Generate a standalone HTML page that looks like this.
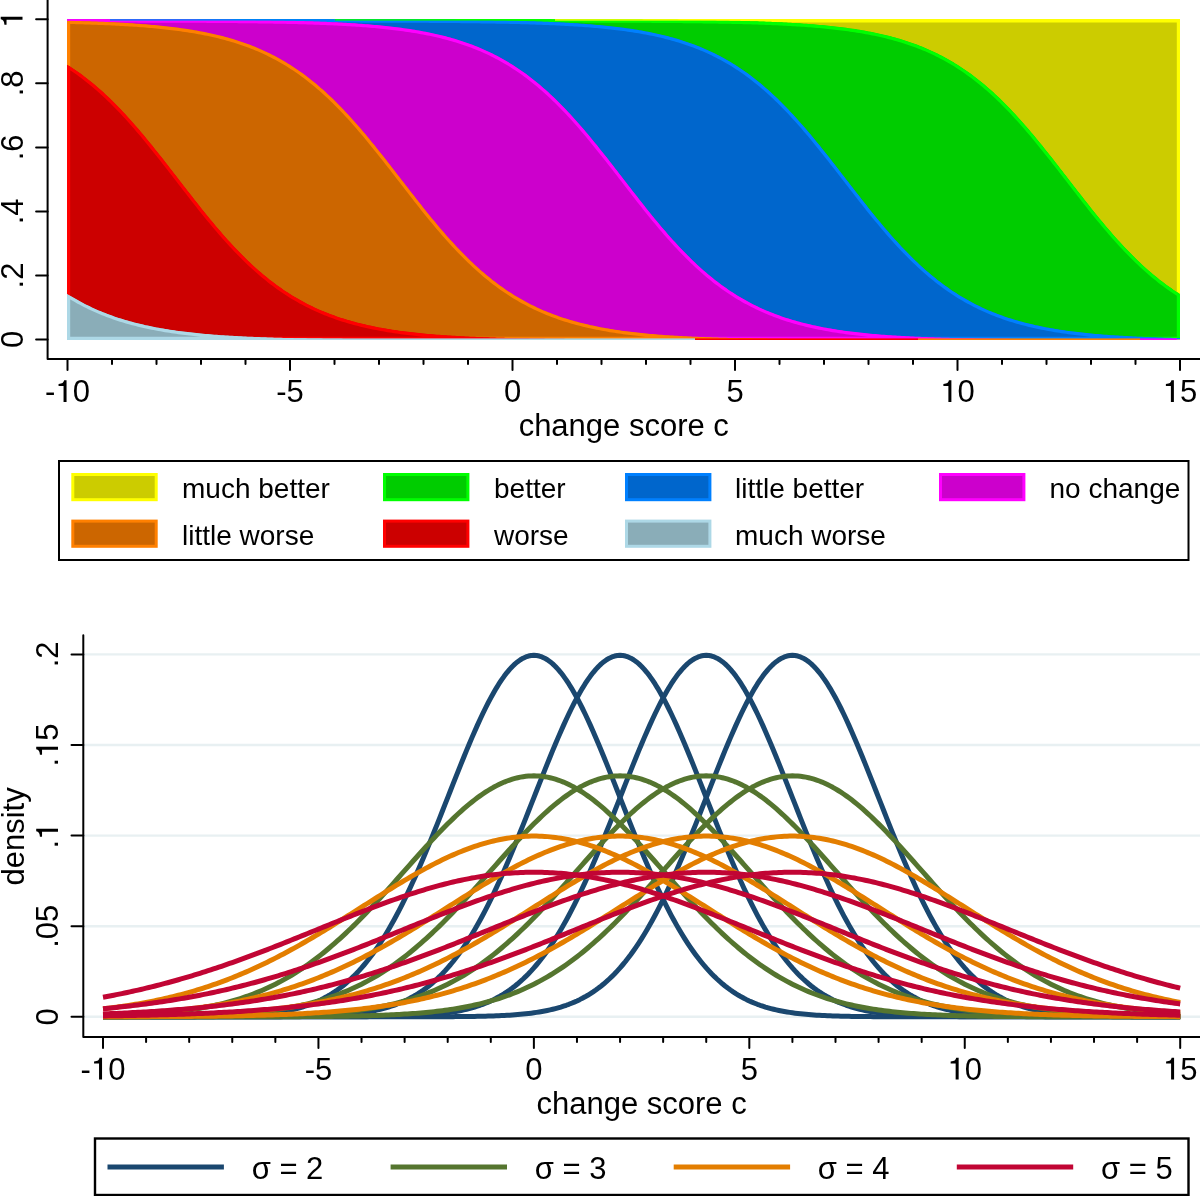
<!DOCTYPE html><html><head><meta charset="utf-8"><style>html,body{margin:0;padding:0;background:#fff;}svg{display:block;will-change:transform;}text{font-family:"Liberation Sans",sans-serif;fill:#000;}</style></head><body>
<svg width="1200" height="1196" viewBox="0 0 1200 1196">
<rect x="0" y="0" width="1200" height="1196" fill="#fff"/>
<defs><clipPath id="cp6"><path d="M67,340 L67,19.3 L69.73,19.3 L71.95,19.3 L74.18,19.3 L76.4,19.3 L78.62,19.3 L80.85,19.3 L83.07,19.3 L85.3,19.3 L87.52,19.3 L89.75,19.3 L91.98,19.3 L94.2,19.3 L96.43,19.3 L98.65,19.3 L100.88,19.3 L103.1,19.3 L105.32,19.3 L107.55,19.3 L109.77,19.3 L112,19.3 L114.23,19.3 L116.45,19.3 L118.68,19.3 L120.9,19.3 L123.12,19.3 L125.35,19.3 L127.57,19.3 L129.8,19.3 L132.02,19.3 L134.25,19.3 L136.48,19.3 L138.7,19.3 L140.93,19.3 L143.15,19.3 L145.38,19.3 L147.6,19.3 L149.82,19.3 L152.05,19.3 L154.27,19.3 L156.5,19.3 L158.72,19.3 L160.95,19.3 L163.18,19.3 L165.4,19.3 L167.62,19.3 L169.85,19.3 L172.07,19.3 L174.3,19.3 L176.53,19.3 L178.75,19.3 L180.97,19.3 L183.2,19.3 L185.43,19.3 L187.65,19.3 L189.88,19.3 L192.1,19.3 L194.32,19.3 L196.55,19.3 L198.78,19.3 L201,19.3 L203.22,19.3 L205.45,19.3 L207.68,19.3 L209.9,19.3 L212.12,19.3 L214.35,19.3 L216.57,19.3 L218.8,19.3 L221.03,19.3 L223.25,19.3 L225.47,19.3 L227.7,19.3 L229.93,19.3 L232.15,19.3 L234.38,19.3 L236.6,19.3 L238.82,19.3 L241.05,19.3 L243.28,19.3 L245.5,19.3 L247.72,19.3 L249.95,19.3 L252.18,19.3 L254.4,19.3 L256.62,19.3 L258.85,19.3 L261.07,19.3 L263.3,19.3 L265.53,19.3 L267.75,19.3 L269.98,19.3 L272.2,19.3 L274.43,19.3 L276.65,19.3 L278.88,19.3 L281.1,19.3 L283.32,19.3 L285.55,19.3 L287.77,19.3 L290,19.3 L292.23,19.3 L294.45,19.3 L296.68,19.3 L298.9,19.3 L301.12,19.3 L303.35,19.3 L305.57,19.3 L307.8,19.3 L310.02,19.3 L312.25,19.3 L314.48,19.3 L316.7,19.3 L318.93,19.3 L321.15,19.3 L323.38,19.3 L325.6,19.3 L327.82,19.3 L330.05,19.3 L332.28,19.3 L334.5,19.3 L336.72,19.3 L338.95,19.3 L341.18,19.3 L343.4,19.3 L345.62,19.3 L347.85,19.3 L350.07,19.3 L352.3,19.3 L354.53,19.3 L356.75,19.3 L358.98,19.3 L361.2,19.3 L363.43,19.3 L365.65,19.3 L367.88,19.3 L370.1,19.3 L372.32,19.3 L374.55,19.3 L376.78,19.3 L379,19.3 L381.22,19.3 L383.45,19.3 L385.68,19.3 L387.9,19.3 L390.12,19.3 L392.35,19.3 L394.57,19.3 L396.8,19.3 L399.02,19.3 L401.25,19.3 L403.47,19.3 L405.7,19.3 L407.93,19.3 L410.15,19.3 L412.38,19.3 L414.6,19.3 L416.82,19.3 L419.05,19.3 L421.27,19.3 L423.5,19.3 L425.73,19.3 L427.95,19.3 L430.18,19.3 L432.4,19.3 L434.62,19.3 L436.85,19.3 L439.07,19.3 L441.3,19.3 L443.52,19.3 L445.75,19.3 L447.98,19.3 L450.2,19.3 L452.43,19.3 L454.65,19.3 L456.88,19.3 L459.1,19.3 L461.32,19.3 L463.55,19.3 L465.77,19.3 L468,19.3 L470.23,19.3 L472.45,19.3 L474.68,19.3 L476.9,19.3 L479.12,19.3 L481.35,19.3 L483.57,19.3 L485.8,19.3 L488.02,19.3 L490.25,19.3 L492.48,19.3 L494.7,19.3 L496.93,19.3 L499.15,19.3 L501.38,19.3 L503.6,19.3 L505.82,19.3 L508.05,19.3 L510.27,19.3 L512.5,19.3 L514.73,19.3 L516.95,19.3 L519.17,19.3 L521.4,19.3 L523.62,19.3 L525.85,19.3 L528.08,19.3 L530.3,19.3 L532.52,19.3 L534.75,19.3 L536.98,19.3 L539.2,19.3 L541.42,19.3 L543.65,19.3 L545.88,19.3 L548.1,19.3 L550.33,19.3 L552.55,19.3 L554.77,19.3 L557,19.3 L559.23,19.3 L561.45,19.3 L563.67,19.3 L565.9,19.3 L568.12,19.3 L570.35,19.3 L572.57,19.3 L574.8,19.3 L577.02,19.3 L579.25,19.3 L581.48,19.3 L583.7,19.3 L585.93,19.3 L588.15,19.3 L590.38,19.3 L592.6,19.3 L594.82,19.3 L597.05,19.3 L599.27,19.3 L601.5,19.3 L603.73,19.3 L605.95,19.3 L608.17,19.3 L610.4,19.3 L612.62,19.3 L614.85,19.3 L617.08,19.3 L619.3,19.3 L621.52,19.3 L623.75,19.3 L625.98,19.3 L628.2,19.3 L630.42,19.3 L632.65,19.3 L634.88,19.3 L637.1,19.3 L639.33,19.3 L641.55,19.3 L643.77,19.3 L646,19.3 L648.23,19.3 L650.45,19.3 L652.68,19.3 L654.9,19.3 L657.12,19.3 L659.35,19.3 L661.58,19.3 L663.8,19.3 L666.02,19.3 L668.25,19.3 L670.48,19.3 L672.7,19.3 L674.93,19.3 L677.15,19.3 L679.38,19.3 L681.6,19.3 L683.82,19.3 L686.05,19.3 L688.27,19.3 L690.5,19.3 L692.73,19.3 L694.95,19.3 L697.18,19.3 L699.4,19.3 L701.62,19.3 L703.85,19.3 L706.07,19.3 L708.3,19.3 L710.52,19.3 L712.75,19.3 L714.98,19.3 L717.2,19.3 L719.42,19.3 L721.65,19.3 L723.88,19.3 L726.1,19.3 L728.32,19.3 L730.55,19.3 L732.77,19.3 L735,19.3 L737.23,19.3 L739.45,19.3 L741.67,19.3 L743.9,19.3 L746.12,19.3 L748.35,19.3 L750.58,19.3 L752.8,19.3 L755.02,19.3 L757.25,19.3 L759.48,19.3 L761.7,19.3 L763.92,19.3 L766.15,19.3 L768.38,19.3 L770.6,19.3 L772.83,19.3 L775.05,19.3 L777.27,19.3 L779.5,19.3 L781.73,19.3 L783.95,19.3 L786.17,19.3 L788.4,19.3 L790.62,19.3 L792.85,19.3 L795.08,19.3 L797.3,19.3 L799.52,19.3 L801.75,19.3 L803.98,19.3 L806.2,19.3 L808.42,19.3 L810.65,19.3 L812.88,19.3 L815.1,19.3 L817.33,19.3 L819.55,19.3 L821.77,19.3 L824,19.3 L826.23,19.3 L828.45,19.3 L830.67,19.3 L832.9,19.3 L835.12,19.3 L837.35,19.3 L839.58,19.3 L841.8,19.3 L844.02,19.3 L846.25,19.3 L848.48,19.3 L850.7,19.3 L852.92,19.3 L855.15,19.3 L857.38,19.3 L859.6,19.3 L861.83,19.3 L864.05,19.3 L866.27,19.3 L868.5,19.3 L870.73,19.3 L872.95,19.3 L875.17,19.3 L877.4,19.3 L879.62,19.3 L881.85,19.3 L884.08,19.3 L886.3,19.3 L888.52,19.3 L890.75,19.3 L892.98,19.3 L895.2,19.3 L897.42,19.3 L899.65,19.3 L901.88,19.3 L904.1,19.3 L906.33,19.3 L908.55,19.3 L910.77,19.3 L913,19.3 L915.23,19.3 L917.45,19.3 L919.67,19.3 L921.9,19.3 L924.12,19.3 L926.35,19.3 L928.58,19.3 L930.8,19.3 L933.02,19.3 L935.25,19.3 L937.48,19.3 L939.7,19.3 L941.92,19.3 L944.15,19.3 L946.38,19.3 L948.6,19.3 L950.83,19.3 L953.05,19.3 L955.27,19.3 L957.5,19.3 L959.73,19.3 L961.95,19.3 L964.17,19.3 L966.4,19.3 L968.63,19.3 L970.85,19.3 L973.08,19.3 L975.3,19.3 L977.52,19.3 L979.75,19.3 L981.98,19.3 L984.2,19.3 L986.42,19.3 L988.65,19.3 L990.88,19.3 L993.1,19.3 L995.33,19.3 L997.55,19.3 L999.77,19.3 L1002,19.3 L1004.23,19.3 L1006.45,19.3 L1008.67,19.3 L1010.9,19.3 L1013.12,19.3 L1015.35,19.3 L1017.58,19.3 L1019.8,19.3 L1022.02,19.3 L1024.25,19.3 L1026.47,19.3 L1028.7,19.3 L1030.92,19.3 L1033.15,19.3 L1035.38,19.3 L1037.6,19.3 L1039.83,19.3 L1042.05,19.3 L1044.28,19.3 L1046.5,19.3 L1048.72,19.3 L1050.95,19.3 L1053.17,19.3 L1055.4,19.3 L1057.62,19.3 L1059.85,19.3 L1062.08,19.3 L1064.3,19.3 L1066.53,19.3 L1068.75,19.3 L1070.97,19.3 L1073.2,19.3 L1075.42,19.3 L1077.65,19.3 L1079.88,19.3 L1082.1,19.3 L1084.33,19.3 L1086.55,19.3 L1088.77,19.3 L1091,19.3 L1093.23,19.3 L1095.45,19.3 L1097.67,19.3 L1099.9,19.3 L1102.12,19.3 L1104.35,19.3 L1106.58,19.3 L1108.8,19.3 L1111.02,19.3 L1113.25,19.3 L1115.48,19.3 L1117.7,19.3 L1119.92,19.3 L1122.15,19.3 L1124.38,19.3 L1126.6,19.3 L1128.83,19.3 L1131.05,19.3 L1133.27,19.3 L1135.5,19.3 L1137.73,19.3 L1139.95,19.3 L1142.17,19.3 L1144.4,19.3 L1146.62,19.3 L1148.85,19.3 L1151.08,19.3 L1153.3,19.3 L1155.53,19.3 L1157.75,19.3 L1159.97,19.3 L1162.2,19.3 L1164.42,19.3 L1166.65,19.3 L1168.88,19.3 L1171.1,19.3 L1173.33,19.3 L1175.55,19.3 L1177.78,19.3 L1180,19.3 L1180,340 Z"/></clipPath><clipPath id="cp5"><path d="M67,340 L67,19.3 L69.73,19.3 L71.95,19.3 L74.18,19.3 L76.4,19.3 L78.62,19.3 L80.85,19.3 L83.07,19.3 L85.3,19.3 L87.52,19.3 L89.75,19.3 L91.98,19.3 L94.2,19.3 L96.43,19.3 L98.65,19.3 L100.88,19.3 L103.1,19.3 L105.32,19.3 L107.55,19.3 L109.77,19.3 L112,19.3 L114.23,19.3 L116.45,19.3 L118.68,19.3 L120.9,19.3 L123.12,19.3 L125.35,19.3 L127.57,19.3 L129.8,19.3 L132.02,19.3 L134.25,19.3 L136.48,19.3 L138.7,19.3 L140.93,19.3 L143.15,19.3 L145.38,19.3 L147.6,19.3 L149.82,19.3 L152.05,19.3 L154.27,19.3 L156.5,19.3 L158.72,19.3 L160.95,19.3 L163.18,19.3 L165.4,19.3 L167.62,19.3 L169.85,19.3 L172.07,19.3 L174.3,19.3 L176.53,19.3 L178.75,19.3 L180.97,19.3 L183.2,19.3 L185.43,19.3 L187.65,19.3 L189.88,19.3 L192.1,19.3 L194.32,19.3 L196.55,19.3 L198.78,19.3 L201,19.3 L203.22,19.3 L205.45,19.3 L207.68,19.3 L209.9,19.3 L212.12,19.3 L214.35,19.3 L216.57,19.3 L218.8,19.3 L221.03,19.3 L223.25,19.3 L225.47,19.3 L227.7,19.3 L229.93,19.3 L232.15,19.3 L234.38,19.3 L236.6,19.3 L238.82,19.3 L241.05,19.3 L243.28,19.3 L245.5,19.3 L247.72,19.3 L249.95,19.3 L252.18,19.3 L254.4,19.3 L256.62,19.3 L258.85,19.3 L261.07,19.3 L263.3,19.3 L265.53,19.3 L267.75,19.3 L269.98,19.3 L272.2,19.3 L274.43,19.3 L276.65,19.3 L278.88,19.3 L281.1,19.3 L283.32,19.3 L285.55,19.3 L287.77,19.3 L290,19.3 L292.23,19.3 L294.45,19.3 L296.68,19.3 L298.9,19.3 L301.12,19.3 L303.35,19.3 L305.57,19.3 L307.8,19.3 L310.02,19.3 L312.25,19.3 L314.48,19.3 L316.7,19.3 L318.93,19.3 L321.15,19.3 L323.38,19.3 L325.6,19.3 L327.82,19.3 L330.05,19.3 L332.28,19.3 L334.5,19.3 L336.72,19.3 L338.95,19.3 L341.18,19.3 L343.4,19.3 L345.62,19.3 L347.85,19.3 L350.07,19.3 L352.3,19.3 L354.53,19.3 L356.75,19.3 L358.98,19.3 L361.2,19.3 L363.43,19.3 L365.65,19.3 L367.88,19.3 L370.1,19.3 L372.32,19.3 L374.55,19.3 L376.78,19.3 L379,19.3 L381.22,19.3 L383.45,19.3 L385.68,19.31 L387.9,19.31 L390.12,19.31 L392.35,19.31 L394.57,19.31 L396.8,19.31 L399.02,19.31 L401.25,19.31 L403.47,19.31 L405.7,19.31 L407.93,19.31 L410.15,19.31 L412.38,19.31 L414.6,19.31 L416.82,19.31 L419.05,19.31 L421.27,19.31 L423.5,19.31 L425.73,19.31 L427.95,19.31 L430.18,19.31 L432.4,19.31 L434.62,19.31 L436.85,19.31 L439.07,19.31 L441.3,19.31 L443.52,19.31 L445.75,19.31 L447.98,19.31 L450.2,19.31 L452.43,19.32 L454.65,19.32 L456.88,19.32 L459.1,19.32 L461.32,19.32 L463.55,19.32 L465.77,19.32 L468,19.32 L470.23,19.32 L472.45,19.32 L474.68,19.32 L476.9,19.32 L479.12,19.32 L481.35,19.32 L483.57,19.32 L485.8,19.33 L488.02,19.33 L490.25,19.33 L492.48,19.33 L494.7,19.33 L496.93,19.33 L499.15,19.33 L501.38,19.33 L503.6,19.33 L505.82,19.34 L508.05,19.34 L510.27,19.34 L512.5,19.34 L514.73,19.34 L516.95,19.34 L519.17,19.34 L521.4,19.35 L523.62,19.35 L525.85,19.35 L528.08,19.35 L530.3,19.35 L532.52,19.36 L534.75,19.36 L536.98,19.36 L539.2,19.36 L541.42,19.36 L543.65,19.37 L545.88,19.37 L548.1,19.37 L550.33,19.37 L552.55,19.38 L554.77,19.38 L557,19.38 L559.23,19.38 L561.45,19.39 L563.67,19.39 L565.9,19.39 L568.12,19.4 L570.35,19.4 L572.57,19.41 L574.8,19.41 L577.02,19.41 L579.25,19.42 L581.48,19.42 L583.7,19.43 L585.93,19.43 L588.15,19.44 L590.38,19.44 L592.6,19.45 L594.82,19.45 L597.05,19.46 L599.27,19.46 L601.5,19.47 L603.73,19.47 L605.95,19.48 L608.17,19.49 L610.4,19.49 L612.62,19.5 L614.85,19.51 L617.08,19.52 L619.3,19.52 L621.52,19.53 L623.75,19.54 L625.98,19.55 L628.2,19.56 L630.42,19.57 L632.65,19.58 L634.88,19.59 L637.1,19.6 L639.33,19.61 L641.55,19.62 L643.77,19.63 L646,19.64 L648.23,19.66 L650.45,19.67 L652.68,19.68 L654.9,19.7 L657.12,19.71 L659.35,19.73 L661.58,19.74 L663.8,19.76 L666.02,19.78 L668.25,19.79 L670.48,19.81 L672.7,19.83 L674.93,19.85 L677.15,19.87 L679.38,19.89 L681.6,19.91 L683.82,19.93 L686.05,19.96 L688.27,19.98 L690.5,20.01 L692.73,20.03 L694.95,20.06 L697.18,20.09 L699.4,20.11 L701.62,20.14 L703.85,20.18 L706.07,20.21 L708.3,20.24 L710.52,20.27 L712.75,20.31 L714.98,20.35 L717.2,20.39 L719.42,20.43 L721.65,20.47 L723.88,20.51 L726.1,20.55 L728.32,20.6 L730.55,20.65 L732.77,20.7 L735,20.75 L737.23,20.8 L739.45,20.85 L741.67,20.91 L743.9,20.97 L746.12,21.03 L748.35,21.09 L750.58,21.16 L752.8,21.23 L755.02,21.3 L757.25,21.37 L759.48,21.44 L761.7,21.52 L763.92,21.6 L766.15,21.69 L768.38,21.77 L770.6,21.86 L772.83,21.96 L775.05,22.05 L777.27,22.15 L779.5,22.25 L781.73,22.36 L783.95,22.47 L786.17,22.59 L788.4,22.71 L790.62,22.83 L792.85,22.96 L795.08,23.09 L797.3,23.23 L799.52,23.37 L801.75,23.52 L803.98,23.67 L806.2,23.83 L808.42,23.99 L810.65,24.16 L812.88,24.33 L815.1,24.52 L817.33,24.7 L819.55,24.9 L821.77,25.1 L824,25.31 L826.23,25.52 L828.45,25.75 L830.67,25.98 L832.9,26.22 L835.12,26.47 L837.35,26.72 L839.58,26.99 L841.8,27.26 L844.02,27.55 L846.25,27.84 L848.48,28.14 L850.7,28.46 L852.92,28.78 L855.15,29.12 L857.38,29.47 L859.6,29.83 L861.83,30.2 L864.05,30.59 L866.27,30.99 L868.5,31.4 L870.73,31.82 L872.95,32.26 L875.17,32.72 L877.4,33.19 L879.62,33.67 L881.85,34.18 L884.08,34.7 L886.3,35.23 L888.52,35.78 L890.75,36.36 L892.98,36.95 L895.2,37.56 L897.42,38.19 L899.65,38.83 L901.88,39.5 L904.1,40.2 L906.33,40.91 L908.55,41.65 L910.77,42.41 L913,43.19 L915.23,44 L917.45,44.83 L919.67,45.69 L921.9,46.57 L924.12,47.48 L926.35,48.42 L928.58,49.39 L930.8,50.38 L933.02,51.41 L935.25,52.46 L937.48,53.54 L939.7,54.66 L941.92,55.81 L944.15,56.99 L946.38,58.2 L948.6,59.45 L950.83,60.73 L953.05,62.04 L955.27,63.39 L957.5,64.78 L959.73,66.2 L961.95,67.66 L964.17,69.15 L966.4,70.69 L968.63,72.26 L970.85,73.86 L973.08,75.51 L975.3,77.2 L977.52,78.92 L979.75,80.69 L981.98,82.49 L984.2,84.34 L986.42,86.22 L988.65,88.15 L990.88,90.11 L993.1,92.12 L995.33,94.16 L997.55,96.24 L999.77,98.36 L1002,100.52 L1004.23,102.72 L1006.45,104.96 L1008.67,107.24 L1010.9,109.55 L1013.12,111.9 L1015.35,114.29 L1017.58,116.71 L1019.8,119.16 L1022.02,121.65 L1024.25,124.17 L1026.47,126.72 L1028.7,129.31 L1030.92,131.92 L1033.15,134.56 L1035.38,137.23 L1037.6,139.92 L1039.83,142.63 L1042.05,145.37 L1044.28,148.13 L1046.5,150.91 L1048.72,153.71 L1050.95,156.52 L1053.17,159.35 L1055.4,162.19 L1057.62,165.04 L1059.85,167.9 L1062.08,170.77 L1064.3,173.64 L1066.53,176.52 L1068.75,179.4 L1070.97,182.28 L1073.2,185.16 L1075.42,188.03 L1077.65,190.9 L1079.88,193.76 L1082.1,196.61 L1084.33,199.45 L1086.55,202.28 L1088.77,205.09 L1091,207.89 L1093.23,210.67 L1095.45,213.43 L1097.67,216.17 L1099.9,218.88 L1102.12,221.57 L1104.35,224.24 L1106.58,226.88 L1108.8,229.49 L1111.02,232.08 L1113.25,234.63 L1115.48,237.15 L1117.7,239.64 L1119.92,242.09 L1122.15,244.51 L1124.38,246.9 L1126.6,249.25 L1128.83,251.56 L1131.05,253.84 L1133.27,256.08 L1135.5,258.28 L1137.73,260.44 L1139.95,262.56 L1142.17,264.64 L1144.4,266.68 L1146.62,268.69 L1148.85,270.65 L1151.08,272.58 L1153.3,274.46 L1155.53,276.31 L1157.75,278.11 L1159.97,279.88 L1162.2,281.6 L1164.42,283.29 L1166.65,284.94 L1168.88,286.54 L1171.1,288.11 L1173.33,289.65 L1175.55,291.14 L1177.78,292.6 L1180,294.02 L1180,340 Z"/></clipPath><clipPath id="cp4"><path d="M67,340 L67,19.3 L69.73,19.3 L71.95,19.3 L74.18,19.3 L76.4,19.3 L78.62,19.3 L80.85,19.3 L83.07,19.3 L85.3,19.3 L87.52,19.3 L89.75,19.3 L91.98,19.3 L94.2,19.3 L96.43,19.3 L98.65,19.3 L100.88,19.3 L103.1,19.3 L105.32,19.3 L107.55,19.3 L109.77,19.3 L112,19.3 L114.23,19.3 L116.45,19.3 L118.68,19.3 L120.9,19.3 L123.12,19.3 L125.35,19.3 L127.57,19.3 L129.8,19.3 L132.02,19.3 L134.25,19.3 L136.48,19.3 L138.7,19.3 L140.93,19.3 L143.15,19.3 L145.38,19.3 L147.6,19.3 L149.82,19.3 L152.05,19.3 L154.27,19.3 L156.5,19.3 L158.72,19.3 L160.95,19.3 L163.18,19.31 L165.4,19.31 L167.62,19.31 L169.85,19.31 L172.07,19.31 L174.3,19.31 L176.53,19.31 L178.75,19.31 L180.97,19.31 L183.2,19.31 L185.43,19.31 L187.65,19.31 L189.88,19.31 L192.1,19.31 L194.32,19.31 L196.55,19.31 L198.78,19.31 L201,19.31 L203.22,19.31 L205.45,19.31 L207.68,19.31 L209.9,19.31 L212.12,19.31 L214.35,19.31 L216.57,19.31 L218.8,19.31 L221.03,19.31 L223.25,19.31 L225.47,19.31 L227.7,19.31 L229.93,19.32 L232.15,19.32 L234.38,19.32 L236.6,19.32 L238.82,19.32 L241.05,19.32 L243.28,19.32 L245.5,19.32 L247.72,19.32 L249.95,19.32 L252.18,19.32 L254.4,19.32 L256.62,19.32 L258.85,19.32 L261.07,19.32 L263.3,19.33 L265.53,19.33 L267.75,19.33 L269.98,19.33 L272.2,19.33 L274.43,19.33 L276.65,19.33 L278.88,19.33 L281.1,19.33 L283.32,19.34 L285.55,19.34 L287.77,19.34 L290,19.34 L292.23,19.34 L294.45,19.34 L296.68,19.34 L298.9,19.35 L301.12,19.35 L303.35,19.35 L305.57,19.35 L307.8,19.35 L310.02,19.36 L312.25,19.36 L314.48,19.36 L316.7,19.36 L318.93,19.36 L321.15,19.37 L323.38,19.37 L325.6,19.37 L327.82,19.37 L330.05,19.38 L332.28,19.38 L334.5,19.38 L336.72,19.38 L338.95,19.39 L341.18,19.39 L343.4,19.39 L345.62,19.4 L347.85,19.4 L350.07,19.41 L352.3,19.41 L354.53,19.41 L356.75,19.42 L358.98,19.42 L361.2,19.43 L363.43,19.43 L365.65,19.44 L367.88,19.44 L370.1,19.45 L372.32,19.45 L374.55,19.46 L376.78,19.46 L379,19.47 L381.22,19.47 L383.45,19.48 L385.68,19.49 L387.9,19.49 L390.12,19.5 L392.35,19.51 L394.57,19.52 L396.8,19.52 L399.02,19.53 L401.25,19.54 L403.47,19.55 L405.7,19.56 L407.93,19.57 L410.15,19.58 L412.38,19.59 L414.6,19.6 L416.82,19.61 L419.05,19.62 L421.27,19.63 L423.5,19.64 L425.73,19.66 L427.95,19.67 L430.18,19.68 L432.4,19.7 L434.62,19.71 L436.85,19.73 L439.07,19.74 L441.3,19.76 L443.52,19.78 L445.75,19.79 L447.98,19.81 L450.2,19.83 L452.43,19.85 L454.65,19.87 L456.88,19.89 L459.1,19.91 L461.32,19.93 L463.55,19.96 L465.77,19.98 L468,20.01 L470.23,20.03 L472.45,20.06 L474.68,20.09 L476.9,20.11 L479.12,20.14 L481.35,20.18 L483.57,20.21 L485.8,20.24 L488.02,20.27 L490.25,20.31 L492.48,20.35 L494.7,20.39 L496.93,20.43 L499.15,20.47 L501.38,20.51 L503.6,20.55 L505.82,20.6 L508.05,20.65 L510.27,20.7 L512.5,20.75 L514.73,20.8 L516.95,20.85 L519.17,20.91 L521.4,20.97 L523.62,21.03 L525.85,21.09 L528.08,21.16 L530.3,21.23 L532.52,21.3 L534.75,21.37 L536.98,21.44 L539.2,21.52 L541.42,21.6 L543.65,21.69 L545.88,21.77 L548.1,21.86 L550.33,21.96 L552.55,22.05 L554.77,22.15 L557,22.25 L559.23,22.36 L561.45,22.47 L563.67,22.59 L565.9,22.71 L568.12,22.83 L570.35,22.96 L572.57,23.09 L574.8,23.23 L577.02,23.37 L579.25,23.52 L581.48,23.67 L583.7,23.83 L585.93,23.99 L588.15,24.16 L590.38,24.33 L592.6,24.52 L594.82,24.7 L597.05,24.9 L599.27,25.1 L601.5,25.31 L603.73,25.52 L605.95,25.75 L608.17,25.98 L610.4,26.22 L612.62,26.47 L614.85,26.72 L617.08,26.99 L619.3,27.26 L621.52,27.55 L623.75,27.84 L625.98,28.14 L628.2,28.46 L630.42,28.78 L632.65,29.12 L634.88,29.47 L637.1,29.83 L639.33,30.2 L641.55,30.59 L643.77,30.99 L646,31.4 L648.23,31.82 L650.45,32.26 L652.68,32.72 L654.9,33.19 L657.12,33.67 L659.35,34.18 L661.58,34.7 L663.8,35.23 L666.02,35.78 L668.25,36.36 L670.48,36.95 L672.7,37.56 L674.93,38.19 L677.15,38.83 L679.38,39.5 L681.6,40.2 L683.82,40.91 L686.05,41.65 L688.27,42.41 L690.5,43.19 L692.73,44 L694.95,44.83 L697.18,45.69 L699.4,46.57 L701.62,47.48 L703.85,48.42 L706.07,49.39 L708.3,50.38 L710.52,51.41 L712.75,52.46 L714.98,53.54 L717.2,54.66 L719.42,55.81 L721.65,56.99 L723.88,58.2 L726.1,59.45 L728.32,60.73 L730.55,62.04 L732.77,63.39 L735,64.78 L737.23,66.2 L739.45,67.66 L741.67,69.15 L743.9,70.69 L746.12,72.26 L748.35,73.86 L750.58,75.51 L752.8,77.2 L755.02,78.92 L757.25,80.69 L759.48,82.49 L761.7,84.34 L763.92,86.22 L766.15,88.15 L768.38,90.11 L770.6,92.12 L772.83,94.16 L775.05,96.24 L777.27,98.36 L779.5,100.52 L781.73,102.72 L783.95,104.96 L786.17,107.24 L788.4,109.55 L790.62,111.9 L792.85,114.29 L795.08,116.71 L797.3,119.16 L799.52,121.65 L801.75,124.17 L803.98,126.72 L806.2,129.31 L808.42,131.92 L810.65,134.56 L812.88,137.23 L815.1,139.92 L817.33,142.63 L819.55,145.37 L821.77,148.13 L824,150.91 L826.23,153.71 L828.45,156.52 L830.67,159.35 L832.9,162.19 L835.12,165.04 L837.35,167.9 L839.58,170.77 L841.8,173.64 L844.02,176.52 L846.25,179.4 L848.48,182.28 L850.7,185.16 L852.92,188.03 L855.15,190.9 L857.38,193.76 L859.6,196.61 L861.83,199.45 L864.05,202.28 L866.27,205.09 L868.5,207.89 L870.73,210.67 L872.95,213.43 L875.17,216.17 L877.4,218.88 L879.62,221.57 L881.85,224.24 L884.08,226.88 L886.3,229.49 L888.52,232.08 L890.75,234.63 L892.98,237.15 L895.2,239.64 L897.42,242.09 L899.65,244.51 L901.88,246.9 L904.1,249.25 L906.33,251.56 L908.55,253.84 L910.77,256.08 L913,258.28 L915.23,260.44 L917.45,262.56 L919.67,264.64 L921.9,266.68 L924.12,268.69 L926.35,270.65 L928.58,272.58 L930.8,274.46 L933.02,276.31 L935.25,278.11 L937.48,279.88 L939.7,281.6 L941.92,283.29 L944.15,284.94 L946.38,286.54 L948.6,288.11 L950.83,289.65 L953.05,291.14 L955.27,292.6 L957.5,294.02 L959.73,295.41 L961.95,296.76 L964.17,298.07 L966.4,299.35 L968.63,300.6 L970.85,301.81 L973.08,302.99 L975.3,304.14 L977.52,305.26 L979.75,306.34 L981.98,307.39 L984.2,308.42 L986.42,309.41 L988.65,310.38 L990.88,311.32 L993.1,312.23 L995.33,313.11 L997.55,313.97 L999.77,314.8 L1002,315.61 L1004.23,316.39 L1006.45,317.15 L1008.67,317.89 L1010.9,318.6 L1013.12,319.3 L1015.35,319.97 L1017.58,320.61 L1019.8,321.24 L1022.02,321.85 L1024.25,322.44 L1026.47,323.02 L1028.7,323.57 L1030.92,324.1 L1033.15,324.62 L1035.38,325.13 L1037.6,325.61 L1039.83,326.08 L1042.05,326.54 L1044.28,326.98 L1046.5,327.4 L1048.72,327.81 L1050.95,328.21 L1053.17,328.6 L1055.4,328.97 L1057.62,329.33 L1059.85,329.68 L1062.08,330.02 L1064.3,330.34 L1066.53,330.66 L1068.75,330.96 L1070.97,331.25 L1073.2,331.54 L1075.42,331.81 L1077.65,332.08 L1079.88,332.33 L1082.1,332.58 L1084.33,332.82 L1086.55,333.05 L1088.77,333.28 L1091,333.49 L1093.23,333.7 L1095.45,333.9 L1097.67,334.1 L1099.9,334.28 L1102.12,334.47 L1104.35,334.64 L1106.58,334.81 L1108.8,334.97 L1111.02,335.13 L1113.25,335.28 L1115.48,335.43 L1117.7,335.57 L1119.92,335.71 L1122.15,335.84 L1124.38,335.97 L1126.6,336.09 L1128.83,336.21 L1131.05,336.33 L1133.27,336.44 L1135.5,336.55 L1137.73,336.65 L1139.95,336.75 L1142.17,336.84 L1144.4,336.94 L1146.62,337.03 L1148.85,337.11 L1151.08,337.2 L1153.3,337.28 L1155.53,337.36 L1157.75,337.43 L1159.97,337.5 L1162.2,337.57 L1164.42,337.64 L1166.65,337.71 L1168.88,337.77 L1171.1,337.83 L1173.33,337.89 L1175.55,337.95 L1177.78,338 L1180,338.05 L1180,340 Z"/></clipPath><clipPath id="cp3"><path d="M67,340 L67,19.34 L69.73,19.34 L71.95,19.34 L74.18,19.34 L76.4,19.35 L78.62,19.35 L80.85,19.35 L83.07,19.35 L85.3,19.35 L87.52,19.36 L89.75,19.36 L91.98,19.36 L94.2,19.36 L96.43,19.36 L98.65,19.37 L100.88,19.37 L103.1,19.37 L105.32,19.37 L107.55,19.38 L109.77,19.38 L112,19.38 L114.23,19.38 L116.45,19.39 L118.68,19.39 L120.9,19.39 L123.12,19.4 L125.35,19.4 L127.57,19.41 L129.8,19.41 L132.02,19.41 L134.25,19.42 L136.48,19.42 L138.7,19.43 L140.93,19.43 L143.15,19.44 L145.38,19.44 L147.6,19.45 L149.82,19.45 L152.05,19.46 L154.27,19.46 L156.5,19.47 L158.72,19.47 L160.95,19.48 L163.18,19.49 L165.4,19.49 L167.62,19.5 L169.85,19.51 L172.07,19.52 L174.3,19.52 L176.53,19.53 L178.75,19.54 L180.97,19.55 L183.2,19.56 L185.43,19.57 L187.65,19.58 L189.88,19.59 L192.1,19.6 L194.32,19.61 L196.55,19.62 L198.78,19.63 L201,19.64 L203.22,19.66 L205.45,19.67 L207.68,19.68 L209.9,19.7 L212.12,19.71 L214.35,19.73 L216.57,19.74 L218.8,19.76 L221.03,19.78 L223.25,19.79 L225.47,19.81 L227.7,19.83 L229.93,19.85 L232.15,19.87 L234.38,19.89 L236.6,19.91 L238.82,19.93 L241.05,19.96 L243.28,19.98 L245.5,20.01 L247.72,20.03 L249.95,20.06 L252.18,20.09 L254.4,20.11 L256.62,20.14 L258.85,20.18 L261.07,20.21 L263.3,20.24 L265.53,20.27 L267.75,20.31 L269.98,20.35 L272.2,20.39 L274.43,20.43 L276.65,20.47 L278.88,20.51 L281.1,20.55 L283.32,20.6 L285.55,20.65 L287.77,20.7 L290,20.75 L292.23,20.8 L294.45,20.85 L296.68,20.91 L298.9,20.97 L301.12,21.03 L303.35,21.09 L305.57,21.16 L307.8,21.23 L310.02,21.3 L312.25,21.37 L314.48,21.44 L316.7,21.52 L318.93,21.6 L321.15,21.69 L323.38,21.77 L325.6,21.86 L327.82,21.96 L330.05,22.05 L332.28,22.15 L334.5,22.25 L336.72,22.36 L338.95,22.47 L341.18,22.59 L343.4,22.71 L345.62,22.83 L347.85,22.96 L350.07,23.09 L352.3,23.23 L354.53,23.37 L356.75,23.52 L358.98,23.67 L361.2,23.83 L363.43,23.99 L365.65,24.16 L367.88,24.33 L370.1,24.52 L372.32,24.7 L374.55,24.9 L376.78,25.1 L379,25.31 L381.22,25.52 L383.45,25.75 L385.68,25.98 L387.9,26.22 L390.12,26.47 L392.35,26.72 L394.57,26.99 L396.8,27.26 L399.02,27.55 L401.25,27.84 L403.47,28.14 L405.7,28.46 L407.93,28.78 L410.15,29.12 L412.38,29.47 L414.6,29.83 L416.82,30.2 L419.05,30.59 L421.27,30.99 L423.5,31.4 L425.73,31.82 L427.95,32.26 L430.18,32.72 L432.4,33.19 L434.62,33.67 L436.85,34.18 L439.07,34.7 L441.3,35.23 L443.52,35.78 L445.75,36.36 L447.98,36.95 L450.2,37.56 L452.43,38.19 L454.65,38.83 L456.88,39.5 L459.1,40.2 L461.32,40.91 L463.55,41.65 L465.77,42.41 L468,43.19 L470.23,44 L472.45,44.83 L474.68,45.69 L476.9,46.57 L479.12,47.48 L481.35,48.42 L483.57,49.39 L485.8,50.38 L488.02,51.41 L490.25,52.46 L492.48,53.54 L494.7,54.66 L496.93,55.81 L499.15,56.99 L501.38,58.2 L503.6,59.45 L505.82,60.73 L508.05,62.04 L510.27,63.39 L512.5,64.78 L514.73,66.2 L516.95,67.66 L519.17,69.15 L521.4,70.69 L523.62,72.26 L525.85,73.86 L528.08,75.51 L530.3,77.2 L532.52,78.92 L534.75,80.69 L536.98,82.49 L539.2,84.34 L541.42,86.22 L543.65,88.15 L545.88,90.11 L548.1,92.12 L550.33,94.16 L552.55,96.24 L554.77,98.36 L557,100.52 L559.23,102.72 L561.45,104.96 L563.67,107.24 L565.9,109.55 L568.12,111.9 L570.35,114.29 L572.57,116.71 L574.8,119.16 L577.02,121.65 L579.25,124.17 L581.48,126.72 L583.7,129.31 L585.93,131.92 L588.15,134.56 L590.38,137.23 L592.6,139.92 L594.82,142.63 L597.05,145.37 L599.27,148.13 L601.5,150.91 L603.73,153.71 L605.95,156.52 L608.17,159.35 L610.4,162.19 L612.62,165.04 L614.85,167.9 L617.08,170.77 L619.3,173.64 L621.52,176.52 L623.75,179.4 L625.98,182.28 L628.2,185.16 L630.42,188.03 L632.65,190.9 L634.88,193.76 L637.1,196.61 L639.33,199.45 L641.55,202.28 L643.77,205.09 L646,207.89 L648.23,210.67 L650.45,213.43 L652.68,216.17 L654.9,218.88 L657.12,221.57 L659.35,224.24 L661.58,226.88 L663.8,229.49 L666.02,232.08 L668.25,234.63 L670.48,237.15 L672.7,239.64 L674.93,242.09 L677.15,244.51 L679.38,246.9 L681.6,249.25 L683.82,251.56 L686.05,253.84 L688.27,256.08 L690.5,258.28 L692.73,260.44 L694.95,262.56 L697.18,264.64 L699.4,266.68 L701.62,268.69 L703.85,270.65 L706.07,272.58 L708.3,274.46 L710.52,276.31 L712.75,278.11 L714.98,279.88 L717.2,281.6 L719.42,283.29 L721.65,284.94 L723.88,286.54 L726.1,288.11 L728.32,289.65 L730.55,291.14 L732.77,292.6 L735,294.02 L737.23,295.41 L739.45,296.76 L741.67,298.07 L743.9,299.35 L746.12,300.6 L748.35,301.81 L750.58,302.99 L752.8,304.14 L755.02,305.26 L757.25,306.34 L759.48,307.39 L761.7,308.42 L763.92,309.41 L766.15,310.38 L768.38,311.32 L770.6,312.23 L772.83,313.11 L775.05,313.97 L777.27,314.8 L779.5,315.61 L781.73,316.39 L783.95,317.15 L786.17,317.89 L788.4,318.6 L790.62,319.3 L792.85,319.97 L795.08,320.61 L797.3,321.24 L799.52,321.85 L801.75,322.44 L803.98,323.02 L806.2,323.57 L808.42,324.1 L810.65,324.62 L812.88,325.13 L815.1,325.61 L817.33,326.08 L819.55,326.54 L821.77,326.98 L824,327.4 L826.23,327.81 L828.45,328.21 L830.67,328.6 L832.9,328.97 L835.12,329.33 L837.35,329.68 L839.58,330.02 L841.8,330.34 L844.02,330.66 L846.25,330.96 L848.48,331.25 L850.7,331.54 L852.92,331.81 L855.15,332.08 L857.38,332.33 L859.6,332.58 L861.83,332.82 L864.05,333.05 L866.27,333.28 L868.5,333.49 L870.73,333.7 L872.95,333.9 L875.17,334.1 L877.4,334.28 L879.62,334.47 L881.85,334.64 L884.08,334.81 L886.3,334.97 L888.52,335.13 L890.75,335.28 L892.98,335.43 L895.2,335.57 L897.42,335.71 L899.65,335.84 L901.88,335.97 L904.1,336.09 L906.33,336.21 L908.55,336.33 L910.77,336.44 L913,336.55 L915.23,336.65 L917.45,336.75 L919.67,336.84 L921.9,336.94 L924.12,337.03 L926.35,337.11 L928.58,337.2 L930.8,337.28 L933.02,337.36 L935.25,337.43 L937.48,337.5 L939.7,337.57 L941.92,337.64 L944.15,337.71 L946.38,337.77 L948.6,337.83 L950.83,337.89 L953.05,337.95 L955.27,338 L957.5,338.05 L959.73,338.1 L961.95,338.15 L964.17,338.2 L966.4,338.25 L968.63,338.29 L970.85,338.33 L973.08,338.37 L975.3,338.41 L977.52,338.45 L979.75,338.49 L981.98,338.53 L984.2,338.56 L986.42,338.59 L988.65,338.62 L990.88,338.66 L993.1,338.69 L995.33,338.71 L997.55,338.74 L999.77,338.77 L1002,338.79 L1004.23,338.82 L1006.45,338.84 L1008.67,338.87 L1010.9,338.89 L1013.12,338.91 L1015.35,338.93 L1017.58,338.95 L1019.8,338.97 L1022.02,338.99 L1024.25,339.01 L1026.47,339.02 L1028.7,339.04 L1030.92,339.06 L1033.15,339.07 L1035.38,339.09 L1037.6,339.1 L1039.83,339.12 L1042.05,339.13 L1044.28,339.14 L1046.5,339.16 L1048.72,339.17 L1050.95,339.18 L1053.17,339.19 L1055.4,339.2 L1057.62,339.21 L1059.85,339.22 L1062.08,339.23 L1064.3,339.24 L1066.53,339.25 L1068.75,339.26 L1070.97,339.27 L1073.2,339.28 L1075.42,339.28 L1077.65,339.29 L1079.88,339.3 L1082.1,339.31 L1084.33,339.31 L1086.55,339.32 L1088.77,339.33 L1091,339.33 L1093.23,339.34 L1095.45,339.34 L1097.67,339.35 L1099.9,339.35 L1102.12,339.36 L1104.35,339.36 L1106.58,339.37 L1108.8,339.37 L1111.02,339.38 L1113.25,339.38 L1115.48,339.39 L1117.7,339.39 L1119.92,339.39 L1122.15,339.4 L1124.38,339.4 L1126.6,339.41 L1128.83,339.41 L1131.05,339.41 L1133.27,339.42 L1135.5,339.42 L1137.73,339.42 L1139.95,339.42 L1142.17,339.43 L1144.4,339.43 L1146.62,339.43 L1148.85,339.43 L1151.08,339.44 L1153.3,339.44 L1155.53,339.44 L1157.75,339.44 L1159.97,339.44 L1162.2,339.45 L1164.42,339.45 L1166.65,339.45 L1168.88,339.45 L1171.1,339.45 L1173.33,339.46 L1175.55,339.46 L1177.78,339.46 L1180,339.46 L1180,340 Z"/></clipPath><clipPath id="cp2"><path d="M67,340 L67,20.75 L69.73,20.8 L71.95,20.85 L74.18,20.91 L76.4,20.97 L78.62,21.03 L80.85,21.09 L83.07,21.16 L85.3,21.23 L87.52,21.3 L89.75,21.37 L91.98,21.44 L94.2,21.52 L96.43,21.6 L98.65,21.69 L100.88,21.77 L103.1,21.86 L105.32,21.96 L107.55,22.05 L109.77,22.15 L112,22.25 L114.23,22.36 L116.45,22.47 L118.68,22.59 L120.9,22.71 L123.12,22.83 L125.35,22.96 L127.57,23.09 L129.8,23.23 L132.02,23.37 L134.25,23.52 L136.48,23.67 L138.7,23.83 L140.93,23.99 L143.15,24.16 L145.38,24.33 L147.6,24.52 L149.82,24.7 L152.05,24.9 L154.27,25.1 L156.5,25.31 L158.72,25.52 L160.95,25.75 L163.18,25.98 L165.4,26.22 L167.62,26.47 L169.85,26.72 L172.07,26.99 L174.3,27.26 L176.53,27.55 L178.75,27.84 L180.97,28.14 L183.2,28.46 L185.43,28.78 L187.65,29.12 L189.88,29.47 L192.1,29.83 L194.32,30.2 L196.55,30.59 L198.78,30.99 L201,31.4 L203.22,31.82 L205.45,32.26 L207.68,32.72 L209.9,33.19 L212.12,33.67 L214.35,34.18 L216.57,34.7 L218.8,35.23 L221.03,35.78 L223.25,36.36 L225.47,36.95 L227.7,37.56 L229.93,38.19 L232.15,38.83 L234.38,39.5 L236.6,40.2 L238.82,40.91 L241.05,41.65 L243.28,42.41 L245.5,43.19 L247.72,44 L249.95,44.83 L252.18,45.69 L254.4,46.57 L256.62,47.48 L258.85,48.42 L261.07,49.39 L263.3,50.38 L265.53,51.41 L267.75,52.46 L269.98,53.54 L272.2,54.66 L274.43,55.81 L276.65,56.99 L278.88,58.2 L281.1,59.45 L283.32,60.73 L285.55,62.04 L287.77,63.39 L290,64.78 L292.23,66.2 L294.45,67.66 L296.68,69.15 L298.9,70.69 L301.12,72.26 L303.35,73.86 L305.57,75.51 L307.8,77.2 L310.02,78.92 L312.25,80.69 L314.48,82.49 L316.7,84.34 L318.93,86.22 L321.15,88.15 L323.38,90.11 L325.6,92.12 L327.82,94.16 L330.05,96.24 L332.28,98.36 L334.5,100.52 L336.72,102.72 L338.95,104.96 L341.18,107.24 L343.4,109.55 L345.62,111.9 L347.85,114.29 L350.07,116.71 L352.3,119.16 L354.53,121.65 L356.75,124.17 L358.98,126.72 L361.2,129.31 L363.43,131.92 L365.65,134.56 L367.88,137.23 L370.1,139.92 L372.32,142.63 L374.55,145.37 L376.78,148.13 L379,150.91 L381.22,153.71 L383.45,156.52 L385.68,159.35 L387.9,162.19 L390.12,165.04 L392.35,167.9 L394.57,170.77 L396.8,173.64 L399.02,176.52 L401.25,179.4 L403.47,182.28 L405.7,185.16 L407.93,188.03 L410.15,190.9 L412.38,193.76 L414.6,196.61 L416.82,199.45 L419.05,202.28 L421.27,205.09 L423.5,207.89 L425.73,210.67 L427.95,213.43 L430.18,216.17 L432.4,218.88 L434.62,221.57 L436.85,224.24 L439.07,226.88 L441.3,229.49 L443.52,232.08 L445.75,234.63 L447.98,237.15 L450.2,239.64 L452.43,242.09 L454.65,244.51 L456.88,246.9 L459.1,249.25 L461.32,251.56 L463.55,253.84 L465.77,256.08 L468,258.28 L470.23,260.44 L472.45,262.56 L474.68,264.64 L476.9,266.68 L479.12,268.69 L481.35,270.65 L483.57,272.58 L485.8,274.46 L488.02,276.31 L490.25,278.11 L492.48,279.88 L494.7,281.6 L496.93,283.29 L499.15,284.94 L501.38,286.54 L503.6,288.11 L505.82,289.65 L508.05,291.14 L510.27,292.6 L512.5,294.02 L514.73,295.41 L516.95,296.76 L519.17,298.07 L521.4,299.35 L523.62,300.6 L525.85,301.81 L528.08,302.99 L530.3,304.14 L532.52,305.26 L534.75,306.34 L536.98,307.39 L539.2,308.42 L541.42,309.41 L543.65,310.38 L545.88,311.32 L548.1,312.23 L550.33,313.11 L552.55,313.97 L554.77,314.8 L557,315.61 L559.23,316.39 L561.45,317.15 L563.67,317.89 L565.9,318.6 L568.12,319.3 L570.35,319.97 L572.57,320.61 L574.8,321.24 L577.02,321.85 L579.25,322.44 L581.48,323.02 L583.7,323.57 L585.93,324.1 L588.15,324.62 L590.38,325.13 L592.6,325.61 L594.82,326.08 L597.05,326.54 L599.27,326.98 L601.5,327.4 L603.73,327.81 L605.95,328.21 L608.17,328.6 L610.4,328.97 L612.62,329.33 L614.85,329.68 L617.08,330.02 L619.3,330.34 L621.52,330.66 L623.75,330.96 L625.98,331.25 L628.2,331.54 L630.42,331.81 L632.65,332.08 L634.88,332.33 L637.1,332.58 L639.33,332.82 L641.55,333.05 L643.77,333.28 L646,333.49 L648.23,333.7 L650.45,333.9 L652.68,334.1 L654.9,334.28 L657.12,334.47 L659.35,334.64 L661.58,334.81 L663.8,334.97 L666.02,335.13 L668.25,335.28 L670.48,335.43 L672.7,335.57 L674.93,335.71 L677.15,335.84 L679.38,335.97 L681.6,336.09 L683.82,336.21 L686.05,336.33 L688.27,336.44 L690.5,336.55 L692.73,336.65 L694.95,336.75 L697.18,336.84 L699.4,336.94 L701.62,337.03 L703.85,337.11 L706.07,337.2 L708.3,337.28 L710.52,337.36 L712.75,337.43 L714.98,337.5 L717.2,337.57 L719.42,337.64 L721.65,337.71 L723.88,337.77 L726.1,337.83 L728.32,337.89 L730.55,337.95 L732.77,338 L735,338.05 L737.23,338.1 L739.45,338.15 L741.67,338.2 L743.9,338.25 L746.12,338.29 L748.35,338.33 L750.58,338.37 L752.8,338.41 L755.02,338.45 L757.25,338.49 L759.48,338.53 L761.7,338.56 L763.92,338.59 L766.15,338.62 L768.38,338.66 L770.6,338.69 L772.83,338.71 L775.05,338.74 L777.27,338.77 L779.5,338.79 L781.73,338.82 L783.95,338.84 L786.17,338.87 L788.4,338.89 L790.62,338.91 L792.85,338.93 L795.08,338.95 L797.3,338.97 L799.52,338.99 L801.75,339.01 L803.98,339.02 L806.2,339.04 L808.42,339.06 L810.65,339.07 L812.88,339.09 L815.1,339.1 L817.33,339.12 L819.55,339.13 L821.77,339.14 L824,339.16 L826.23,339.17 L828.45,339.18 L830.67,339.19 L832.9,339.2 L835.12,339.21 L837.35,339.22 L839.58,339.23 L841.8,339.24 L844.02,339.25 L846.25,339.26 L848.48,339.27 L850.7,339.28 L852.92,339.28 L855.15,339.29 L857.38,339.3 L859.6,339.31 L861.83,339.31 L864.05,339.32 L866.27,339.33 L868.5,339.33 L870.73,339.34 L872.95,339.34 L875.17,339.35 L877.4,339.35 L879.62,339.36 L881.85,339.36 L884.08,339.37 L886.3,339.37 L888.52,339.38 L890.75,339.38 L892.98,339.39 L895.2,339.39 L897.42,339.39 L899.65,339.4 L901.88,339.4 L904.1,339.41 L906.33,339.41 L908.55,339.41 L910.77,339.42 L913,339.42 L915.23,339.42 L917.45,339.42 L919.67,339.43 L921.9,339.43 L924.12,339.43 L926.35,339.43 L928.58,339.44 L930.8,339.44 L933.02,339.44 L935.25,339.44 L937.48,339.44 L939.7,339.45 L941.92,339.45 L944.15,339.45 L946.38,339.45 L948.6,339.45 L950.83,339.46 L953.05,339.46 L955.27,339.46 L957.5,339.46 L959.73,339.46 L961.95,339.46 L964.17,339.46 L966.4,339.47 L968.63,339.47 L970.85,339.47 L973.08,339.47 L975.3,339.47 L977.52,339.47 L979.75,339.47 L981.98,339.47 L984.2,339.47 L986.42,339.48 L988.65,339.48 L990.88,339.48 L993.1,339.48 L995.33,339.48 L997.55,339.48 L999.77,339.48 L1002,339.48 L1004.23,339.48 L1006.45,339.48 L1008.67,339.48 L1010.9,339.48 L1013.12,339.48 L1015.35,339.48 L1017.58,339.48 L1019.8,339.49 L1022.02,339.49 L1024.25,339.49 L1026.47,339.49 L1028.7,339.49 L1030.92,339.49 L1033.15,339.49 L1035.38,339.49 L1037.6,339.49 L1039.83,339.49 L1042.05,339.49 L1044.28,339.49 L1046.5,339.49 L1048.72,339.49 L1050.95,339.49 L1053.17,339.49 L1055.4,339.49 L1057.62,339.49 L1059.85,339.49 L1062.08,339.49 L1064.3,339.49 L1066.53,339.49 L1068.75,339.49 L1070.97,339.49 L1073.2,339.49 L1075.42,339.49 L1077.65,339.49 L1079.88,339.49 L1082.1,339.49 L1084.33,339.49 L1086.55,339.5 L1088.77,339.5 L1091,339.5 L1093.23,339.5 L1095.45,339.5 L1097.67,339.5 L1099.9,339.5 L1102.12,339.5 L1104.35,339.5 L1106.58,339.5 L1108.8,339.5 L1111.02,339.5 L1113.25,339.5 L1115.48,339.5 L1117.7,339.5 L1119.92,339.5 L1122.15,339.5 L1124.38,339.5 L1126.6,339.5 L1128.83,339.5 L1131.05,339.5 L1133.27,339.5 L1135.5,339.5 L1137.73,339.5 L1139.95,339.5 L1142.17,339.5 L1144.4,339.5 L1146.62,339.5 L1148.85,339.5 L1151.08,339.5 L1153.3,339.5 L1155.53,339.5 L1157.75,339.5 L1159.97,339.5 L1162.2,339.5 L1164.42,339.5 L1166.65,339.5 L1168.88,339.5 L1171.1,339.5 L1173.33,339.5 L1175.55,339.5 L1177.78,339.5 L1180,339.5 L1180,340 Z"/></clipPath><clipPath id="cp1"><path d="M67,340 L67,64.78 L69.73,66.2 L71.95,67.66 L74.18,69.15 L76.4,70.69 L78.62,72.26 L80.85,73.86 L83.07,75.51 L85.3,77.2 L87.52,78.92 L89.75,80.69 L91.98,82.49 L94.2,84.34 L96.43,86.22 L98.65,88.15 L100.88,90.11 L103.1,92.12 L105.32,94.16 L107.55,96.24 L109.77,98.36 L112,100.52 L114.23,102.72 L116.45,104.96 L118.68,107.24 L120.9,109.55 L123.12,111.9 L125.35,114.29 L127.57,116.71 L129.8,119.16 L132.02,121.65 L134.25,124.17 L136.48,126.72 L138.7,129.31 L140.93,131.92 L143.15,134.56 L145.38,137.23 L147.6,139.92 L149.82,142.63 L152.05,145.37 L154.27,148.13 L156.5,150.91 L158.72,153.71 L160.95,156.52 L163.18,159.35 L165.4,162.19 L167.62,165.04 L169.85,167.9 L172.07,170.77 L174.3,173.64 L176.53,176.52 L178.75,179.4 L180.97,182.28 L183.2,185.16 L185.43,188.03 L187.65,190.9 L189.88,193.76 L192.1,196.61 L194.32,199.45 L196.55,202.28 L198.78,205.09 L201,207.89 L203.22,210.67 L205.45,213.43 L207.68,216.17 L209.9,218.88 L212.12,221.57 L214.35,224.24 L216.57,226.88 L218.8,229.49 L221.03,232.08 L223.25,234.63 L225.47,237.15 L227.7,239.64 L229.93,242.09 L232.15,244.51 L234.38,246.9 L236.6,249.25 L238.82,251.56 L241.05,253.84 L243.28,256.08 L245.5,258.28 L247.72,260.44 L249.95,262.56 L252.18,264.64 L254.4,266.68 L256.62,268.69 L258.85,270.65 L261.07,272.58 L263.3,274.46 L265.53,276.31 L267.75,278.11 L269.98,279.88 L272.2,281.6 L274.43,283.29 L276.65,284.94 L278.88,286.54 L281.1,288.11 L283.32,289.65 L285.55,291.14 L287.77,292.6 L290,294.02 L292.23,295.41 L294.45,296.76 L296.68,298.07 L298.9,299.35 L301.12,300.6 L303.35,301.81 L305.57,302.99 L307.8,304.14 L310.02,305.26 L312.25,306.34 L314.48,307.39 L316.7,308.42 L318.93,309.41 L321.15,310.38 L323.38,311.32 L325.6,312.23 L327.82,313.11 L330.05,313.97 L332.28,314.8 L334.5,315.61 L336.72,316.39 L338.95,317.15 L341.18,317.89 L343.4,318.6 L345.62,319.3 L347.85,319.97 L350.07,320.61 L352.3,321.24 L354.53,321.85 L356.75,322.44 L358.98,323.02 L361.2,323.57 L363.43,324.1 L365.65,324.62 L367.88,325.13 L370.1,325.61 L372.32,326.08 L374.55,326.54 L376.78,326.98 L379,327.4 L381.22,327.81 L383.45,328.21 L385.68,328.6 L387.9,328.97 L390.12,329.33 L392.35,329.68 L394.57,330.02 L396.8,330.34 L399.02,330.66 L401.25,330.96 L403.47,331.25 L405.7,331.54 L407.93,331.81 L410.15,332.08 L412.38,332.33 L414.6,332.58 L416.82,332.82 L419.05,333.05 L421.27,333.28 L423.5,333.49 L425.73,333.7 L427.95,333.9 L430.18,334.1 L432.4,334.28 L434.62,334.47 L436.85,334.64 L439.07,334.81 L441.3,334.97 L443.52,335.13 L445.75,335.28 L447.98,335.43 L450.2,335.57 L452.43,335.71 L454.65,335.84 L456.88,335.97 L459.1,336.09 L461.32,336.21 L463.55,336.33 L465.77,336.44 L468,336.55 L470.23,336.65 L472.45,336.75 L474.68,336.84 L476.9,336.94 L479.12,337.03 L481.35,337.11 L483.57,337.2 L485.8,337.28 L488.02,337.36 L490.25,337.43 L492.48,337.5 L494.7,337.57 L496.93,337.64 L499.15,337.71 L501.38,337.77 L503.6,337.83 L505.82,337.89 L508.05,337.95 L510.27,338 L512.5,338.05 L514.73,338.1 L516.95,338.15 L519.17,338.2 L521.4,338.25 L523.62,338.29 L525.85,338.33 L528.08,338.37 L530.3,338.41 L532.52,338.45 L534.75,338.49 L536.98,338.53 L539.2,338.56 L541.42,338.59 L543.65,338.62 L545.88,338.66 L548.1,338.69 L550.33,338.71 L552.55,338.74 L554.77,338.77 L557,338.79 L559.23,338.82 L561.45,338.84 L563.67,338.87 L565.9,338.89 L568.12,338.91 L570.35,338.93 L572.57,338.95 L574.8,338.97 L577.02,338.99 L579.25,339.01 L581.48,339.02 L583.7,339.04 L585.93,339.06 L588.15,339.07 L590.38,339.09 L592.6,339.1 L594.82,339.12 L597.05,339.13 L599.27,339.14 L601.5,339.16 L603.73,339.17 L605.95,339.18 L608.17,339.19 L610.4,339.2 L612.62,339.21 L614.85,339.22 L617.08,339.23 L619.3,339.24 L621.52,339.25 L623.75,339.26 L625.98,339.27 L628.2,339.28 L630.42,339.28 L632.65,339.29 L634.88,339.3 L637.1,339.31 L639.33,339.31 L641.55,339.32 L643.77,339.33 L646,339.33 L648.23,339.34 L650.45,339.34 L652.68,339.35 L654.9,339.35 L657.12,339.36 L659.35,339.36 L661.58,339.37 L663.8,339.37 L666.02,339.38 L668.25,339.38 L670.48,339.39 L672.7,339.39 L674.93,339.39 L677.15,339.4 L679.38,339.4 L681.6,339.41 L683.82,339.41 L686.05,339.41 L688.27,339.42 L690.5,339.42 L692.73,339.42 L694.95,339.42 L697.18,339.43 L699.4,339.43 L701.62,339.43 L703.85,339.43 L706.07,339.44 L708.3,339.44 L710.52,339.44 L712.75,339.44 L714.98,339.44 L717.2,339.45 L719.42,339.45 L721.65,339.45 L723.88,339.45 L726.1,339.45 L728.32,339.46 L730.55,339.46 L732.77,339.46 L735,339.46 L737.23,339.46 L739.45,339.46 L741.67,339.46 L743.9,339.47 L746.12,339.47 L748.35,339.47 L750.58,339.47 L752.8,339.47 L755.02,339.47 L757.25,339.47 L759.48,339.47 L761.7,339.47 L763.92,339.48 L766.15,339.48 L768.38,339.48 L770.6,339.48 L772.83,339.48 L775.05,339.48 L777.27,339.48 L779.5,339.48 L781.73,339.48 L783.95,339.48 L786.17,339.48 L788.4,339.48 L790.62,339.48 L792.85,339.48 L795.08,339.48 L797.3,339.49 L799.52,339.49 L801.75,339.49 L803.98,339.49 L806.2,339.49 L808.42,339.49 L810.65,339.49 L812.88,339.49 L815.1,339.49 L817.33,339.49 L819.55,339.49 L821.77,339.49 L824,339.49 L826.23,339.49 L828.45,339.49 L830.67,339.49 L832.9,339.49 L835.12,339.49 L837.35,339.49 L839.58,339.49 L841.8,339.49 L844.02,339.49 L846.25,339.49 L848.48,339.49 L850.7,339.49 L852.92,339.49 L855.15,339.49 L857.38,339.49 L859.6,339.49 L861.83,339.49 L864.05,339.5 L866.27,339.5 L868.5,339.5 L870.73,339.5 L872.95,339.5 L875.17,339.5 L877.4,339.5 L879.62,339.5 L881.85,339.5 L884.08,339.5 L886.3,339.5 L888.52,339.5 L890.75,339.5 L892.98,339.5 L895.2,339.5 L897.42,339.5 L899.65,339.5 L901.88,339.5 L904.1,339.5 L906.33,339.5 L908.55,339.5 L910.77,339.5 L913,339.5 L915.23,339.5 L917.45,339.5 L919.67,339.5 L921.9,339.5 L924.12,339.5 L926.35,339.5 L928.58,339.5 L930.8,339.5 L933.02,339.5 L935.25,339.5 L937.48,339.5 L939.7,339.5 L941.92,339.5 L944.15,339.5 L946.38,339.5 L948.6,339.5 L950.83,339.5 L953.05,339.5 L955.27,339.5 L957.5,339.5 L959.73,339.5 L961.95,339.5 L964.17,339.5 L966.4,339.5 L968.63,339.5 L970.85,339.5 L973.08,339.5 L975.3,339.5 L977.52,339.5 L979.75,339.5 L981.98,339.5 L984.2,339.5 L986.42,339.5 L988.65,339.5 L990.88,339.5 L993.1,339.5 L995.33,339.5 L997.55,339.5 L999.77,339.5 L1002,339.5 L1004.23,339.5 L1006.45,339.5 L1008.67,339.5 L1010.9,339.5 L1013.12,339.5 L1015.35,339.5 L1017.58,339.5 L1019.8,339.5 L1022.02,339.5 L1024.25,339.5 L1026.47,339.5 L1028.7,339.5 L1030.92,339.5 L1033.15,339.5 L1035.38,339.5 L1037.6,339.5 L1039.83,339.5 L1042.05,339.5 L1044.28,339.5 L1046.5,339.5 L1048.72,339.5 L1050.95,339.5 L1053.17,339.5 L1055.4,339.5 L1057.62,339.5 L1059.85,339.5 L1062.08,339.5 L1064.3,339.5 L1066.53,339.5 L1068.75,339.5 L1070.97,339.5 L1073.2,339.5 L1075.42,339.5 L1077.65,339.5 L1079.88,339.5 L1082.1,339.5 L1084.33,339.5 L1086.55,339.5 L1088.77,339.5 L1091,339.5 L1093.23,339.5 L1095.45,339.5 L1097.67,339.5 L1099.9,339.5 L1102.12,339.5 L1104.35,339.5 L1106.58,339.5 L1108.8,339.5 L1111.02,339.5 L1113.25,339.5 L1115.48,339.5 L1117.7,339.5 L1119.92,339.5 L1122.15,339.5 L1124.38,339.5 L1126.6,339.5 L1128.83,339.5 L1131.05,339.5 L1133.27,339.5 L1135.5,339.5 L1137.73,339.5 L1139.95,339.5 L1142.17,339.5 L1144.4,339.5 L1146.62,339.5 L1148.85,339.5 L1151.08,339.5 L1153.3,339.5 L1155.53,339.5 L1157.75,339.5 L1159.97,339.5 L1162.2,339.5 L1164.42,339.5 L1166.65,339.5 L1168.88,339.5 L1171.1,339.5 L1173.33,339.5 L1175.55,339.5 L1177.78,339.5 L1180,339.5 L1180,340 Z"/></clipPath><clipPath id="cp0"><path d="M67,340 L67,294.02 L69.73,295.41 L71.95,296.76 L74.18,298.07 L76.4,299.35 L78.62,300.6 L80.85,301.81 L83.07,302.99 L85.3,304.14 L87.52,305.26 L89.75,306.34 L91.98,307.39 L94.2,308.42 L96.43,309.41 L98.65,310.38 L100.88,311.32 L103.1,312.23 L105.32,313.11 L107.55,313.97 L109.77,314.8 L112,315.61 L114.23,316.39 L116.45,317.15 L118.68,317.89 L120.9,318.6 L123.12,319.3 L125.35,319.97 L127.57,320.61 L129.8,321.24 L132.02,321.85 L134.25,322.44 L136.48,323.02 L138.7,323.57 L140.93,324.1 L143.15,324.62 L145.38,325.13 L147.6,325.61 L149.82,326.08 L152.05,326.54 L154.27,326.98 L156.5,327.4 L158.72,327.81 L160.95,328.21 L163.18,328.6 L165.4,328.97 L167.62,329.33 L169.85,329.68 L172.07,330.02 L174.3,330.34 L176.53,330.66 L178.75,330.96 L180.97,331.25 L183.2,331.54 L185.43,331.81 L187.65,332.08 L189.88,332.33 L192.1,332.58 L194.32,332.82 L196.55,333.05 L198.78,333.28 L201,333.49 L203.22,333.7 L205.45,333.9 L207.68,334.1 L209.9,334.28 L212.12,334.47 L214.35,334.64 L216.57,334.81 L218.8,334.97 L221.03,335.13 L223.25,335.28 L225.47,335.43 L227.7,335.57 L229.93,335.71 L232.15,335.84 L234.38,335.97 L236.6,336.09 L238.82,336.21 L241.05,336.33 L243.28,336.44 L245.5,336.55 L247.72,336.65 L249.95,336.75 L252.18,336.84 L254.4,336.94 L256.62,337.03 L258.85,337.11 L261.07,337.2 L263.3,337.28 L265.53,337.36 L267.75,337.43 L269.98,337.5 L272.2,337.57 L274.43,337.64 L276.65,337.71 L278.88,337.77 L281.1,337.83 L283.32,337.89 L285.55,337.95 L287.77,338 L290,338.05 L292.23,338.1 L294.45,338.15 L296.68,338.2 L298.9,338.25 L301.12,338.29 L303.35,338.33 L305.57,338.37 L307.8,338.41 L310.02,338.45 L312.25,338.49 L314.48,338.53 L316.7,338.56 L318.93,338.59 L321.15,338.62 L323.38,338.66 L325.6,338.69 L327.82,338.71 L330.05,338.74 L332.28,338.77 L334.5,338.79 L336.72,338.82 L338.95,338.84 L341.18,338.87 L343.4,338.89 L345.62,338.91 L347.85,338.93 L350.07,338.95 L352.3,338.97 L354.53,338.99 L356.75,339.01 L358.98,339.02 L361.2,339.04 L363.43,339.06 L365.65,339.07 L367.88,339.09 L370.1,339.1 L372.32,339.12 L374.55,339.13 L376.78,339.14 L379,339.16 L381.22,339.17 L383.45,339.18 L385.68,339.19 L387.9,339.2 L390.12,339.21 L392.35,339.22 L394.57,339.23 L396.8,339.24 L399.02,339.25 L401.25,339.26 L403.47,339.27 L405.7,339.28 L407.93,339.28 L410.15,339.29 L412.38,339.3 L414.6,339.31 L416.82,339.31 L419.05,339.32 L421.27,339.33 L423.5,339.33 L425.73,339.34 L427.95,339.34 L430.18,339.35 L432.4,339.35 L434.62,339.36 L436.85,339.36 L439.07,339.37 L441.3,339.37 L443.52,339.38 L445.75,339.38 L447.98,339.39 L450.2,339.39 L452.43,339.39 L454.65,339.4 L456.88,339.4 L459.1,339.41 L461.32,339.41 L463.55,339.41 L465.77,339.42 L468,339.42 L470.23,339.42 L472.45,339.42 L474.68,339.43 L476.9,339.43 L479.12,339.43 L481.35,339.43 L483.57,339.44 L485.8,339.44 L488.02,339.44 L490.25,339.44 L492.48,339.44 L494.7,339.45 L496.93,339.45 L499.15,339.45 L501.38,339.45 L503.6,339.45 L505.82,339.46 L508.05,339.46 L510.27,339.46 L512.5,339.46 L514.73,339.46 L516.95,339.46 L519.17,339.46 L521.4,339.47 L523.62,339.47 L525.85,339.47 L528.08,339.47 L530.3,339.47 L532.52,339.47 L534.75,339.47 L536.98,339.47 L539.2,339.47 L541.42,339.48 L543.65,339.48 L545.88,339.48 L548.1,339.48 L550.33,339.48 L552.55,339.48 L554.77,339.48 L557,339.48 L559.23,339.48 L561.45,339.48 L563.67,339.48 L565.9,339.48 L568.12,339.48 L570.35,339.48 L572.57,339.48 L574.8,339.49 L577.02,339.49 L579.25,339.49 L581.48,339.49 L583.7,339.49 L585.93,339.49 L588.15,339.49 L590.38,339.49 L592.6,339.49 L594.82,339.49 L597.05,339.49 L599.27,339.49 L601.5,339.49 L603.73,339.49 L605.95,339.49 L608.17,339.49 L610.4,339.49 L612.62,339.49 L614.85,339.49 L617.08,339.49 L619.3,339.49 L621.52,339.49 L623.75,339.49 L625.98,339.49 L628.2,339.49 L630.42,339.49 L632.65,339.49 L634.88,339.49 L637.1,339.49 L639.33,339.49 L641.55,339.5 L643.77,339.5 L646,339.5 L648.23,339.5 L650.45,339.5 L652.68,339.5 L654.9,339.5 L657.12,339.5 L659.35,339.5 L661.58,339.5 L663.8,339.5 L666.02,339.5 L668.25,339.5 L670.48,339.5 L672.7,339.5 L674.93,339.5 L677.15,339.5 L679.38,339.5 L681.6,339.5 L683.82,339.5 L686.05,339.5 L688.27,339.5 L690.5,339.5 L692.73,339.5 L694.95,339.5 L697.18,339.5 L699.4,339.5 L701.62,339.5 L703.85,339.5 L706.07,339.5 L708.3,339.5 L710.52,339.5 L712.75,339.5 L714.98,339.5 L717.2,339.5 L719.42,339.5 L721.65,339.5 L723.88,339.5 L726.1,339.5 L728.32,339.5 L730.55,339.5 L732.77,339.5 L735,339.5 L737.23,339.5 L739.45,339.5 L741.67,339.5 L743.9,339.5 L746.12,339.5 L748.35,339.5 L750.58,339.5 L752.8,339.5 L755.02,339.5 L757.25,339.5 L759.48,339.5 L761.7,339.5 L763.92,339.5 L766.15,339.5 L768.38,339.5 L770.6,339.5 L772.83,339.5 L775.05,339.5 L777.27,339.5 L779.5,339.5 L781.73,339.5 L783.95,339.5 L786.17,339.5 L788.4,339.5 L790.62,339.5 L792.85,339.5 L795.08,339.5 L797.3,339.5 L799.52,339.5 L801.75,339.5 L803.98,339.5 L806.2,339.5 L808.42,339.5 L810.65,339.5 L812.88,339.5 L815.1,339.5 L817.33,339.5 L819.55,339.5 L821.77,339.5 L824,339.5 L826.23,339.5 L828.45,339.5 L830.67,339.5 L832.9,339.5 L835.12,339.5 L837.35,339.5 L839.58,339.5 L841.8,339.5 L844.02,339.5 L846.25,339.5 L848.48,339.5 L850.7,339.5 L852.92,339.5 L855.15,339.5 L857.38,339.5 L859.6,339.5 L861.83,339.5 L864.05,339.5 L866.27,339.5 L868.5,339.5 L870.73,339.5 L872.95,339.5 L875.17,339.5 L877.4,339.5 L879.62,339.5 L881.85,339.5 L884.08,339.5 L886.3,339.5 L888.52,339.5 L890.75,339.5 L892.98,339.5 L895.2,339.5 L897.42,339.5 L899.65,339.5 L901.88,339.5 L904.1,339.5 L906.33,339.5 L908.55,339.5 L910.77,339.5 L913,339.5 L915.23,339.5 L917.45,339.5 L919.67,339.5 L921.9,339.5 L924.12,339.5 L926.35,339.5 L928.58,339.5 L930.8,339.5 L933.02,339.5 L935.25,339.5 L937.48,339.5 L939.7,339.5 L941.92,339.5 L944.15,339.5 L946.38,339.5 L948.6,339.5 L950.83,339.5 L953.05,339.5 L955.27,339.5 L957.5,339.5 L959.73,339.5 L961.95,339.5 L964.17,339.5 L966.4,339.5 L968.63,339.5 L970.85,339.5 L973.08,339.5 L975.3,339.5 L977.52,339.5 L979.75,339.5 L981.98,339.5 L984.2,339.5 L986.42,339.5 L988.65,339.5 L990.88,339.5 L993.1,339.5 L995.33,339.5 L997.55,339.5 L999.77,339.5 L1002,339.5 L1004.23,339.5 L1006.45,339.5 L1008.67,339.5 L1010.9,339.5 L1013.12,339.5 L1015.35,339.5 L1017.58,339.5 L1019.8,339.5 L1022.02,339.5 L1024.25,339.5 L1026.47,339.5 L1028.7,339.5 L1030.92,339.5 L1033.15,339.5 L1035.38,339.5 L1037.6,339.5 L1039.83,339.5 L1042.05,339.5 L1044.28,339.5 L1046.5,339.5 L1048.72,339.5 L1050.95,339.5 L1053.17,339.5 L1055.4,339.5 L1057.62,339.5 L1059.85,339.5 L1062.08,339.5 L1064.3,339.5 L1066.53,339.5 L1068.75,339.5 L1070.97,339.5 L1073.2,339.5 L1075.42,339.5 L1077.65,339.5 L1079.88,339.5 L1082.1,339.5 L1084.33,339.5 L1086.55,339.5 L1088.77,339.5 L1091,339.5 L1093.23,339.5 L1095.45,339.5 L1097.67,339.5 L1099.9,339.5 L1102.12,339.5 L1104.35,339.5 L1106.58,339.5 L1108.8,339.5 L1111.02,339.5 L1113.25,339.5 L1115.48,339.5 L1117.7,339.5 L1119.92,339.5 L1122.15,339.5 L1124.38,339.5 L1126.6,339.5 L1128.83,339.5 L1131.05,339.5 L1133.27,339.5 L1135.5,339.5 L1137.73,339.5 L1139.95,339.5 L1142.17,339.5 L1144.4,339.5 L1146.62,339.5 L1148.85,339.5 L1151.08,339.5 L1153.3,339.5 L1155.53,339.5 L1157.75,339.5 L1159.97,339.5 L1162.2,339.5 L1164.42,339.5 L1166.65,339.5 L1168.88,339.5 L1171.1,339.5 L1173.33,339.5 L1175.55,339.5 L1177.78,339.5 L1180,339.5 L1180,340 Z"/></clipPath></defs>
<path d="M67,340 L67,19.3 L69.73,19.3 L71.95,19.3 L74.18,19.3 L76.4,19.3 L78.62,19.3 L80.85,19.3 L83.07,19.3 L85.3,19.3 L87.52,19.3 L89.75,19.3 L91.98,19.3 L94.2,19.3 L96.43,19.3 L98.65,19.3 L100.88,19.3 L103.1,19.3 L105.32,19.3 L107.55,19.3 L109.77,19.3 L112,19.3 L114.23,19.3 L116.45,19.3 L118.68,19.3 L120.9,19.3 L123.12,19.3 L125.35,19.3 L127.57,19.3 L129.8,19.3 L132.02,19.3 L134.25,19.3 L136.48,19.3 L138.7,19.3 L140.93,19.3 L143.15,19.3 L145.38,19.3 L147.6,19.3 L149.82,19.3 L152.05,19.3 L154.27,19.3 L156.5,19.3 L158.72,19.3 L160.95,19.3 L163.18,19.3 L165.4,19.3 L167.62,19.3 L169.85,19.3 L172.07,19.3 L174.3,19.3 L176.53,19.3 L178.75,19.3 L180.97,19.3 L183.2,19.3 L185.43,19.3 L187.65,19.3 L189.88,19.3 L192.1,19.3 L194.32,19.3 L196.55,19.3 L198.78,19.3 L201,19.3 L203.22,19.3 L205.45,19.3 L207.68,19.3 L209.9,19.3 L212.12,19.3 L214.35,19.3 L216.57,19.3 L218.8,19.3 L221.03,19.3 L223.25,19.3 L225.47,19.3 L227.7,19.3 L229.93,19.3 L232.15,19.3 L234.38,19.3 L236.6,19.3 L238.82,19.3 L241.05,19.3 L243.28,19.3 L245.5,19.3 L247.72,19.3 L249.95,19.3 L252.18,19.3 L254.4,19.3 L256.62,19.3 L258.85,19.3 L261.07,19.3 L263.3,19.3 L265.53,19.3 L267.75,19.3 L269.98,19.3 L272.2,19.3 L274.43,19.3 L276.65,19.3 L278.88,19.3 L281.1,19.3 L283.32,19.3 L285.55,19.3 L287.77,19.3 L290,19.3 L292.23,19.3 L294.45,19.3 L296.68,19.3 L298.9,19.3 L301.12,19.3 L303.35,19.3 L305.57,19.3 L307.8,19.3 L310.02,19.3 L312.25,19.3 L314.48,19.3 L316.7,19.3 L318.93,19.3 L321.15,19.3 L323.38,19.3 L325.6,19.3 L327.82,19.3 L330.05,19.3 L332.28,19.3 L334.5,19.3 L336.72,19.3 L338.95,19.3 L341.18,19.3 L343.4,19.3 L345.62,19.3 L347.85,19.3 L350.07,19.3 L352.3,19.3 L354.53,19.3 L356.75,19.3 L358.98,19.3 L361.2,19.3 L363.43,19.3 L365.65,19.3 L367.88,19.3 L370.1,19.3 L372.32,19.3 L374.55,19.3 L376.78,19.3 L379,19.3 L381.22,19.3 L383.45,19.3 L385.68,19.3 L387.9,19.3 L390.12,19.3 L392.35,19.3 L394.57,19.3 L396.8,19.3 L399.02,19.3 L401.25,19.3 L403.47,19.3 L405.7,19.3 L407.93,19.3 L410.15,19.3 L412.38,19.3 L414.6,19.3 L416.82,19.3 L419.05,19.3 L421.27,19.3 L423.5,19.3 L425.73,19.3 L427.95,19.3 L430.18,19.3 L432.4,19.3 L434.62,19.3 L436.85,19.3 L439.07,19.3 L441.3,19.3 L443.52,19.3 L445.75,19.3 L447.98,19.3 L450.2,19.3 L452.43,19.3 L454.65,19.3 L456.88,19.3 L459.1,19.3 L461.32,19.3 L463.55,19.3 L465.77,19.3 L468,19.3 L470.23,19.3 L472.45,19.3 L474.68,19.3 L476.9,19.3 L479.12,19.3 L481.35,19.3 L483.57,19.3 L485.8,19.3 L488.02,19.3 L490.25,19.3 L492.48,19.3 L494.7,19.3 L496.93,19.3 L499.15,19.3 L501.38,19.3 L503.6,19.3 L505.82,19.3 L508.05,19.3 L510.27,19.3 L512.5,19.3 L514.73,19.3 L516.95,19.3 L519.17,19.3 L521.4,19.3 L523.62,19.3 L525.85,19.3 L528.08,19.3 L530.3,19.3 L532.52,19.3 L534.75,19.3 L536.98,19.3 L539.2,19.3 L541.42,19.3 L543.65,19.3 L545.88,19.3 L548.1,19.3 L550.33,19.3 L552.55,19.3 L554.77,19.3 L557,19.3 L559.23,19.3 L561.45,19.3 L563.67,19.3 L565.9,19.3 L568.12,19.3 L570.35,19.3 L572.57,19.3 L574.8,19.3 L577.02,19.3 L579.25,19.3 L581.48,19.3 L583.7,19.3 L585.93,19.3 L588.15,19.3 L590.38,19.3 L592.6,19.3 L594.82,19.3 L597.05,19.3 L599.27,19.3 L601.5,19.3 L603.73,19.3 L605.95,19.3 L608.17,19.3 L610.4,19.3 L612.62,19.3 L614.85,19.3 L617.08,19.3 L619.3,19.3 L621.52,19.3 L623.75,19.3 L625.98,19.3 L628.2,19.3 L630.42,19.3 L632.65,19.3 L634.88,19.3 L637.1,19.3 L639.33,19.3 L641.55,19.3 L643.77,19.3 L646,19.3 L648.23,19.3 L650.45,19.3 L652.68,19.3 L654.9,19.3 L657.12,19.3 L659.35,19.3 L661.58,19.3 L663.8,19.3 L666.02,19.3 L668.25,19.3 L670.48,19.3 L672.7,19.3 L674.93,19.3 L677.15,19.3 L679.38,19.3 L681.6,19.3 L683.82,19.3 L686.05,19.3 L688.27,19.3 L690.5,19.3 L692.73,19.3 L694.95,19.3 L697.18,19.3 L699.4,19.3 L701.62,19.3 L703.85,19.3 L706.07,19.3 L708.3,19.3 L710.52,19.3 L712.75,19.3 L714.98,19.3 L717.2,19.3 L719.42,19.3 L721.65,19.3 L723.88,19.3 L726.1,19.3 L728.32,19.3 L730.55,19.3 L732.77,19.3 L735,19.3 L737.23,19.3 L739.45,19.3 L741.67,19.3 L743.9,19.3 L746.12,19.3 L748.35,19.3 L750.58,19.3 L752.8,19.3 L755.02,19.3 L757.25,19.3 L759.48,19.3 L761.7,19.3 L763.92,19.3 L766.15,19.3 L768.38,19.3 L770.6,19.3 L772.83,19.3 L775.05,19.3 L777.27,19.3 L779.5,19.3 L781.73,19.3 L783.95,19.3 L786.17,19.3 L788.4,19.3 L790.62,19.3 L792.85,19.3 L795.08,19.3 L797.3,19.3 L799.52,19.3 L801.75,19.3 L803.98,19.3 L806.2,19.3 L808.42,19.3 L810.65,19.3 L812.88,19.3 L815.1,19.3 L817.33,19.3 L819.55,19.3 L821.77,19.3 L824,19.3 L826.23,19.3 L828.45,19.3 L830.67,19.3 L832.9,19.3 L835.12,19.3 L837.35,19.3 L839.58,19.3 L841.8,19.3 L844.02,19.3 L846.25,19.3 L848.48,19.3 L850.7,19.3 L852.92,19.3 L855.15,19.3 L857.38,19.3 L859.6,19.3 L861.83,19.3 L864.05,19.3 L866.27,19.3 L868.5,19.3 L870.73,19.3 L872.95,19.3 L875.17,19.3 L877.4,19.3 L879.62,19.3 L881.85,19.3 L884.08,19.3 L886.3,19.3 L888.52,19.3 L890.75,19.3 L892.98,19.3 L895.2,19.3 L897.42,19.3 L899.65,19.3 L901.88,19.3 L904.1,19.3 L906.33,19.3 L908.55,19.3 L910.77,19.3 L913,19.3 L915.23,19.3 L917.45,19.3 L919.67,19.3 L921.9,19.3 L924.12,19.3 L926.35,19.3 L928.58,19.3 L930.8,19.3 L933.02,19.3 L935.25,19.3 L937.48,19.3 L939.7,19.3 L941.92,19.3 L944.15,19.3 L946.38,19.3 L948.6,19.3 L950.83,19.3 L953.05,19.3 L955.27,19.3 L957.5,19.3 L959.73,19.3 L961.95,19.3 L964.17,19.3 L966.4,19.3 L968.63,19.3 L970.85,19.3 L973.08,19.3 L975.3,19.3 L977.52,19.3 L979.75,19.3 L981.98,19.3 L984.2,19.3 L986.42,19.3 L988.65,19.3 L990.88,19.3 L993.1,19.3 L995.33,19.3 L997.55,19.3 L999.77,19.3 L1002,19.3 L1004.23,19.3 L1006.45,19.3 L1008.67,19.3 L1010.9,19.3 L1013.12,19.3 L1015.35,19.3 L1017.58,19.3 L1019.8,19.3 L1022.02,19.3 L1024.25,19.3 L1026.47,19.3 L1028.7,19.3 L1030.92,19.3 L1033.15,19.3 L1035.38,19.3 L1037.6,19.3 L1039.83,19.3 L1042.05,19.3 L1044.28,19.3 L1046.5,19.3 L1048.72,19.3 L1050.95,19.3 L1053.17,19.3 L1055.4,19.3 L1057.62,19.3 L1059.85,19.3 L1062.08,19.3 L1064.3,19.3 L1066.53,19.3 L1068.75,19.3 L1070.97,19.3 L1073.2,19.3 L1075.42,19.3 L1077.65,19.3 L1079.88,19.3 L1082.1,19.3 L1084.33,19.3 L1086.55,19.3 L1088.77,19.3 L1091,19.3 L1093.23,19.3 L1095.45,19.3 L1097.67,19.3 L1099.9,19.3 L1102.12,19.3 L1104.35,19.3 L1106.58,19.3 L1108.8,19.3 L1111.02,19.3 L1113.25,19.3 L1115.48,19.3 L1117.7,19.3 L1119.92,19.3 L1122.15,19.3 L1124.38,19.3 L1126.6,19.3 L1128.83,19.3 L1131.05,19.3 L1133.27,19.3 L1135.5,19.3 L1137.73,19.3 L1139.95,19.3 L1142.17,19.3 L1144.4,19.3 L1146.62,19.3 L1148.85,19.3 L1151.08,19.3 L1153.3,19.3 L1155.53,19.3 L1157.75,19.3 L1159.97,19.3 L1162.2,19.3 L1164.42,19.3 L1166.65,19.3 L1168.88,19.3 L1171.1,19.3 L1173.33,19.3 L1175.55,19.3 L1177.78,19.3 L1180,19.3 L1180,340 Z" fill="#cccc00" stroke="#ffff00" stroke-width="6.4" stroke-linejoin="round" clip-path="url(#cp6)"/><path d="M67,340 L67,19.3 L69.73,19.3 L71.95,19.3 L74.18,19.3 L76.4,19.3 L78.62,19.3 L80.85,19.3 L83.07,19.3 L85.3,19.3 L87.52,19.3 L89.75,19.3 L91.98,19.3 L94.2,19.3 L96.43,19.3 L98.65,19.3 L100.88,19.3 L103.1,19.3 L105.32,19.3 L107.55,19.3 L109.77,19.3 L112,19.3 L114.23,19.3 L116.45,19.3 L118.68,19.3 L120.9,19.3 L123.12,19.3 L125.35,19.3 L127.57,19.3 L129.8,19.3 L132.02,19.3 L134.25,19.3 L136.48,19.3 L138.7,19.3 L140.93,19.3 L143.15,19.3 L145.38,19.3 L147.6,19.3 L149.82,19.3 L152.05,19.3 L154.27,19.3 L156.5,19.3 L158.72,19.3 L160.95,19.3 L163.18,19.3 L165.4,19.3 L167.62,19.3 L169.85,19.3 L172.07,19.3 L174.3,19.3 L176.53,19.3 L178.75,19.3 L180.97,19.3 L183.2,19.3 L185.43,19.3 L187.65,19.3 L189.88,19.3 L192.1,19.3 L194.32,19.3 L196.55,19.3 L198.78,19.3 L201,19.3 L203.22,19.3 L205.45,19.3 L207.68,19.3 L209.9,19.3 L212.12,19.3 L214.35,19.3 L216.57,19.3 L218.8,19.3 L221.03,19.3 L223.25,19.3 L225.47,19.3 L227.7,19.3 L229.93,19.3 L232.15,19.3 L234.38,19.3 L236.6,19.3 L238.82,19.3 L241.05,19.3 L243.28,19.3 L245.5,19.3 L247.72,19.3 L249.95,19.3 L252.18,19.3 L254.4,19.3 L256.62,19.3 L258.85,19.3 L261.07,19.3 L263.3,19.3 L265.53,19.3 L267.75,19.3 L269.98,19.3 L272.2,19.3 L274.43,19.3 L276.65,19.3 L278.88,19.3 L281.1,19.3 L283.32,19.3 L285.55,19.3 L287.77,19.3 L290,19.3 L292.23,19.3 L294.45,19.3 L296.68,19.3 L298.9,19.3 L301.12,19.3 L303.35,19.3 L305.57,19.3 L307.8,19.3 L310.02,19.3 L312.25,19.3 L314.48,19.3 L316.7,19.3 L318.93,19.3 L321.15,19.3 L323.38,19.3 L325.6,19.3 L327.82,19.3 L330.05,19.3 L332.28,19.3 L334.5,19.3 L336.72,19.3 L338.95,19.3 L341.18,19.3 L343.4,19.3 L345.62,19.3 L347.85,19.3 L350.07,19.3 L352.3,19.3 L354.53,19.3 L356.75,19.3 L358.98,19.3 L361.2,19.3 L363.43,19.3 L365.65,19.3 L367.88,19.3 L370.1,19.3 L372.32,19.3 L374.55,19.3 L376.78,19.3 L379,19.3 L381.22,19.3 L383.45,19.3 L385.68,19.31 L387.9,19.31 L390.12,19.31 L392.35,19.31 L394.57,19.31 L396.8,19.31 L399.02,19.31 L401.25,19.31 L403.47,19.31 L405.7,19.31 L407.93,19.31 L410.15,19.31 L412.38,19.31 L414.6,19.31 L416.82,19.31 L419.05,19.31 L421.27,19.31 L423.5,19.31 L425.73,19.31 L427.95,19.31 L430.18,19.31 L432.4,19.31 L434.62,19.31 L436.85,19.31 L439.07,19.31 L441.3,19.31 L443.52,19.31 L445.75,19.31 L447.98,19.31 L450.2,19.31 L452.43,19.32 L454.65,19.32 L456.88,19.32 L459.1,19.32 L461.32,19.32 L463.55,19.32 L465.77,19.32 L468,19.32 L470.23,19.32 L472.45,19.32 L474.68,19.32 L476.9,19.32 L479.12,19.32 L481.35,19.32 L483.57,19.32 L485.8,19.33 L488.02,19.33 L490.25,19.33 L492.48,19.33 L494.7,19.33 L496.93,19.33 L499.15,19.33 L501.38,19.33 L503.6,19.33 L505.82,19.34 L508.05,19.34 L510.27,19.34 L512.5,19.34 L514.73,19.34 L516.95,19.34 L519.17,19.34 L521.4,19.35 L523.62,19.35 L525.85,19.35 L528.08,19.35 L530.3,19.35 L532.52,19.36 L534.75,19.36 L536.98,19.36 L539.2,19.36 L541.42,19.36 L543.65,19.37 L545.88,19.37 L548.1,19.37 L550.33,19.37 L552.55,19.38 L554.77,19.38 L557,19.38 L559.23,19.38 L561.45,19.39 L563.67,19.39 L565.9,19.39 L568.12,19.4 L570.35,19.4 L572.57,19.41 L574.8,19.41 L577.02,19.41 L579.25,19.42 L581.48,19.42 L583.7,19.43 L585.93,19.43 L588.15,19.44 L590.38,19.44 L592.6,19.45 L594.82,19.45 L597.05,19.46 L599.27,19.46 L601.5,19.47 L603.73,19.47 L605.95,19.48 L608.17,19.49 L610.4,19.49 L612.62,19.5 L614.85,19.51 L617.08,19.52 L619.3,19.52 L621.52,19.53 L623.75,19.54 L625.98,19.55 L628.2,19.56 L630.42,19.57 L632.65,19.58 L634.88,19.59 L637.1,19.6 L639.33,19.61 L641.55,19.62 L643.77,19.63 L646,19.64 L648.23,19.66 L650.45,19.67 L652.68,19.68 L654.9,19.7 L657.12,19.71 L659.35,19.73 L661.58,19.74 L663.8,19.76 L666.02,19.78 L668.25,19.79 L670.48,19.81 L672.7,19.83 L674.93,19.85 L677.15,19.87 L679.38,19.89 L681.6,19.91 L683.82,19.93 L686.05,19.96 L688.27,19.98 L690.5,20.01 L692.73,20.03 L694.95,20.06 L697.18,20.09 L699.4,20.11 L701.62,20.14 L703.85,20.18 L706.07,20.21 L708.3,20.24 L710.52,20.27 L712.75,20.31 L714.98,20.35 L717.2,20.39 L719.42,20.43 L721.65,20.47 L723.88,20.51 L726.1,20.55 L728.32,20.6 L730.55,20.65 L732.77,20.7 L735,20.75 L737.23,20.8 L739.45,20.85 L741.67,20.91 L743.9,20.97 L746.12,21.03 L748.35,21.09 L750.58,21.16 L752.8,21.23 L755.02,21.3 L757.25,21.37 L759.48,21.44 L761.7,21.52 L763.92,21.6 L766.15,21.69 L768.38,21.77 L770.6,21.86 L772.83,21.96 L775.05,22.05 L777.27,22.15 L779.5,22.25 L781.73,22.36 L783.95,22.47 L786.17,22.59 L788.4,22.71 L790.62,22.83 L792.85,22.96 L795.08,23.09 L797.3,23.23 L799.52,23.37 L801.75,23.52 L803.98,23.67 L806.2,23.83 L808.42,23.99 L810.65,24.16 L812.88,24.33 L815.1,24.52 L817.33,24.7 L819.55,24.9 L821.77,25.1 L824,25.31 L826.23,25.52 L828.45,25.75 L830.67,25.98 L832.9,26.22 L835.12,26.47 L837.35,26.72 L839.58,26.99 L841.8,27.26 L844.02,27.55 L846.25,27.84 L848.48,28.14 L850.7,28.46 L852.92,28.78 L855.15,29.12 L857.38,29.47 L859.6,29.83 L861.83,30.2 L864.05,30.59 L866.27,30.99 L868.5,31.4 L870.73,31.82 L872.95,32.26 L875.17,32.72 L877.4,33.19 L879.62,33.67 L881.85,34.18 L884.08,34.7 L886.3,35.23 L888.52,35.78 L890.75,36.36 L892.98,36.95 L895.2,37.56 L897.42,38.19 L899.65,38.83 L901.88,39.5 L904.1,40.2 L906.33,40.91 L908.55,41.65 L910.77,42.41 L913,43.19 L915.23,44 L917.45,44.83 L919.67,45.69 L921.9,46.57 L924.12,47.48 L926.35,48.42 L928.58,49.39 L930.8,50.38 L933.02,51.41 L935.25,52.46 L937.48,53.54 L939.7,54.66 L941.92,55.81 L944.15,56.99 L946.38,58.2 L948.6,59.45 L950.83,60.73 L953.05,62.04 L955.27,63.39 L957.5,64.78 L959.73,66.2 L961.95,67.66 L964.17,69.15 L966.4,70.69 L968.63,72.26 L970.85,73.86 L973.08,75.51 L975.3,77.2 L977.52,78.92 L979.75,80.69 L981.98,82.49 L984.2,84.34 L986.42,86.22 L988.65,88.15 L990.88,90.11 L993.1,92.12 L995.33,94.16 L997.55,96.24 L999.77,98.36 L1002,100.52 L1004.23,102.72 L1006.45,104.96 L1008.67,107.24 L1010.9,109.55 L1013.12,111.9 L1015.35,114.29 L1017.58,116.71 L1019.8,119.16 L1022.02,121.65 L1024.25,124.17 L1026.47,126.72 L1028.7,129.31 L1030.92,131.92 L1033.15,134.56 L1035.38,137.23 L1037.6,139.92 L1039.83,142.63 L1042.05,145.37 L1044.28,148.13 L1046.5,150.91 L1048.72,153.71 L1050.95,156.52 L1053.17,159.35 L1055.4,162.19 L1057.62,165.04 L1059.85,167.9 L1062.08,170.77 L1064.3,173.64 L1066.53,176.52 L1068.75,179.4 L1070.97,182.28 L1073.2,185.16 L1075.42,188.03 L1077.65,190.9 L1079.88,193.76 L1082.1,196.61 L1084.33,199.45 L1086.55,202.28 L1088.77,205.09 L1091,207.89 L1093.23,210.67 L1095.45,213.43 L1097.67,216.17 L1099.9,218.88 L1102.12,221.57 L1104.35,224.24 L1106.58,226.88 L1108.8,229.49 L1111.02,232.08 L1113.25,234.63 L1115.48,237.15 L1117.7,239.64 L1119.92,242.09 L1122.15,244.51 L1124.38,246.9 L1126.6,249.25 L1128.83,251.56 L1131.05,253.84 L1133.27,256.08 L1135.5,258.28 L1137.73,260.44 L1139.95,262.56 L1142.17,264.64 L1144.4,266.68 L1146.62,268.69 L1148.85,270.65 L1151.08,272.58 L1153.3,274.46 L1155.53,276.31 L1157.75,278.11 L1159.97,279.88 L1162.2,281.6 L1164.42,283.29 L1166.65,284.94 L1168.88,286.54 L1171.1,288.11 L1173.33,289.65 L1175.55,291.14 L1177.78,292.6 L1180,294.02 L1180,340 Z" fill="#00cc00" stroke="#00ff00" stroke-width="6.4" stroke-linejoin="round" clip-path="url(#cp5)"/><path d="M67,340 L67,19.3 L69.73,19.3 L71.95,19.3 L74.18,19.3 L76.4,19.3 L78.62,19.3 L80.85,19.3 L83.07,19.3 L85.3,19.3 L87.52,19.3 L89.75,19.3 L91.98,19.3 L94.2,19.3 L96.43,19.3 L98.65,19.3 L100.88,19.3 L103.1,19.3 L105.32,19.3 L107.55,19.3 L109.77,19.3 L112,19.3 L114.23,19.3 L116.45,19.3 L118.68,19.3 L120.9,19.3 L123.12,19.3 L125.35,19.3 L127.57,19.3 L129.8,19.3 L132.02,19.3 L134.25,19.3 L136.48,19.3 L138.7,19.3 L140.93,19.3 L143.15,19.3 L145.38,19.3 L147.6,19.3 L149.82,19.3 L152.05,19.3 L154.27,19.3 L156.5,19.3 L158.72,19.3 L160.95,19.3 L163.18,19.31 L165.4,19.31 L167.62,19.31 L169.85,19.31 L172.07,19.31 L174.3,19.31 L176.53,19.31 L178.75,19.31 L180.97,19.31 L183.2,19.31 L185.43,19.31 L187.65,19.31 L189.88,19.31 L192.1,19.31 L194.32,19.31 L196.55,19.31 L198.78,19.31 L201,19.31 L203.22,19.31 L205.45,19.31 L207.68,19.31 L209.9,19.31 L212.12,19.31 L214.35,19.31 L216.57,19.31 L218.8,19.31 L221.03,19.31 L223.25,19.31 L225.47,19.31 L227.7,19.31 L229.93,19.32 L232.15,19.32 L234.38,19.32 L236.6,19.32 L238.82,19.32 L241.05,19.32 L243.28,19.32 L245.5,19.32 L247.72,19.32 L249.95,19.32 L252.18,19.32 L254.4,19.32 L256.62,19.32 L258.85,19.32 L261.07,19.32 L263.3,19.33 L265.53,19.33 L267.75,19.33 L269.98,19.33 L272.2,19.33 L274.43,19.33 L276.65,19.33 L278.88,19.33 L281.1,19.33 L283.32,19.34 L285.55,19.34 L287.77,19.34 L290,19.34 L292.23,19.34 L294.45,19.34 L296.68,19.34 L298.9,19.35 L301.12,19.35 L303.35,19.35 L305.57,19.35 L307.8,19.35 L310.02,19.36 L312.25,19.36 L314.48,19.36 L316.7,19.36 L318.93,19.36 L321.15,19.37 L323.38,19.37 L325.6,19.37 L327.82,19.37 L330.05,19.38 L332.28,19.38 L334.5,19.38 L336.72,19.38 L338.95,19.39 L341.18,19.39 L343.4,19.39 L345.62,19.4 L347.85,19.4 L350.07,19.41 L352.3,19.41 L354.53,19.41 L356.75,19.42 L358.98,19.42 L361.2,19.43 L363.43,19.43 L365.65,19.44 L367.88,19.44 L370.1,19.45 L372.32,19.45 L374.55,19.46 L376.78,19.46 L379,19.47 L381.22,19.47 L383.45,19.48 L385.68,19.49 L387.9,19.49 L390.12,19.5 L392.35,19.51 L394.57,19.52 L396.8,19.52 L399.02,19.53 L401.25,19.54 L403.47,19.55 L405.7,19.56 L407.93,19.57 L410.15,19.58 L412.38,19.59 L414.6,19.6 L416.82,19.61 L419.05,19.62 L421.27,19.63 L423.5,19.64 L425.73,19.66 L427.95,19.67 L430.18,19.68 L432.4,19.7 L434.62,19.71 L436.85,19.73 L439.07,19.74 L441.3,19.76 L443.52,19.78 L445.75,19.79 L447.98,19.81 L450.2,19.83 L452.43,19.85 L454.65,19.87 L456.88,19.89 L459.1,19.91 L461.32,19.93 L463.55,19.96 L465.77,19.98 L468,20.01 L470.23,20.03 L472.45,20.06 L474.68,20.09 L476.9,20.11 L479.12,20.14 L481.35,20.18 L483.57,20.21 L485.8,20.24 L488.02,20.27 L490.25,20.31 L492.48,20.35 L494.7,20.39 L496.93,20.43 L499.15,20.47 L501.38,20.51 L503.6,20.55 L505.82,20.6 L508.05,20.65 L510.27,20.7 L512.5,20.75 L514.73,20.8 L516.95,20.85 L519.17,20.91 L521.4,20.97 L523.62,21.03 L525.85,21.09 L528.08,21.16 L530.3,21.23 L532.52,21.3 L534.75,21.37 L536.98,21.44 L539.2,21.52 L541.42,21.6 L543.65,21.69 L545.88,21.77 L548.1,21.86 L550.33,21.96 L552.55,22.05 L554.77,22.15 L557,22.25 L559.23,22.36 L561.45,22.47 L563.67,22.59 L565.9,22.71 L568.12,22.83 L570.35,22.96 L572.57,23.09 L574.8,23.23 L577.02,23.37 L579.25,23.52 L581.48,23.67 L583.7,23.83 L585.93,23.99 L588.15,24.16 L590.38,24.33 L592.6,24.52 L594.82,24.7 L597.05,24.9 L599.27,25.1 L601.5,25.31 L603.73,25.52 L605.95,25.75 L608.17,25.98 L610.4,26.22 L612.62,26.47 L614.85,26.72 L617.08,26.99 L619.3,27.26 L621.52,27.55 L623.75,27.84 L625.98,28.14 L628.2,28.46 L630.42,28.78 L632.65,29.12 L634.88,29.47 L637.1,29.83 L639.33,30.2 L641.55,30.59 L643.77,30.99 L646,31.4 L648.23,31.82 L650.45,32.26 L652.68,32.72 L654.9,33.19 L657.12,33.67 L659.35,34.18 L661.58,34.7 L663.8,35.23 L666.02,35.78 L668.25,36.36 L670.48,36.95 L672.7,37.56 L674.93,38.19 L677.15,38.83 L679.38,39.5 L681.6,40.2 L683.82,40.91 L686.05,41.65 L688.27,42.41 L690.5,43.19 L692.73,44 L694.95,44.83 L697.18,45.69 L699.4,46.57 L701.62,47.48 L703.85,48.42 L706.07,49.39 L708.3,50.38 L710.52,51.41 L712.75,52.46 L714.98,53.54 L717.2,54.66 L719.42,55.81 L721.65,56.99 L723.88,58.2 L726.1,59.45 L728.32,60.73 L730.55,62.04 L732.77,63.39 L735,64.78 L737.23,66.2 L739.45,67.66 L741.67,69.15 L743.9,70.69 L746.12,72.26 L748.35,73.86 L750.58,75.51 L752.8,77.2 L755.02,78.92 L757.25,80.69 L759.48,82.49 L761.7,84.34 L763.92,86.22 L766.15,88.15 L768.38,90.11 L770.6,92.12 L772.83,94.16 L775.05,96.24 L777.27,98.36 L779.5,100.52 L781.73,102.72 L783.95,104.96 L786.17,107.24 L788.4,109.55 L790.62,111.9 L792.85,114.29 L795.08,116.71 L797.3,119.16 L799.52,121.65 L801.75,124.17 L803.98,126.72 L806.2,129.31 L808.42,131.92 L810.65,134.56 L812.88,137.23 L815.1,139.92 L817.33,142.63 L819.55,145.37 L821.77,148.13 L824,150.91 L826.23,153.71 L828.45,156.52 L830.67,159.35 L832.9,162.19 L835.12,165.04 L837.35,167.9 L839.58,170.77 L841.8,173.64 L844.02,176.52 L846.25,179.4 L848.48,182.28 L850.7,185.16 L852.92,188.03 L855.15,190.9 L857.38,193.76 L859.6,196.61 L861.83,199.45 L864.05,202.28 L866.27,205.09 L868.5,207.89 L870.73,210.67 L872.95,213.43 L875.17,216.17 L877.4,218.88 L879.62,221.57 L881.85,224.24 L884.08,226.88 L886.3,229.49 L888.52,232.08 L890.75,234.63 L892.98,237.15 L895.2,239.64 L897.42,242.09 L899.65,244.51 L901.88,246.9 L904.1,249.25 L906.33,251.56 L908.55,253.84 L910.77,256.08 L913,258.28 L915.23,260.44 L917.45,262.56 L919.67,264.64 L921.9,266.68 L924.12,268.69 L926.35,270.65 L928.58,272.58 L930.8,274.46 L933.02,276.31 L935.25,278.11 L937.48,279.88 L939.7,281.6 L941.92,283.29 L944.15,284.94 L946.38,286.54 L948.6,288.11 L950.83,289.65 L953.05,291.14 L955.27,292.6 L957.5,294.02 L959.73,295.41 L961.95,296.76 L964.17,298.07 L966.4,299.35 L968.63,300.6 L970.85,301.81 L973.08,302.99 L975.3,304.14 L977.52,305.26 L979.75,306.34 L981.98,307.39 L984.2,308.42 L986.42,309.41 L988.65,310.38 L990.88,311.32 L993.1,312.23 L995.33,313.11 L997.55,313.97 L999.77,314.8 L1002,315.61 L1004.23,316.39 L1006.45,317.15 L1008.67,317.89 L1010.9,318.6 L1013.12,319.3 L1015.35,319.97 L1017.58,320.61 L1019.8,321.24 L1022.02,321.85 L1024.25,322.44 L1026.47,323.02 L1028.7,323.57 L1030.92,324.1 L1033.15,324.62 L1035.38,325.13 L1037.6,325.61 L1039.83,326.08 L1042.05,326.54 L1044.28,326.98 L1046.5,327.4 L1048.72,327.81 L1050.95,328.21 L1053.17,328.6 L1055.4,328.97 L1057.62,329.33 L1059.85,329.68 L1062.08,330.02 L1064.3,330.34 L1066.53,330.66 L1068.75,330.96 L1070.97,331.25 L1073.2,331.54 L1075.42,331.81 L1077.65,332.08 L1079.88,332.33 L1082.1,332.58 L1084.33,332.82 L1086.55,333.05 L1088.77,333.28 L1091,333.49 L1093.23,333.7 L1095.45,333.9 L1097.67,334.1 L1099.9,334.28 L1102.12,334.47 L1104.35,334.64 L1106.58,334.81 L1108.8,334.97 L1111.02,335.13 L1113.25,335.28 L1115.48,335.43 L1117.7,335.57 L1119.92,335.71 L1122.15,335.84 L1124.38,335.97 L1126.6,336.09 L1128.83,336.21 L1131.05,336.33 L1133.27,336.44 L1135.5,336.55 L1137.73,336.65 L1139.95,336.75 L1142.17,336.84 L1144.4,336.94 L1146.62,337.03 L1148.85,337.11 L1151.08,337.2 L1153.3,337.28 L1155.53,337.36 L1157.75,337.43 L1159.97,337.5 L1162.2,337.57 L1164.42,337.64 L1166.65,337.71 L1168.88,337.77 L1171.1,337.83 L1173.33,337.89 L1175.55,337.95 L1177.78,338 L1180,338.05 L1180,340 Z" fill="#0066cc" stroke="#0080ff" stroke-width="6.4" stroke-linejoin="round" clip-path="url(#cp4)"/><path d="M67,340 L67,19.34 L69.73,19.34 L71.95,19.34 L74.18,19.34 L76.4,19.35 L78.62,19.35 L80.85,19.35 L83.07,19.35 L85.3,19.35 L87.52,19.36 L89.75,19.36 L91.98,19.36 L94.2,19.36 L96.43,19.36 L98.65,19.37 L100.88,19.37 L103.1,19.37 L105.32,19.37 L107.55,19.38 L109.77,19.38 L112,19.38 L114.23,19.38 L116.45,19.39 L118.68,19.39 L120.9,19.39 L123.12,19.4 L125.35,19.4 L127.57,19.41 L129.8,19.41 L132.02,19.41 L134.25,19.42 L136.48,19.42 L138.7,19.43 L140.93,19.43 L143.15,19.44 L145.38,19.44 L147.6,19.45 L149.82,19.45 L152.05,19.46 L154.27,19.46 L156.5,19.47 L158.72,19.47 L160.95,19.48 L163.18,19.49 L165.4,19.49 L167.62,19.5 L169.85,19.51 L172.07,19.52 L174.3,19.52 L176.53,19.53 L178.75,19.54 L180.97,19.55 L183.2,19.56 L185.43,19.57 L187.65,19.58 L189.88,19.59 L192.1,19.6 L194.32,19.61 L196.55,19.62 L198.78,19.63 L201,19.64 L203.22,19.66 L205.45,19.67 L207.68,19.68 L209.9,19.7 L212.12,19.71 L214.35,19.73 L216.57,19.74 L218.8,19.76 L221.03,19.78 L223.25,19.79 L225.47,19.81 L227.7,19.83 L229.93,19.85 L232.15,19.87 L234.38,19.89 L236.6,19.91 L238.82,19.93 L241.05,19.96 L243.28,19.98 L245.5,20.01 L247.72,20.03 L249.95,20.06 L252.18,20.09 L254.4,20.11 L256.62,20.14 L258.85,20.18 L261.07,20.21 L263.3,20.24 L265.53,20.27 L267.75,20.31 L269.98,20.35 L272.2,20.39 L274.43,20.43 L276.65,20.47 L278.88,20.51 L281.1,20.55 L283.32,20.6 L285.55,20.65 L287.77,20.7 L290,20.75 L292.23,20.8 L294.45,20.85 L296.68,20.91 L298.9,20.97 L301.12,21.03 L303.35,21.09 L305.57,21.16 L307.8,21.23 L310.02,21.3 L312.25,21.37 L314.48,21.44 L316.7,21.52 L318.93,21.6 L321.15,21.69 L323.38,21.77 L325.6,21.86 L327.82,21.96 L330.05,22.05 L332.28,22.15 L334.5,22.25 L336.72,22.36 L338.95,22.47 L341.18,22.59 L343.4,22.71 L345.62,22.83 L347.85,22.96 L350.07,23.09 L352.3,23.23 L354.53,23.37 L356.75,23.52 L358.98,23.67 L361.2,23.83 L363.43,23.99 L365.65,24.16 L367.88,24.33 L370.1,24.52 L372.32,24.7 L374.55,24.9 L376.78,25.1 L379,25.31 L381.22,25.52 L383.45,25.75 L385.68,25.98 L387.9,26.22 L390.12,26.47 L392.35,26.72 L394.57,26.99 L396.8,27.26 L399.02,27.55 L401.25,27.84 L403.47,28.14 L405.7,28.46 L407.93,28.78 L410.15,29.12 L412.38,29.47 L414.6,29.83 L416.82,30.2 L419.05,30.59 L421.27,30.99 L423.5,31.4 L425.73,31.82 L427.95,32.26 L430.18,32.72 L432.4,33.19 L434.62,33.67 L436.85,34.18 L439.07,34.7 L441.3,35.23 L443.52,35.78 L445.75,36.36 L447.98,36.95 L450.2,37.56 L452.43,38.19 L454.65,38.83 L456.88,39.5 L459.1,40.2 L461.32,40.91 L463.55,41.65 L465.77,42.41 L468,43.19 L470.23,44 L472.45,44.83 L474.68,45.69 L476.9,46.57 L479.12,47.48 L481.35,48.42 L483.57,49.39 L485.8,50.38 L488.02,51.41 L490.25,52.46 L492.48,53.54 L494.7,54.66 L496.93,55.81 L499.15,56.99 L501.38,58.2 L503.6,59.45 L505.82,60.73 L508.05,62.04 L510.27,63.39 L512.5,64.78 L514.73,66.2 L516.95,67.66 L519.17,69.15 L521.4,70.69 L523.62,72.26 L525.85,73.86 L528.08,75.51 L530.3,77.2 L532.52,78.92 L534.75,80.69 L536.98,82.49 L539.2,84.34 L541.42,86.22 L543.65,88.15 L545.88,90.11 L548.1,92.12 L550.33,94.16 L552.55,96.24 L554.77,98.36 L557,100.52 L559.23,102.72 L561.45,104.96 L563.67,107.24 L565.9,109.55 L568.12,111.9 L570.35,114.29 L572.57,116.71 L574.8,119.16 L577.02,121.65 L579.25,124.17 L581.48,126.72 L583.7,129.31 L585.93,131.92 L588.15,134.56 L590.38,137.23 L592.6,139.92 L594.82,142.63 L597.05,145.37 L599.27,148.13 L601.5,150.91 L603.73,153.71 L605.95,156.52 L608.17,159.35 L610.4,162.19 L612.62,165.04 L614.85,167.9 L617.08,170.77 L619.3,173.64 L621.52,176.52 L623.75,179.4 L625.98,182.28 L628.2,185.16 L630.42,188.03 L632.65,190.9 L634.88,193.76 L637.1,196.61 L639.33,199.45 L641.55,202.28 L643.77,205.09 L646,207.89 L648.23,210.67 L650.45,213.43 L652.68,216.17 L654.9,218.88 L657.12,221.57 L659.35,224.24 L661.58,226.88 L663.8,229.49 L666.02,232.08 L668.25,234.63 L670.48,237.15 L672.7,239.64 L674.93,242.09 L677.15,244.51 L679.38,246.9 L681.6,249.25 L683.82,251.56 L686.05,253.84 L688.27,256.08 L690.5,258.28 L692.73,260.44 L694.95,262.56 L697.18,264.64 L699.4,266.68 L701.62,268.69 L703.85,270.65 L706.07,272.58 L708.3,274.46 L710.52,276.31 L712.75,278.11 L714.98,279.88 L717.2,281.6 L719.42,283.29 L721.65,284.94 L723.88,286.54 L726.1,288.11 L728.32,289.65 L730.55,291.14 L732.77,292.6 L735,294.02 L737.23,295.41 L739.45,296.76 L741.67,298.07 L743.9,299.35 L746.12,300.6 L748.35,301.81 L750.58,302.99 L752.8,304.14 L755.02,305.26 L757.25,306.34 L759.48,307.39 L761.7,308.42 L763.92,309.41 L766.15,310.38 L768.38,311.32 L770.6,312.23 L772.83,313.11 L775.05,313.97 L777.27,314.8 L779.5,315.61 L781.73,316.39 L783.95,317.15 L786.17,317.89 L788.4,318.6 L790.62,319.3 L792.85,319.97 L795.08,320.61 L797.3,321.24 L799.52,321.85 L801.75,322.44 L803.98,323.02 L806.2,323.57 L808.42,324.1 L810.65,324.62 L812.88,325.13 L815.1,325.61 L817.33,326.08 L819.55,326.54 L821.77,326.98 L824,327.4 L826.23,327.81 L828.45,328.21 L830.67,328.6 L832.9,328.97 L835.12,329.33 L837.35,329.68 L839.58,330.02 L841.8,330.34 L844.02,330.66 L846.25,330.96 L848.48,331.25 L850.7,331.54 L852.92,331.81 L855.15,332.08 L857.38,332.33 L859.6,332.58 L861.83,332.82 L864.05,333.05 L866.27,333.28 L868.5,333.49 L870.73,333.7 L872.95,333.9 L875.17,334.1 L877.4,334.28 L879.62,334.47 L881.85,334.64 L884.08,334.81 L886.3,334.97 L888.52,335.13 L890.75,335.28 L892.98,335.43 L895.2,335.57 L897.42,335.71 L899.65,335.84 L901.88,335.97 L904.1,336.09 L906.33,336.21 L908.55,336.33 L910.77,336.44 L913,336.55 L915.23,336.65 L917.45,336.75 L919.67,336.84 L921.9,336.94 L924.12,337.03 L926.35,337.11 L928.58,337.2 L930.8,337.28 L933.02,337.36 L935.25,337.43 L937.48,337.5 L939.7,337.57 L941.92,337.64 L944.15,337.71 L946.38,337.77 L948.6,337.83 L950.83,337.89 L953.05,337.95 L955.27,338 L957.5,338.05 L959.73,338.1 L961.95,338.15 L964.17,338.2 L966.4,338.25 L968.63,338.29 L970.85,338.33 L973.08,338.37 L975.3,338.41 L977.52,338.45 L979.75,338.49 L981.98,338.53 L984.2,338.56 L986.42,338.59 L988.65,338.62 L990.88,338.66 L993.1,338.69 L995.33,338.71 L997.55,338.74 L999.77,338.77 L1002,338.79 L1004.23,338.82 L1006.45,338.84 L1008.67,338.87 L1010.9,338.89 L1013.12,338.91 L1015.35,338.93 L1017.58,338.95 L1019.8,338.97 L1022.02,338.99 L1024.25,339.01 L1026.47,339.02 L1028.7,339.04 L1030.92,339.06 L1033.15,339.07 L1035.38,339.09 L1037.6,339.1 L1039.83,339.12 L1042.05,339.13 L1044.28,339.14 L1046.5,339.16 L1048.72,339.17 L1050.95,339.18 L1053.17,339.19 L1055.4,339.2 L1057.62,339.21 L1059.85,339.22 L1062.08,339.23 L1064.3,339.24 L1066.53,339.25 L1068.75,339.26 L1070.97,339.27 L1073.2,339.28 L1075.42,339.28 L1077.65,339.29 L1079.88,339.3 L1082.1,339.31 L1084.33,339.31 L1086.55,339.32 L1088.77,339.33 L1091,339.33 L1093.23,339.34 L1095.45,339.34 L1097.67,339.35 L1099.9,339.35 L1102.12,339.36 L1104.35,339.36 L1106.58,339.37 L1108.8,339.37 L1111.02,339.38 L1113.25,339.38 L1115.48,339.39 L1117.7,339.39 L1119.92,339.39 L1122.15,339.4 L1124.38,339.4 L1126.6,339.41 L1128.83,339.41 L1131.05,339.41 L1133.27,339.42 L1135.5,339.42 L1137.73,339.42 L1139.95,339.42 L1142.17,339.43 L1144.4,339.43 L1146.62,339.43 L1148.85,339.43 L1151.08,339.44 L1153.3,339.44 L1155.53,339.44 L1157.75,339.44 L1159.97,339.44 L1162.2,339.45 L1164.42,339.45 L1166.65,339.45 L1168.88,339.45 L1171.1,339.45 L1173.33,339.46 L1175.55,339.46 L1177.78,339.46 L1180,339.46 L1180,340 Z" fill="#cc00cc" stroke="#ff00ff" stroke-width="6.4" stroke-linejoin="round" clip-path="url(#cp3)"/><path d="M67,340 L67,20.75 L69.73,20.8 L71.95,20.85 L74.18,20.91 L76.4,20.97 L78.62,21.03 L80.85,21.09 L83.07,21.16 L85.3,21.23 L87.52,21.3 L89.75,21.37 L91.98,21.44 L94.2,21.52 L96.43,21.6 L98.65,21.69 L100.88,21.77 L103.1,21.86 L105.32,21.96 L107.55,22.05 L109.77,22.15 L112,22.25 L114.23,22.36 L116.45,22.47 L118.68,22.59 L120.9,22.71 L123.12,22.83 L125.35,22.96 L127.57,23.09 L129.8,23.23 L132.02,23.37 L134.25,23.52 L136.48,23.67 L138.7,23.83 L140.93,23.99 L143.15,24.16 L145.38,24.33 L147.6,24.52 L149.82,24.7 L152.05,24.9 L154.27,25.1 L156.5,25.31 L158.72,25.52 L160.95,25.75 L163.18,25.98 L165.4,26.22 L167.62,26.47 L169.85,26.72 L172.07,26.99 L174.3,27.26 L176.53,27.55 L178.75,27.84 L180.97,28.14 L183.2,28.46 L185.43,28.78 L187.65,29.12 L189.88,29.47 L192.1,29.83 L194.32,30.2 L196.55,30.59 L198.78,30.99 L201,31.4 L203.22,31.82 L205.45,32.26 L207.68,32.72 L209.9,33.19 L212.12,33.67 L214.35,34.18 L216.57,34.7 L218.8,35.23 L221.03,35.78 L223.25,36.36 L225.47,36.95 L227.7,37.56 L229.93,38.19 L232.15,38.83 L234.38,39.5 L236.6,40.2 L238.82,40.91 L241.05,41.65 L243.28,42.41 L245.5,43.19 L247.72,44 L249.95,44.83 L252.18,45.69 L254.4,46.57 L256.62,47.48 L258.85,48.42 L261.07,49.39 L263.3,50.38 L265.53,51.41 L267.75,52.46 L269.98,53.54 L272.2,54.66 L274.43,55.81 L276.65,56.99 L278.88,58.2 L281.1,59.45 L283.32,60.73 L285.55,62.04 L287.77,63.39 L290,64.78 L292.23,66.2 L294.45,67.66 L296.68,69.15 L298.9,70.69 L301.12,72.26 L303.35,73.86 L305.57,75.51 L307.8,77.2 L310.02,78.92 L312.25,80.69 L314.48,82.49 L316.7,84.34 L318.93,86.22 L321.15,88.15 L323.38,90.11 L325.6,92.12 L327.82,94.16 L330.05,96.24 L332.28,98.36 L334.5,100.52 L336.72,102.72 L338.95,104.96 L341.18,107.24 L343.4,109.55 L345.62,111.9 L347.85,114.29 L350.07,116.71 L352.3,119.16 L354.53,121.65 L356.75,124.17 L358.98,126.72 L361.2,129.31 L363.43,131.92 L365.65,134.56 L367.88,137.23 L370.1,139.92 L372.32,142.63 L374.55,145.37 L376.78,148.13 L379,150.91 L381.22,153.71 L383.45,156.52 L385.68,159.35 L387.9,162.19 L390.12,165.04 L392.35,167.9 L394.57,170.77 L396.8,173.64 L399.02,176.52 L401.25,179.4 L403.47,182.28 L405.7,185.16 L407.93,188.03 L410.15,190.9 L412.38,193.76 L414.6,196.61 L416.82,199.45 L419.05,202.28 L421.27,205.09 L423.5,207.89 L425.73,210.67 L427.95,213.43 L430.18,216.17 L432.4,218.88 L434.62,221.57 L436.85,224.24 L439.07,226.88 L441.3,229.49 L443.52,232.08 L445.75,234.63 L447.98,237.15 L450.2,239.64 L452.43,242.09 L454.65,244.51 L456.88,246.9 L459.1,249.25 L461.32,251.56 L463.55,253.84 L465.77,256.08 L468,258.28 L470.23,260.44 L472.45,262.56 L474.68,264.64 L476.9,266.68 L479.12,268.69 L481.35,270.65 L483.57,272.58 L485.8,274.46 L488.02,276.31 L490.25,278.11 L492.48,279.88 L494.7,281.6 L496.93,283.29 L499.15,284.94 L501.38,286.54 L503.6,288.11 L505.82,289.65 L508.05,291.14 L510.27,292.6 L512.5,294.02 L514.73,295.41 L516.95,296.76 L519.17,298.07 L521.4,299.35 L523.62,300.6 L525.85,301.81 L528.08,302.99 L530.3,304.14 L532.52,305.26 L534.75,306.34 L536.98,307.39 L539.2,308.42 L541.42,309.41 L543.65,310.38 L545.88,311.32 L548.1,312.23 L550.33,313.11 L552.55,313.97 L554.77,314.8 L557,315.61 L559.23,316.39 L561.45,317.15 L563.67,317.89 L565.9,318.6 L568.12,319.3 L570.35,319.97 L572.57,320.61 L574.8,321.24 L577.02,321.85 L579.25,322.44 L581.48,323.02 L583.7,323.57 L585.93,324.1 L588.15,324.62 L590.38,325.13 L592.6,325.61 L594.82,326.08 L597.05,326.54 L599.27,326.98 L601.5,327.4 L603.73,327.81 L605.95,328.21 L608.17,328.6 L610.4,328.97 L612.62,329.33 L614.85,329.68 L617.08,330.02 L619.3,330.34 L621.52,330.66 L623.75,330.96 L625.98,331.25 L628.2,331.54 L630.42,331.81 L632.65,332.08 L634.88,332.33 L637.1,332.58 L639.33,332.82 L641.55,333.05 L643.77,333.28 L646,333.49 L648.23,333.7 L650.45,333.9 L652.68,334.1 L654.9,334.28 L657.12,334.47 L659.35,334.64 L661.58,334.81 L663.8,334.97 L666.02,335.13 L668.25,335.28 L670.48,335.43 L672.7,335.57 L674.93,335.71 L677.15,335.84 L679.38,335.97 L681.6,336.09 L683.82,336.21 L686.05,336.33 L688.27,336.44 L690.5,336.55 L692.73,336.65 L694.95,336.75 L697.18,336.84 L699.4,336.94 L701.62,337.03 L703.85,337.11 L706.07,337.2 L708.3,337.28 L710.52,337.36 L712.75,337.43 L714.98,337.5 L717.2,337.57 L719.42,337.64 L721.65,337.71 L723.88,337.77 L726.1,337.83 L728.32,337.89 L730.55,337.95 L732.77,338 L735,338.05 L737.23,338.1 L739.45,338.15 L741.67,338.2 L743.9,338.25 L746.12,338.29 L748.35,338.33 L750.58,338.37 L752.8,338.41 L755.02,338.45 L757.25,338.49 L759.48,338.53 L761.7,338.56 L763.92,338.59 L766.15,338.62 L768.38,338.66 L770.6,338.69 L772.83,338.71 L775.05,338.74 L777.27,338.77 L779.5,338.79 L781.73,338.82 L783.95,338.84 L786.17,338.87 L788.4,338.89 L790.62,338.91 L792.85,338.93 L795.08,338.95 L797.3,338.97 L799.52,338.99 L801.75,339.01 L803.98,339.02 L806.2,339.04 L808.42,339.06 L810.65,339.07 L812.88,339.09 L815.1,339.1 L817.33,339.12 L819.55,339.13 L821.77,339.14 L824,339.16 L826.23,339.17 L828.45,339.18 L830.67,339.19 L832.9,339.2 L835.12,339.21 L837.35,339.22 L839.58,339.23 L841.8,339.24 L844.02,339.25 L846.25,339.26 L848.48,339.27 L850.7,339.28 L852.92,339.28 L855.15,339.29 L857.38,339.3 L859.6,339.31 L861.83,339.31 L864.05,339.32 L866.27,339.33 L868.5,339.33 L870.73,339.34 L872.95,339.34 L875.17,339.35 L877.4,339.35 L879.62,339.36 L881.85,339.36 L884.08,339.37 L886.3,339.37 L888.52,339.38 L890.75,339.38 L892.98,339.39 L895.2,339.39 L897.42,339.39 L899.65,339.4 L901.88,339.4 L904.1,339.41 L906.33,339.41 L908.55,339.41 L910.77,339.42 L913,339.42 L915.23,339.42 L917.45,339.42 L919.67,339.43 L921.9,339.43 L924.12,339.43 L926.35,339.43 L928.58,339.44 L930.8,339.44 L933.02,339.44 L935.25,339.44 L937.48,339.44 L939.7,339.45 L941.92,339.45 L944.15,339.45 L946.38,339.45 L948.6,339.45 L950.83,339.46 L953.05,339.46 L955.27,339.46 L957.5,339.46 L959.73,339.46 L961.95,339.46 L964.17,339.46 L966.4,339.47 L968.63,339.47 L970.85,339.47 L973.08,339.47 L975.3,339.47 L977.52,339.47 L979.75,339.47 L981.98,339.47 L984.2,339.47 L986.42,339.48 L988.65,339.48 L990.88,339.48 L993.1,339.48 L995.33,339.48 L997.55,339.48 L999.77,339.48 L1002,339.48 L1004.23,339.48 L1006.45,339.48 L1008.67,339.48 L1010.9,339.48 L1013.12,339.48 L1015.35,339.48 L1017.58,339.48 L1019.8,339.49 L1022.02,339.49 L1024.25,339.49 L1026.47,339.49 L1028.7,339.49 L1030.92,339.49 L1033.15,339.49 L1035.38,339.49 L1037.6,339.49 L1039.83,339.49 L1042.05,339.49 L1044.28,339.49 L1046.5,339.49 L1048.72,339.49 L1050.95,339.49 L1053.17,339.49 L1055.4,339.49 L1057.62,339.49 L1059.85,339.49 L1062.08,339.49 L1064.3,339.49 L1066.53,339.49 L1068.75,339.49 L1070.97,339.49 L1073.2,339.49 L1075.42,339.49 L1077.65,339.49 L1079.88,339.49 L1082.1,339.49 L1084.33,339.49 L1086.55,339.5 L1088.77,339.5 L1091,339.5 L1093.23,339.5 L1095.45,339.5 L1097.67,339.5 L1099.9,339.5 L1102.12,339.5 L1104.35,339.5 L1106.58,339.5 L1108.8,339.5 L1111.02,339.5 L1113.25,339.5 L1115.48,339.5 L1117.7,339.5 L1119.92,339.5 L1122.15,339.5 L1124.38,339.5 L1126.6,339.5 L1128.83,339.5 L1131.05,339.5 L1133.27,339.5 L1135.5,339.5 L1137.73,339.5 L1139.95,339.5 L1142.17,339.5 L1144.4,339.5 L1146.62,339.5 L1148.85,339.5 L1151.08,339.5 L1153.3,339.5 L1155.53,339.5 L1157.75,339.5 L1159.97,339.5 L1162.2,339.5 L1164.42,339.5 L1166.65,339.5 L1168.88,339.5 L1171.1,339.5 L1173.33,339.5 L1175.55,339.5 L1177.78,339.5 L1180,339.5 L1180,340 Z" fill="#cc6600" stroke="#ff8000" stroke-width="6.4" stroke-linejoin="round" clip-path="url(#cp2)"/><path d="M67,340 L67,64.78 L69.73,66.2 L71.95,67.66 L74.18,69.15 L76.4,70.69 L78.62,72.26 L80.85,73.86 L83.07,75.51 L85.3,77.2 L87.52,78.92 L89.75,80.69 L91.98,82.49 L94.2,84.34 L96.43,86.22 L98.65,88.15 L100.88,90.11 L103.1,92.12 L105.32,94.16 L107.55,96.24 L109.77,98.36 L112,100.52 L114.23,102.72 L116.45,104.96 L118.68,107.24 L120.9,109.55 L123.12,111.9 L125.35,114.29 L127.57,116.71 L129.8,119.16 L132.02,121.65 L134.25,124.17 L136.48,126.72 L138.7,129.31 L140.93,131.92 L143.15,134.56 L145.38,137.23 L147.6,139.92 L149.82,142.63 L152.05,145.37 L154.27,148.13 L156.5,150.91 L158.72,153.71 L160.95,156.52 L163.18,159.35 L165.4,162.19 L167.62,165.04 L169.85,167.9 L172.07,170.77 L174.3,173.64 L176.53,176.52 L178.75,179.4 L180.97,182.28 L183.2,185.16 L185.43,188.03 L187.65,190.9 L189.88,193.76 L192.1,196.61 L194.32,199.45 L196.55,202.28 L198.78,205.09 L201,207.89 L203.22,210.67 L205.45,213.43 L207.68,216.17 L209.9,218.88 L212.12,221.57 L214.35,224.24 L216.57,226.88 L218.8,229.49 L221.03,232.08 L223.25,234.63 L225.47,237.15 L227.7,239.64 L229.93,242.09 L232.15,244.51 L234.38,246.9 L236.6,249.25 L238.82,251.56 L241.05,253.84 L243.28,256.08 L245.5,258.28 L247.72,260.44 L249.95,262.56 L252.18,264.64 L254.4,266.68 L256.62,268.69 L258.85,270.65 L261.07,272.58 L263.3,274.46 L265.53,276.31 L267.75,278.11 L269.98,279.88 L272.2,281.6 L274.43,283.29 L276.65,284.94 L278.88,286.54 L281.1,288.11 L283.32,289.65 L285.55,291.14 L287.77,292.6 L290,294.02 L292.23,295.41 L294.45,296.76 L296.68,298.07 L298.9,299.35 L301.12,300.6 L303.35,301.81 L305.57,302.99 L307.8,304.14 L310.02,305.26 L312.25,306.34 L314.48,307.39 L316.7,308.42 L318.93,309.41 L321.15,310.38 L323.38,311.32 L325.6,312.23 L327.82,313.11 L330.05,313.97 L332.28,314.8 L334.5,315.61 L336.72,316.39 L338.95,317.15 L341.18,317.89 L343.4,318.6 L345.62,319.3 L347.85,319.97 L350.07,320.61 L352.3,321.24 L354.53,321.85 L356.75,322.44 L358.98,323.02 L361.2,323.57 L363.43,324.1 L365.65,324.62 L367.88,325.13 L370.1,325.61 L372.32,326.08 L374.55,326.54 L376.78,326.98 L379,327.4 L381.22,327.81 L383.45,328.21 L385.68,328.6 L387.9,328.97 L390.12,329.33 L392.35,329.68 L394.57,330.02 L396.8,330.34 L399.02,330.66 L401.25,330.96 L403.47,331.25 L405.7,331.54 L407.93,331.81 L410.15,332.08 L412.38,332.33 L414.6,332.58 L416.82,332.82 L419.05,333.05 L421.27,333.28 L423.5,333.49 L425.73,333.7 L427.95,333.9 L430.18,334.1 L432.4,334.28 L434.62,334.47 L436.85,334.64 L439.07,334.81 L441.3,334.97 L443.52,335.13 L445.75,335.28 L447.98,335.43 L450.2,335.57 L452.43,335.71 L454.65,335.84 L456.88,335.97 L459.1,336.09 L461.32,336.21 L463.55,336.33 L465.77,336.44 L468,336.55 L470.23,336.65 L472.45,336.75 L474.68,336.84 L476.9,336.94 L479.12,337.03 L481.35,337.11 L483.57,337.2 L485.8,337.28 L488.02,337.36 L490.25,337.43 L492.48,337.5 L494.7,337.57 L496.93,337.64 L499.15,337.71 L501.38,337.77 L503.6,337.83 L505.82,337.89 L508.05,337.95 L510.27,338 L512.5,338.05 L514.73,338.1 L516.95,338.15 L519.17,338.2 L521.4,338.25 L523.62,338.29 L525.85,338.33 L528.08,338.37 L530.3,338.41 L532.52,338.45 L534.75,338.49 L536.98,338.53 L539.2,338.56 L541.42,338.59 L543.65,338.62 L545.88,338.66 L548.1,338.69 L550.33,338.71 L552.55,338.74 L554.77,338.77 L557,338.79 L559.23,338.82 L561.45,338.84 L563.67,338.87 L565.9,338.89 L568.12,338.91 L570.35,338.93 L572.57,338.95 L574.8,338.97 L577.02,338.99 L579.25,339.01 L581.48,339.02 L583.7,339.04 L585.93,339.06 L588.15,339.07 L590.38,339.09 L592.6,339.1 L594.82,339.12 L597.05,339.13 L599.27,339.14 L601.5,339.16 L603.73,339.17 L605.95,339.18 L608.17,339.19 L610.4,339.2 L612.62,339.21 L614.85,339.22 L617.08,339.23 L619.3,339.24 L621.52,339.25 L623.75,339.26 L625.98,339.27 L628.2,339.28 L630.42,339.28 L632.65,339.29 L634.88,339.3 L637.1,339.31 L639.33,339.31 L641.55,339.32 L643.77,339.33 L646,339.33 L648.23,339.34 L650.45,339.34 L652.68,339.35 L654.9,339.35 L657.12,339.36 L659.35,339.36 L661.58,339.37 L663.8,339.37 L666.02,339.38 L668.25,339.38 L670.48,339.39 L672.7,339.39 L674.93,339.39 L677.15,339.4 L679.38,339.4 L681.6,339.41 L683.82,339.41 L686.05,339.41 L688.27,339.42 L690.5,339.42 L692.73,339.42 L694.95,339.42 L697.18,339.43 L699.4,339.43 L701.62,339.43 L703.85,339.43 L706.07,339.44 L708.3,339.44 L710.52,339.44 L712.75,339.44 L714.98,339.44 L717.2,339.45 L719.42,339.45 L721.65,339.45 L723.88,339.45 L726.1,339.45 L728.32,339.46 L730.55,339.46 L732.77,339.46 L735,339.46 L737.23,339.46 L739.45,339.46 L741.67,339.46 L743.9,339.47 L746.12,339.47 L748.35,339.47 L750.58,339.47 L752.8,339.47 L755.02,339.47 L757.25,339.47 L759.48,339.47 L761.7,339.47 L763.92,339.48 L766.15,339.48 L768.38,339.48 L770.6,339.48 L772.83,339.48 L775.05,339.48 L777.27,339.48 L779.5,339.48 L781.73,339.48 L783.95,339.48 L786.17,339.48 L788.4,339.48 L790.62,339.48 L792.85,339.48 L795.08,339.48 L797.3,339.49 L799.52,339.49 L801.75,339.49 L803.98,339.49 L806.2,339.49 L808.42,339.49 L810.65,339.49 L812.88,339.49 L815.1,339.49 L817.33,339.49 L819.55,339.49 L821.77,339.49 L824,339.49 L826.23,339.49 L828.45,339.49 L830.67,339.49 L832.9,339.49 L835.12,339.49 L837.35,339.49 L839.58,339.49 L841.8,339.49 L844.02,339.49 L846.25,339.49 L848.48,339.49 L850.7,339.49 L852.92,339.49 L855.15,339.49 L857.38,339.49 L859.6,339.49 L861.83,339.49 L864.05,339.5 L866.27,339.5 L868.5,339.5 L870.73,339.5 L872.95,339.5 L875.17,339.5 L877.4,339.5 L879.62,339.5 L881.85,339.5 L884.08,339.5 L886.3,339.5 L888.52,339.5 L890.75,339.5 L892.98,339.5 L895.2,339.5 L897.42,339.5 L899.65,339.5 L901.88,339.5 L904.1,339.5 L906.33,339.5 L908.55,339.5 L910.77,339.5 L913,339.5 L915.23,339.5 L917.45,339.5 L919.67,339.5 L921.9,339.5 L924.12,339.5 L926.35,339.5 L928.58,339.5 L930.8,339.5 L933.02,339.5 L935.25,339.5 L937.48,339.5 L939.7,339.5 L941.92,339.5 L944.15,339.5 L946.38,339.5 L948.6,339.5 L950.83,339.5 L953.05,339.5 L955.27,339.5 L957.5,339.5 L959.73,339.5 L961.95,339.5 L964.17,339.5 L966.4,339.5 L968.63,339.5 L970.85,339.5 L973.08,339.5 L975.3,339.5 L977.52,339.5 L979.75,339.5 L981.98,339.5 L984.2,339.5 L986.42,339.5 L988.65,339.5 L990.88,339.5 L993.1,339.5 L995.33,339.5 L997.55,339.5 L999.77,339.5 L1002,339.5 L1004.23,339.5 L1006.45,339.5 L1008.67,339.5 L1010.9,339.5 L1013.12,339.5 L1015.35,339.5 L1017.58,339.5 L1019.8,339.5 L1022.02,339.5 L1024.25,339.5 L1026.47,339.5 L1028.7,339.5 L1030.92,339.5 L1033.15,339.5 L1035.38,339.5 L1037.6,339.5 L1039.83,339.5 L1042.05,339.5 L1044.28,339.5 L1046.5,339.5 L1048.72,339.5 L1050.95,339.5 L1053.17,339.5 L1055.4,339.5 L1057.62,339.5 L1059.85,339.5 L1062.08,339.5 L1064.3,339.5 L1066.53,339.5 L1068.75,339.5 L1070.97,339.5 L1073.2,339.5 L1075.42,339.5 L1077.65,339.5 L1079.88,339.5 L1082.1,339.5 L1084.33,339.5 L1086.55,339.5 L1088.77,339.5 L1091,339.5 L1093.23,339.5 L1095.45,339.5 L1097.67,339.5 L1099.9,339.5 L1102.12,339.5 L1104.35,339.5 L1106.58,339.5 L1108.8,339.5 L1111.02,339.5 L1113.25,339.5 L1115.48,339.5 L1117.7,339.5 L1119.92,339.5 L1122.15,339.5 L1124.38,339.5 L1126.6,339.5 L1128.83,339.5 L1131.05,339.5 L1133.27,339.5 L1135.5,339.5 L1137.73,339.5 L1139.95,339.5 L1142.17,339.5 L1144.4,339.5 L1146.62,339.5 L1148.85,339.5 L1151.08,339.5 L1153.3,339.5 L1155.53,339.5 L1157.75,339.5 L1159.97,339.5 L1162.2,339.5 L1164.42,339.5 L1166.65,339.5 L1168.88,339.5 L1171.1,339.5 L1173.33,339.5 L1175.55,339.5 L1177.78,339.5 L1180,339.5 L1180,340 Z" fill="#cc0000" stroke="#ff0000" stroke-width="6.4" stroke-linejoin="round" clip-path="url(#cp1)"/><path d="M67,340 L67,294.02 L69.73,295.41 L71.95,296.76 L74.18,298.07 L76.4,299.35 L78.62,300.6 L80.85,301.81 L83.07,302.99 L85.3,304.14 L87.52,305.26 L89.75,306.34 L91.98,307.39 L94.2,308.42 L96.43,309.41 L98.65,310.38 L100.88,311.32 L103.1,312.23 L105.32,313.11 L107.55,313.97 L109.77,314.8 L112,315.61 L114.23,316.39 L116.45,317.15 L118.68,317.89 L120.9,318.6 L123.12,319.3 L125.35,319.97 L127.57,320.61 L129.8,321.24 L132.02,321.85 L134.25,322.44 L136.48,323.02 L138.7,323.57 L140.93,324.1 L143.15,324.62 L145.38,325.13 L147.6,325.61 L149.82,326.08 L152.05,326.54 L154.27,326.98 L156.5,327.4 L158.72,327.81 L160.95,328.21 L163.18,328.6 L165.4,328.97 L167.62,329.33 L169.85,329.68 L172.07,330.02 L174.3,330.34 L176.53,330.66 L178.75,330.96 L180.97,331.25 L183.2,331.54 L185.43,331.81 L187.65,332.08 L189.88,332.33 L192.1,332.58 L194.32,332.82 L196.55,333.05 L198.78,333.28 L201,333.49 L203.22,333.7 L205.45,333.9 L207.68,334.1 L209.9,334.28 L212.12,334.47 L214.35,334.64 L216.57,334.81 L218.8,334.97 L221.03,335.13 L223.25,335.28 L225.47,335.43 L227.7,335.57 L229.93,335.71 L232.15,335.84 L234.38,335.97 L236.6,336.09 L238.82,336.21 L241.05,336.33 L243.28,336.44 L245.5,336.55 L247.72,336.65 L249.95,336.75 L252.18,336.84 L254.4,336.94 L256.62,337.03 L258.85,337.11 L261.07,337.2 L263.3,337.28 L265.53,337.36 L267.75,337.43 L269.98,337.5 L272.2,337.57 L274.43,337.64 L276.65,337.71 L278.88,337.77 L281.1,337.83 L283.32,337.89 L285.55,337.95 L287.77,338 L290,338.05 L292.23,338.1 L294.45,338.15 L296.68,338.2 L298.9,338.25 L301.12,338.29 L303.35,338.33 L305.57,338.37 L307.8,338.41 L310.02,338.45 L312.25,338.49 L314.48,338.53 L316.7,338.56 L318.93,338.59 L321.15,338.62 L323.38,338.66 L325.6,338.69 L327.82,338.71 L330.05,338.74 L332.28,338.77 L334.5,338.79 L336.72,338.82 L338.95,338.84 L341.18,338.87 L343.4,338.89 L345.62,338.91 L347.85,338.93 L350.07,338.95 L352.3,338.97 L354.53,338.99 L356.75,339.01 L358.98,339.02 L361.2,339.04 L363.43,339.06 L365.65,339.07 L367.88,339.09 L370.1,339.1 L372.32,339.12 L374.55,339.13 L376.78,339.14 L379,339.16 L381.22,339.17 L383.45,339.18 L385.68,339.19 L387.9,339.2 L390.12,339.21 L392.35,339.22 L394.57,339.23 L396.8,339.24 L399.02,339.25 L401.25,339.26 L403.47,339.27 L405.7,339.28 L407.93,339.28 L410.15,339.29 L412.38,339.3 L414.6,339.31 L416.82,339.31 L419.05,339.32 L421.27,339.33 L423.5,339.33 L425.73,339.34 L427.95,339.34 L430.18,339.35 L432.4,339.35 L434.62,339.36 L436.85,339.36 L439.07,339.37 L441.3,339.37 L443.52,339.38 L445.75,339.38 L447.98,339.39 L450.2,339.39 L452.43,339.39 L454.65,339.4 L456.88,339.4 L459.1,339.41 L461.32,339.41 L463.55,339.41 L465.77,339.42 L468,339.42 L470.23,339.42 L472.45,339.42 L474.68,339.43 L476.9,339.43 L479.12,339.43 L481.35,339.43 L483.57,339.44 L485.8,339.44 L488.02,339.44 L490.25,339.44 L492.48,339.44 L494.7,339.45 L496.93,339.45 L499.15,339.45 L501.38,339.45 L503.6,339.45 L505.82,339.46 L508.05,339.46 L510.27,339.46 L512.5,339.46 L514.73,339.46 L516.95,339.46 L519.17,339.46 L521.4,339.47 L523.62,339.47 L525.85,339.47 L528.08,339.47 L530.3,339.47 L532.52,339.47 L534.75,339.47 L536.98,339.47 L539.2,339.47 L541.42,339.48 L543.65,339.48 L545.88,339.48 L548.1,339.48 L550.33,339.48 L552.55,339.48 L554.77,339.48 L557,339.48 L559.23,339.48 L561.45,339.48 L563.67,339.48 L565.9,339.48 L568.12,339.48 L570.35,339.48 L572.57,339.48 L574.8,339.49 L577.02,339.49 L579.25,339.49 L581.48,339.49 L583.7,339.49 L585.93,339.49 L588.15,339.49 L590.38,339.49 L592.6,339.49 L594.82,339.49 L597.05,339.49 L599.27,339.49 L601.5,339.49 L603.73,339.49 L605.95,339.49 L608.17,339.49 L610.4,339.49 L612.62,339.49 L614.85,339.49 L617.08,339.49 L619.3,339.49 L621.52,339.49 L623.75,339.49 L625.98,339.49 L628.2,339.49 L630.42,339.49 L632.65,339.49 L634.88,339.49 L637.1,339.49 L639.33,339.49 L641.55,339.5 L643.77,339.5 L646,339.5 L648.23,339.5 L650.45,339.5 L652.68,339.5 L654.9,339.5 L657.12,339.5 L659.35,339.5 L661.58,339.5 L663.8,339.5 L666.02,339.5 L668.25,339.5 L670.48,339.5 L672.7,339.5 L674.93,339.5 L677.15,339.5 L679.38,339.5 L681.6,339.5 L683.82,339.5 L686.05,339.5 L688.27,339.5 L690.5,339.5 L692.73,339.5 L694.95,339.5 L697.18,339.5 L699.4,339.5 L701.62,339.5 L703.85,339.5 L706.07,339.5 L708.3,339.5 L710.52,339.5 L712.75,339.5 L714.98,339.5 L717.2,339.5 L719.42,339.5 L721.65,339.5 L723.88,339.5 L726.1,339.5 L728.32,339.5 L730.55,339.5 L732.77,339.5 L735,339.5 L737.23,339.5 L739.45,339.5 L741.67,339.5 L743.9,339.5 L746.12,339.5 L748.35,339.5 L750.58,339.5 L752.8,339.5 L755.02,339.5 L757.25,339.5 L759.48,339.5 L761.7,339.5 L763.92,339.5 L766.15,339.5 L768.38,339.5 L770.6,339.5 L772.83,339.5 L775.05,339.5 L777.27,339.5 L779.5,339.5 L781.73,339.5 L783.95,339.5 L786.17,339.5 L788.4,339.5 L790.62,339.5 L792.85,339.5 L795.08,339.5 L797.3,339.5 L799.52,339.5 L801.75,339.5 L803.98,339.5 L806.2,339.5 L808.42,339.5 L810.65,339.5 L812.88,339.5 L815.1,339.5 L817.33,339.5 L819.55,339.5 L821.77,339.5 L824,339.5 L826.23,339.5 L828.45,339.5 L830.67,339.5 L832.9,339.5 L835.12,339.5 L837.35,339.5 L839.58,339.5 L841.8,339.5 L844.02,339.5 L846.25,339.5 L848.48,339.5 L850.7,339.5 L852.92,339.5 L855.15,339.5 L857.38,339.5 L859.6,339.5 L861.83,339.5 L864.05,339.5 L866.27,339.5 L868.5,339.5 L870.73,339.5 L872.95,339.5 L875.17,339.5 L877.4,339.5 L879.62,339.5 L881.85,339.5 L884.08,339.5 L886.3,339.5 L888.52,339.5 L890.75,339.5 L892.98,339.5 L895.2,339.5 L897.42,339.5 L899.65,339.5 L901.88,339.5 L904.1,339.5 L906.33,339.5 L908.55,339.5 L910.77,339.5 L913,339.5 L915.23,339.5 L917.45,339.5 L919.67,339.5 L921.9,339.5 L924.12,339.5 L926.35,339.5 L928.58,339.5 L930.8,339.5 L933.02,339.5 L935.25,339.5 L937.48,339.5 L939.7,339.5 L941.92,339.5 L944.15,339.5 L946.38,339.5 L948.6,339.5 L950.83,339.5 L953.05,339.5 L955.27,339.5 L957.5,339.5 L959.73,339.5 L961.95,339.5 L964.17,339.5 L966.4,339.5 L968.63,339.5 L970.85,339.5 L973.08,339.5 L975.3,339.5 L977.52,339.5 L979.75,339.5 L981.98,339.5 L984.2,339.5 L986.42,339.5 L988.65,339.5 L990.88,339.5 L993.1,339.5 L995.33,339.5 L997.55,339.5 L999.77,339.5 L1002,339.5 L1004.23,339.5 L1006.45,339.5 L1008.67,339.5 L1010.9,339.5 L1013.12,339.5 L1015.35,339.5 L1017.58,339.5 L1019.8,339.5 L1022.02,339.5 L1024.25,339.5 L1026.47,339.5 L1028.7,339.5 L1030.92,339.5 L1033.15,339.5 L1035.38,339.5 L1037.6,339.5 L1039.83,339.5 L1042.05,339.5 L1044.28,339.5 L1046.5,339.5 L1048.72,339.5 L1050.95,339.5 L1053.17,339.5 L1055.4,339.5 L1057.62,339.5 L1059.85,339.5 L1062.08,339.5 L1064.3,339.5 L1066.53,339.5 L1068.75,339.5 L1070.97,339.5 L1073.2,339.5 L1075.42,339.5 L1077.65,339.5 L1079.88,339.5 L1082.1,339.5 L1084.33,339.5 L1086.55,339.5 L1088.77,339.5 L1091,339.5 L1093.23,339.5 L1095.45,339.5 L1097.67,339.5 L1099.9,339.5 L1102.12,339.5 L1104.35,339.5 L1106.58,339.5 L1108.8,339.5 L1111.02,339.5 L1113.25,339.5 L1115.48,339.5 L1117.7,339.5 L1119.92,339.5 L1122.15,339.5 L1124.38,339.5 L1126.6,339.5 L1128.83,339.5 L1131.05,339.5 L1133.27,339.5 L1135.5,339.5 L1137.73,339.5 L1139.95,339.5 L1142.17,339.5 L1144.4,339.5 L1146.62,339.5 L1148.85,339.5 L1151.08,339.5 L1153.3,339.5 L1155.53,339.5 L1157.75,339.5 L1159.97,339.5 L1162.2,339.5 L1164.42,339.5 L1166.65,339.5 L1168.88,339.5 L1171.1,339.5 L1173.33,339.5 L1175.55,339.5 L1177.78,339.5 L1180,339.5 L1180,340 Z" fill="#8aadb8" stroke="#add8e6" stroke-width="6.4" stroke-linejoin="round" clip-path="url(#cp0)"/>
<rect x="67" y="19.3" width="43" height="1.3" fill="#ff00ff"/>
<rect x="110" y="19.3" width="225" height="1.3" fill="#0080ff"/>
<rect x="335" y="19.3" width="220" height="1.3" fill="#00ff00"/>
<rect x="555" y="19.3" width="625" height="1.3" fill="#ffff00"/>
<rect x="70.2" y="338.4" width="624.8" height="1.6" fill="#add8e6"/>
<rect x="695" y="338.4" width="223" height="1.6" fill="#ff0000"/>
<rect x="918" y="338.4" width="222" height="1.6" fill="#ff8000"/>
<rect x="1140" y="338.4" width="36.8" height="1.6" fill="#ff00ff"/>
<path d="M47.6,0 L47.6,359 L1200,359" fill="none" stroke="#000" stroke-width="2" stroke-linejoin="round"/>
<line x1="36.1" y1="339.5" x2="47.6" y2="339.5" stroke="#000" stroke-width="2" stroke-linecap="round"/>
<g transform="translate(22.5,339.5) rotate(-90)"><text x="-8.62" y="0" font-size="31.0">0</text></g>
<line x1="36.1" y1="275.46" x2="47.6" y2="275.46" stroke="#000" stroke-width="2" stroke-linecap="round"/>
<g transform="translate(22.5,275.46) rotate(-90)"><text x="-12.93" y="0" font-size="31.0">.2</text></g>
<line x1="36.1" y1="211.42" x2="47.6" y2="211.42" stroke="#000" stroke-width="2" stroke-linecap="round"/>
<g transform="translate(22.5,211.42) rotate(-90)"><text x="-12.93" y="0" font-size="31.0">.4</text></g>
<line x1="36.1" y1="147.38" x2="47.6" y2="147.38" stroke="#000" stroke-width="2" stroke-linecap="round"/>
<g transform="translate(22.5,147.38) rotate(-90)"><text x="-12.93" y="0" font-size="31.0">.6</text></g>
<line x1="36.1" y1="83.34" x2="47.6" y2="83.34" stroke="#000" stroke-width="2" stroke-linecap="round"/>
<g transform="translate(22.5,83.34) rotate(-90)"><text x="-12.93" y="0" font-size="31.0">.8</text></g>
<line x1="36.1" y1="19.3" x2="47.6" y2="19.3" stroke="#000" stroke-width="2" stroke-linecap="round"/>
<g transform="translate(22.5,19.3) rotate(-90)"><path d="M-0.5,0 L2.51,0 L2.51,-21.79 L0.06,-21.79 C-0.5,-19.53 -1.55,-18.29 -5.49,-18.07 L-5.49,-15.96 L-0.5,-15.96 Z" fill="#000"/></g>
<line x1="67.5" y1="359" x2="67.5" y2="370" stroke="#000" stroke-width="2" stroke-linecap="round"/>
<text x="45.1" y="402" font-size="31.0">-</text><path d="M63.55,402 L66.55,402 L66.55,380.21 L64.11,380.21 C63.55,382.47 62.49,383.71 58.56,383.93 L58.56,386.04 L63.55,386.04 Z" fill="#000"/><text x="72.66" y="402" font-size="31.0">0</text>
<line x1="112" y1="359" x2="112" y2="364" stroke="#000" stroke-width="2" stroke-linecap="round"/>
<line x1="156.5" y1="359" x2="156.5" y2="364" stroke="#000" stroke-width="2" stroke-linecap="round"/>
<line x1="201" y1="359" x2="201" y2="364" stroke="#000" stroke-width="2" stroke-linecap="round"/>
<line x1="245.5" y1="359" x2="245.5" y2="364" stroke="#000" stroke-width="2" stroke-linecap="round"/>
<line x1="290" y1="359" x2="290" y2="370" stroke="#000" stroke-width="2" stroke-linecap="round"/>
<text x="276.22" y="402" font-size="31.0">-5</text>
<line x1="334.5" y1="359" x2="334.5" y2="364" stroke="#000" stroke-width="2" stroke-linecap="round"/>
<line x1="379" y1="359" x2="379" y2="364" stroke="#000" stroke-width="2" stroke-linecap="round"/>
<line x1="423.5" y1="359" x2="423.5" y2="364" stroke="#000" stroke-width="2" stroke-linecap="round"/>
<line x1="468" y1="359" x2="468" y2="364" stroke="#000" stroke-width="2" stroke-linecap="round"/>
<line x1="512.5" y1="359" x2="512.5" y2="370" stroke="#000" stroke-width="2" stroke-linecap="round"/>
<text x="503.88" y="402" font-size="31.0">0</text>
<line x1="557" y1="359" x2="557" y2="364" stroke="#000" stroke-width="2" stroke-linecap="round"/>
<line x1="601.5" y1="359" x2="601.5" y2="364" stroke="#000" stroke-width="2" stroke-linecap="round"/>
<line x1="646" y1="359" x2="646" y2="364" stroke="#000" stroke-width="2" stroke-linecap="round"/>
<line x1="690.5" y1="359" x2="690.5" y2="364" stroke="#000" stroke-width="2" stroke-linecap="round"/>
<line x1="735" y1="359" x2="735" y2="370" stroke="#000" stroke-width="2" stroke-linecap="round"/>
<text x="726.38" y="402" font-size="31.0">5</text>
<line x1="779.5" y1="359" x2="779.5" y2="364" stroke="#000" stroke-width="2" stroke-linecap="round"/>
<line x1="824" y1="359" x2="824" y2="364" stroke="#000" stroke-width="2" stroke-linecap="round"/>
<line x1="868.5" y1="359" x2="868.5" y2="364" stroke="#000" stroke-width="2" stroke-linecap="round"/>
<line x1="913" y1="359" x2="913" y2="364" stroke="#000" stroke-width="2" stroke-linecap="round"/>
<line x1="957.5" y1="359" x2="957.5" y2="370" stroke="#000" stroke-width="2" stroke-linecap="round"/>
<path d="M948.39,402 L951.39,402 L951.39,380.21 L948.94,380.21 C948.39,382.47 947.33,383.71 943.39,383.93 L943.39,386.04 L948.39,386.04 Z" fill="#000"/><text x="957.5" y="402" font-size="31.0">0</text>
<line x1="1002" y1="359" x2="1002" y2="364" stroke="#000" stroke-width="2" stroke-linecap="round"/>
<line x1="1046.5" y1="359" x2="1046.5" y2="364" stroke="#000" stroke-width="2" stroke-linecap="round"/>
<line x1="1091" y1="359" x2="1091" y2="364" stroke="#000" stroke-width="2" stroke-linecap="round"/>
<line x1="1135.5" y1="359" x2="1135.5" y2="364" stroke="#000" stroke-width="2" stroke-linecap="round"/>
<line x1="1180" y1="359" x2="1180" y2="370" stroke="#000" stroke-width="2" stroke-linecap="round"/>
<path d="M1170.89,402 L1173.89,402 L1173.89,380.21 L1171.44,380.21 C1170.89,382.47 1169.83,383.71 1165.89,383.93 L1165.89,386.04 L1170.89,386.04 Z" fill="#000"/><text x="1180" y="402" font-size="31.0">5</text>
<text x="623.75" y="435.7" text-anchor="middle" font-size="31.0">change score c</text>
<rect x="59" y="461" width="1129.5" height="99" fill="#fff" stroke="#000" stroke-width="2"/>
<rect x="72.8" y="474.5" width="83.4" height="25.2" fill="#cccc00" stroke="#ffff00" stroke-width="3"/>
<text x="182" y="498.4" font-size="28.0">much better</text>
<rect x="384.5" y="474.5" width="83.4" height="25.2" fill="#00cc00" stroke="#00ff00" stroke-width="3"/>
<text x="494" y="498.4" font-size="28.0">better</text>
<rect x="626.5" y="474.5" width="83.4" height="25.2" fill="#0066cc" stroke="#0080ff" stroke-width="3"/>
<text x="735" y="498.4" font-size="28.0">little better</text>
<rect x="940.5" y="474.5" width="83.4" height="25.2" fill="#cc00cc" stroke="#ff00ff" stroke-width="3"/>
<text x="1049.5" y="498.4" font-size="28.0">no change</text>
<rect x="72.8" y="521.1" width="83.4" height="25.2" fill="#cc6600" stroke="#ff8000" stroke-width="3"/>
<text x="182" y="545" font-size="28.0">little worse</text>
<rect x="384.5" y="521.1" width="83.4" height="25.2" fill="#cc0000" stroke="#ff0000" stroke-width="3"/>
<text x="494" y="545" font-size="28.0">worse</text>
<rect x="626.5" y="521.1" width="83.4" height="25.2" fill="#8aadb8" stroke="#add8e6" stroke-width="3"/>
<text x="735" y="545" font-size="28.0">much worse</text>
<line x1="84.3" y1="1016.8" x2="1200" y2="1016.8" stroke="#e8f0f2" stroke-width="2.4"/>
<line x1="84.3" y1="926.2" x2="1200" y2="926.2" stroke="#e8f0f2" stroke-width="2.4"/>
<line x1="84.3" y1="835.6" x2="1200" y2="835.6" stroke="#e8f0f2" stroke-width="2.4"/>
<line x1="84.3" y1="745" x2="1200" y2="745" stroke="#e8f0f2" stroke-width="2.4"/>
<line x1="84.3" y1="654.4" x2="1200" y2="654.4" stroke="#e8f0f2" stroke-width="2.4"/>
<path d="M103,1016.8 L105.69,1016.8 L108.39,1016.8 L111.08,1016.8 L113.77,1016.8 L116.47,1016.8 L119.16,1016.8 L121.85,1016.8 L124.54,1016.8 L127.24,1016.79 L129.93,1016.79 L132.62,1016.79 L135.32,1016.79 L138.01,1016.79 L140.7,1016.79 L143.4,1016.79 L146.09,1016.79 L148.78,1016.78 L151.47,1016.78 L154.17,1016.78 L156.86,1016.77 L159.55,1016.77 L162.25,1016.77 L164.94,1016.76 L167.63,1016.76 L170.32,1016.75 L173.02,1016.74 L175.71,1016.74 L178.4,1016.73 L181.1,1016.72 L183.79,1016.71 L186.48,1016.69 L189.18,1016.68 L191.87,1016.66 L194.56,1016.64 L197.25,1016.62 L199.95,1016.6 L202.64,1016.58 L205.33,1016.55 L208.03,1016.52 L210.72,1016.48 L213.41,1016.44 L216.11,1016.4 L218.8,1016.35 L221.49,1016.29 L224.19,1016.23 L226.88,1016.17 L229.57,1016.09 L232.26,1016.01 L234.96,1015.92 L237.65,1015.82 L240.34,1015.71 L243.04,1015.58 L245.73,1015.45 L248.42,1015.3 L251.12,1015.14 L253.81,1014.96 L256.5,1014.77 L259.19,1014.55 L261.89,1014.32 L264.58,1014.06 L267.27,1013.78 L269.97,1013.48 L272.66,1013.15 L275.35,1012.78 L278.05,1012.39 L280.74,1011.97 L283.43,1011.5 L286.12,1011 L288.82,1010.46 L291.51,1009.88 L294.2,1009.24 L296.9,1008.56 L299.59,1007.83 L302.28,1007.04 L304.98,1006.18 L307.67,1005.27 L310.36,1004.29 L313.05,1003.24 L315.75,1002.12 L318.44,1000.92 L321.13,999.64 L323.83,998.27 L326.52,996.81 L329.21,995.26 L331.9,993.61 L334.6,991.86 L337.29,990.01 L339.98,988.04 L342.68,985.96 L345.37,983.77 L348.06,981.45 L350.76,979 L353.45,976.43 L356.14,973.72 L358.84,970.87 L361.53,967.88 L364.22,964.75 L366.91,961.48 L369.61,958.05 L372.3,954.48 L374.99,950.75 L377.69,946.87 L380.38,942.83 L383.07,938.63 L385.77,934.28 L388.46,929.77 L391.15,925.1 L393.84,920.28 L396.54,915.3 L399.23,910.17 L401.92,904.89 L404.62,899.46 L407.31,893.89 L410,888.18 L412.69,882.33 L415.39,876.36 L418.08,870.26 L420.77,864.05 L423.47,857.74 L426.16,851.32 L428.85,844.81 L431.55,838.22 L434.24,831.56 L436.93,824.84 L439.62,818.07 L442.32,811.26 L445.01,804.42 L447.7,797.57 L450.4,790.73 L453.09,783.89 L455.78,777.08 L458.48,770.32 L461.17,763.61 L463.86,756.97 L466.56,750.42 L469.25,743.97 L471.94,737.64 L474.63,731.43 L477.33,725.38 L480.02,719.49 L482.71,713.77 L485.41,708.25 L488.1,702.93 L490.79,697.83 L493.49,692.96 L496.18,688.35 L498.87,683.99 L501.56,679.9 L504.26,676.09 L506.95,672.58 L509.64,669.37 L512.34,666.48 L515.03,663.9 L517.72,661.66 L520.41,659.74 L523.11,658.17 L525.8,656.94 L528.49,656.06 L531.19,655.53 L533.88,655.36 L536.57,655.53 L539.27,656.06 L541.96,656.94 L544.65,658.17 L547.35,659.74 L550.04,661.66 L552.73,663.9 L555.42,666.48 L558.12,669.37 L560.81,672.58 L563.5,676.09 L566.2,679.9 L568.89,683.99 L571.58,688.35 L574.28,692.96 L576.97,697.83 L579.66,702.93 L582.35,708.25 L585.05,713.77 L587.74,719.49 L590.43,725.38 L593.13,731.43 L595.82,737.64 L598.51,743.97 L601.21,750.42 L603.9,756.97 L606.59,763.61 L609.28,770.32 L611.98,777.08 L614.67,783.89 L617.36,790.73 L620.06,797.57 L622.75,804.42 L625.44,811.26 L628.13,818.07 L630.83,824.84 L633.52,831.56 L636.21,838.22 L638.91,844.81 L641.6,851.32 L644.29,857.74 L646.99,864.05 L649.68,870.26 L652.37,876.36 L655.06,882.33 L657.76,888.18 L660.45,893.89 L663.14,899.46 L665.84,904.89 L668.53,910.17 L671.22,915.3 L673.92,920.28 L676.61,925.1 L679.3,929.77 L682,934.28 L684.69,938.63 L687.38,942.83 L690.07,946.87 L692.77,950.75 L695.46,954.48 L698.15,958.05 L700.85,961.48 L703.54,964.75 L706.23,967.88 L708.93,970.87 L711.62,973.72 L714.31,976.43 L717,979 L719.7,981.45 L722.39,983.77 L725.08,985.96 L727.78,988.04 L730.47,990.01 L733.16,991.86 L735.86,993.61 L738.55,995.26 L741.24,996.81 L743.93,998.27 L746.63,999.64 L749.32,1000.92 L752.01,1002.12 L754.71,1003.24 L757.4,1004.29 L760.09,1005.27 L762.79,1006.18 L765.48,1007.04 L768.17,1007.83 L770.86,1008.56 L773.56,1009.24 L776.25,1009.88 L778.94,1010.46 L781.64,1011 L784.33,1011.5 L787.02,1011.97 L789.72,1012.39 L792.41,1012.78 L795.1,1013.15 L797.79,1013.48 L800.49,1013.78 L803.18,1014.06 L805.87,1014.32 L808.57,1014.55 L811.26,1014.77 L813.95,1014.96 L816.64,1015.14 L819.34,1015.3 L822.03,1015.45 L824.72,1015.58 L827.42,1015.71 L830.11,1015.82 L832.8,1015.92 L835.5,1016.01 L838.19,1016.09 L840.88,1016.17 L843.58,1016.23 L846.27,1016.29 L848.96,1016.35 L851.65,1016.4 L854.35,1016.44 L857.04,1016.48 L859.73,1016.52 L862.43,1016.55 L865.12,1016.58 L867.81,1016.6 L870.51,1016.62 L873.2,1016.64 L875.89,1016.66 L878.58,1016.68 L881.28,1016.69 L883.97,1016.71 L886.66,1016.72 L889.36,1016.73 L892.05,1016.74 L894.74,1016.74 L897.44,1016.75 L900.13,1016.76 L902.82,1016.76 L905.51,1016.77 L908.21,1016.77 L910.9,1016.77 L913.59,1016.78 L916.29,1016.78 L918.98,1016.78 L921.67,1016.79 L924.37,1016.79 L927.06,1016.79 L929.75,1016.79 L932.44,1016.79 L935.14,1016.79 L937.83,1016.79 L940.52,1016.79 L943.22,1016.8 L945.91,1016.8 L948.6,1016.8 L951.29,1016.8 L953.99,1016.8 L956.68,1016.8 L959.37,1016.8 L962.07,1016.8 L964.76,1016.8 L967.45,1016.8 L970.15,1016.8 L972.84,1016.8 L975.53,1016.8 L978.23,1016.8 L980.92,1016.8 L983.61,1016.8 L986.3,1016.8 L989,1016.8 L991.69,1016.8 L994.38,1016.8 L997.08,1016.8 L999.77,1016.8 L1002.46,1016.8 L1005.16,1016.8 L1007.85,1016.8 L1010.54,1016.8 L1013.23,1016.8 L1015.93,1016.8 L1018.62,1016.8 L1021.31,1016.8 L1024.01,1016.8 L1026.7,1016.8 L1029.39,1016.8 L1032.09,1016.8 L1034.78,1016.8 L1037.47,1016.8 L1040.16,1016.8 L1042.86,1016.8 L1045.55,1016.8 L1048.24,1016.8 L1050.94,1016.8 L1053.63,1016.8 L1056.32,1016.8 L1059.01,1016.8 L1061.71,1016.8 L1064.4,1016.8 L1067.09,1016.8 L1069.79,1016.8 L1072.48,1016.8 L1075.17,1016.8 L1077.87,1016.8 L1080.56,1016.8 L1083.25,1016.8 L1085.95,1016.8 L1088.64,1016.8 L1091.33,1016.8 L1094.02,1016.8 L1096.72,1016.8 L1099.41,1016.8 L1102.1,1016.8 L1104.8,1016.8 L1107.49,1016.8 L1110.18,1016.8 L1112.88,1016.8 L1115.57,1016.8 L1118.26,1016.8 L1120.95,1016.8 L1123.65,1016.8 L1126.34,1016.8 L1129.03,1016.8 L1131.73,1016.8 L1134.42,1016.8 L1137.11,1016.8 L1139.81,1016.8 L1142.5,1016.8 L1145.19,1016.8 L1147.88,1016.8 L1150.58,1016.8 L1153.27,1016.8 L1155.96,1016.8 L1158.66,1016.8 L1161.35,1016.8 L1164.04,1016.8 L1166.74,1016.8 L1169.43,1016.8 L1172.12,1016.8 L1174.81,1016.8 L1177.51,1016.8 L1180.2,1016.8" fill="none" stroke="#1a476f" stroke-width="5" stroke-linejoin="round"/>
<path d="M103,1016.8 L105.69,1016.8 L108.39,1016.8 L111.08,1016.8 L113.77,1016.8 L116.47,1016.8 L119.16,1016.8 L121.85,1016.8 L124.54,1016.8 L127.24,1016.8 L129.93,1016.8 L132.62,1016.8 L135.32,1016.8 L138.01,1016.8 L140.7,1016.8 L143.4,1016.8 L146.09,1016.8 L148.78,1016.8 L151.47,1016.8 L154.17,1016.8 L156.86,1016.8 L159.55,1016.8 L162.25,1016.8 L164.94,1016.8 L167.63,1016.8 L170.32,1016.8 L173.02,1016.8 L175.71,1016.8 L178.4,1016.8 L181.1,1016.8 L183.79,1016.8 L186.48,1016.8 L189.18,1016.8 L191.87,1016.8 L194.56,1016.8 L197.25,1016.8 L199.95,1016.8 L202.64,1016.8 L205.33,1016.8 L208.03,1016.8 L210.72,1016.8 L213.41,1016.79 L216.11,1016.79 L218.8,1016.79 L221.49,1016.79 L224.19,1016.79 L226.88,1016.79 L229.57,1016.79 L232.26,1016.79 L234.96,1016.78 L237.65,1016.78 L240.34,1016.78 L243.04,1016.77 L245.73,1016.77 L248.42,1016.77 L251.12,1016.76 L253.81,1016.76 L256.5,1016.75 L259.19,1016.74 L261.89,1016.74 L264.58,1016.73 L267.27,1016.72 L269.97,1016.71 L272.66,1016.69 L275.35,1016.68 L278.05,1016.66 L280.74,1016.64 L283.43,1016.62 L286.12,1016.6 L288.82,1016.58 L291.51,1016.55 L294.2,1016.52 L296.9,1016.48 L299.59,1016.44 L302.28,1016.4 L304.98,1016.35 L307.67,1016.29 L310.36,1016.23 L313.05,1016.17 L315.75,1016.09 L318.44,1016.01 L321.13,1015.92 L323.83,1015.82 L326.52,1015.71 L329.21,1015.58 L331.9,1015.45 L334.6,1015.3 L337.29,1015.14 L339.98,1014.96 L342.68,1014.77 L345.37,1014.55 L348.06,1014.32 L350.76,1014.06 L353.45,1013.78 L356.14,1013.48 L358.84,1013.15 L361.53,1012.78 L364.22,1012.39 L366.91,1011.97 L369.61,1011.5 L372.3,1011 L374.99,1010.46 L377.69,1009.88 L380.38,1009.24 L383.07,1008.56 L385.77,1007.83 L388.46,1007.04 L391.15,1006.18 L393.84,1005.27 L396.54,1004.29 L399.23,1003.24 L401.92,1002.12 L404.62,1000.92 L407.31,999.64 L410,998.27 L412.69,996.81 L415.39,995.26 L418.08,993.61 L420.77,991.86 L423.47,990.01 L426.16,988.04 L428.85,985.96 L431.55,983.77 L434.24,981.45 L436.93,979 L439.62,976.43 L442.32,973.72 L445.01,970.87 L447.7,967.88 L450.4,964.75 L453.09,961.48 L455.78,958.05 L458.48,954.48 L461.17,950.75 L463.86,946.87 L466.56,942.83 L469.25,938.63 L471.94,934.28 L474.63,929.77 L477.33,925.1 L480.02,920.28 L482.71,915.3 L485.41,910.17 L488.1,904.89 L490.79,899.46 L493.49,893.89 L496.18,888.18 L498.87,882.33 L501.56,876.36 L504.26,870.26 L506.95,864.05 L509.64,857.74 L512.34,851.32 L515.03,844.81 L517.72,838.22 L520.41,831.56 L523.11,824.84 L525.8,818.07 L528.49,811.26 L531.19,804.42 L533.88,797.57 L536.57,790.73 L539.27,783.89 L541.96,777.08 L544.65,770.32 L547.35,763.61 L550.04,756.97 L552.73,750.42 L555.42,743.97 L558.12,737.64 L560.81,731.43 L563.5,725.38 L566.2,719.49 L568.89,713.77 L571.58,708.25 L574.28,702.93 L576.97,697.83 L579.66,692.96 L582.35,688.35 L585.05,683.99 L587.74,679.9 L590.43,676.09 L593.13,672.58 L595.82,669.37 L598.51,666.48 L601.21,663.9 L603.9,661.66 L606.59,659.74 L609.28,658.17 L611.98,656.94 L614.67,656.06 L617.36,655.53 L620.06,655.36 L622.75,655.53 L625.44,656.06 L628.13,656.94 L630.83,658.17 L633.52,659.74 L636.21,661.66 L638.91,663.9 L641.6,666.48 L644.29,669.37 L646.99,672.58 L649.68,676.09 L652.37,679.9 L655.06,683.99 L657.76,688.35 L660.45,692.96 L663.14,697.83 L665.84,702.93 L668.53,708.25 L671.22,713.77 L673.92,719.49 L676.61,725.38 L679.3,731.43 L682,737.64 L684.69,743.97 L687.38,750.42 L690.07,756.97 L692.77,763.61 L695.46,770.32 L698.15,777.08 L700.85,783.89 L703.54,790.73 L706.23,797.57 L708.93,804.42 L711.62,811.26 L714.31,818.07 L717,824.84 L719.7,831.56 L722.39,838.22 L725.08,844.81 L727.78,851.32 L730.47,857.74 L733.16,864.05 L735.86,870.26 L738.55,876.36 L741.24,882.33 L743.93,888.18 L746.63,893.89 L749.32,899.46 L752.01,904.89 L754.71,910.17 L757.4,915.3 L760.09,920.28 L762.79,925.1 L765.48,929.77 L768.17,934.28 L770.86,938.63 L773.56,942.83 L776.25,946.87 L778.94,950.75 L781.64,954.48 L784.33,958.05 L787.02,961.48 L789.72,964.75 L792.41,967.88 L795.1,970.87 L797.79,973.72 L800.49,976.43 L803.18,979 L805.87,981.45 L808.57,983.77 L811.26,985.96 L813.95,988.04 L816.64,990.01 L819.34,991.86 L822.03,993.61 L824.72,995.26 L827.42,996.81 L830.11,998.27 L832.8,999.64 L835.5,1000.92 L838.19,1002.12 L840.88,1003.24 L843.58,1004.29 L846.27,1005.27 L848.96,1006.18 L851.65,1007.04 L854.35,1007.83 L857.04,1008.56 L859.73,1009.24 L862.43,1009.88 L865.12,1010.46 L867.81,1011 L870.51,1011.5 L873.2,1011.97 L875.89,1012.39 L878.58,1012.78 L881.28,1013.15 L883.97,1013.48 L886.66,1013.78 L889.36,1014.06 L892.05,1014.32 L894.74,1014.55 L897.44,1014.77 L900.13,1014.96 L902.82,1015.14 L905.51,1015.3 L908.21,1015.45 L910.9,1015.58 L913.59,1015.71 L916.29,1015.82 L918.98,1015.92 L921.67,1016.01 L924.37,1016.09 L927.06,1016.17 L929.75,1016.23 L932.44,1016.29 L935.14,1016.35 L937.83,1016.4 L940.52,1016.44 L943.22,1016.48 L945.91,1016.52 L948.6,1016.55 L951.29,1016.58 L953.99,1016.6 L956.68,1016.62 L959.37,1016.64 L962.07,1016.66 L964.76,1016.68 L967.45,1016.69 L970.15,1016.71 L972.84,1016.72 L975.53,1016.73 L978.23,1016.74 L980.92,1016.74 L983.61,1016.75 L986.3,1016.76 L989,1016.76 L991.69,1016.77 L994.38,1016.77 L997.08,1016.77 L999.77,1016.78 L1002.46,1016.78 L1005.16,1016.78 L1007.85,1016.79 L1010.54,1016.79 L1013.23,1016.79 L1015.93,1016.79 L1018.62,1016.79 L1021.31,1016.79 L1024.01,1016.79 L1026.7,1016.79 L1029.39,1016.8 L1032.09,1016.8 L1034.78,1016.8 L1037.47,1016.8 L1040.16,1016.8 L1042.86,1016.8 L1045.55,1016.8 L1048.24,1016.8 L1050.94,1016.8 L1053.63,1016.8 L1056.32,1016.8 L1059.01,1016.8 L1061.71,1016.8 L1064.4,1016.8 L1067.09,1016.8 L1069.79,1016.8 L1072.48,1016.8 L1075.17,1016.8 L1077.87,1016.8 L1080.56,1016.8 L1083.25,1016.8 L1085.95,1016.8 L1088.64,1016.8 L1091.33,1016.8 L1094.02,1016.8 L1096.72,1016.8 L1099.41,1016.8 L1102.1,1016.8 L1104.8,1016.8 L1107.49,1016.8 L1110.18,1016.8 L1112.88,1016.8 L1115.57,1016.8 L1118.26,1016.8 L1120.95,1016.8 L1123.65,1016.8 L1126.34,1016.8 L1129.03,1016.8 L1131.73,1016.8 L1134.42,1016.8 L1137.11,1016.8 L1139.81,1016.8 L1142.5,1016.8 L1145.19,1016.8 L1147.88,1016.8 L1150.58,1016.8 L1153.27,1016.8 L1155.96,1016.8 L1158.66,1016.8 L1161.35,1016.8 L1164.04,1016.8 L1166.74,1016.8 L1169.43,1016.8 L1172.12,1016.8 L1174.81,1016.8 L1177.51,1016.8 L1180.2,1016.8" fill="none" stroke="#1a476f" stroke-width="5" stroke-linejoin="round"/>
<path d="M103,1016.8 L105.69,1016.8 L108.39,1016.8 L111.08,1016.8 L113.77,1016.8 L116.47,1016.8 L119.16,1016.8 L121.85,1016.8 L124.54,1016.8 L127.24,1016.8 L129.93,1016.8 L132.62,1016.8 L135.32,1016.8 L138.01,1016.8 L140.7,1016.8 L143.4,1016.8 L146.09,1016.8 L148.78,1016.8 L151.47,1016.8 L154.17,1016.8 L156.86,1016.8 L159.55,1016.8 L162.25,1016.8 L164.94,1016.8 L167.63,1016.8 L170.32,1016.8 L173.02,1016.8 L175.71,1016.8 L178.4,1016.8 L181.1,1016.8 L183.79,1016.8 L186.48,1016.8 L189.18,1016.8 L191.87,1016.8 L194.56,1016.8 L197.25,1016.8 L199.95,1016.8 L202.64,1016.8 L205.33,1016.8 L208.03,1016.8 L210.72,1016.8 L213.41,1016.8 L216.11,1016.8 L218.8,1016.8 L221.49,1016.8 L224.19,1016.8 L226.88,1016.8 L229.57,1016.8 L232.26,1016.8 L234.96,1016.8 L237.65,1016.8 L240.34,1016.8 L243.04,1016.8 L245.73,1016.8 L248.42,1016.8 L251.12,1016.8 L253.81,1016.8 L256.5,1016.8 L259.19,1016.8 L261.89,1016.8 L264.58,1016.8 L267.27,1016.8 L269.97,1016.8 L272.66,1016.8 L275.35,1016.8 L278.05,1016.8 L280.74,1016.8 L283.43,1016.8 L286.12,1016.8 L288.82,1016.8 L291.51,1016.8 L294.2,1016.8 L296.9,1016.8 L299.59,1016.79 L302.28,1016.79 L304.98,1016.79 L307.67,1016.79 L310.36,1016.79 L313.05,1016.79 L315.75,1016.79 L318.44,1016.79 L321.13,1016.78 L323.83,1016.78 L326.52,1016.78 L329.21,1016.77 L331.9,1016.77 L334.6,1016.77 L337.29,1016.76 L339.98,1016.76 L342.68,1016.75 L345.37,1016.74 L348.06,1016.74 L350.76,1016.73 L353.45,1016.72 L356.14,1016.71 L358.84,1016.69 L361.53,1016.68 L364.22,1016.66 L366.91,1016.64 L369.61,1016.62 L372.3,1016.6 L374.99,1016.58 L377.69,1016.55 L380.38,1016.52 L383.07,1016.48 L385.77,1016.44 L388.46,1016.4 L391.15,1016.35 L393.84,1016.29 L396.54,1016.23 L399.23,1016.17 L401.92,1016.09 L404.62,1016.01 L407.31,1015.92 L410,1015.82 L412.69,1015.71 L415.39,1015.58 L418.08,1015.45 L420.77,1015.3 L423.47,1015.14 L426.16,1014.96 L428.85,1014.77 L431.55,1014.55 L434.24,1014.32 L436.93,1014.06 L439.62,1013.78 L442.32,1013.48 L445.01,1013.15 L447.7,1012.78 L450.4,1012.39 L453.09,1011.97 L455.78,1011.5 L458.48,1011 L461.17,1010.46 L463.86,1009.88 L466.56,1009.24 L469.25,1008.56 L471.94,1007.83 L474.63,1007.04 L477.33,1006.18 L480.02,1005.27 L482.71,1004.29 L485.41,1003.24 L488.1,1002.12 L490.79,1000.92 L493.49,999.64 L496.18,998.27 L498.87,996.81 L501.56,995.26 L504.26,993.61 L506.95,991.86 L509.64,990.01 L512.34,988.04 L515.03,985.96 L517.72,983.77 L520.41,981.45 L523.11,979 L525.8,976.43 L528.49,973.72 L531.19,970.87 L533.88,967.88 L536.57,964.75 L539.27,961.48 L541.96,958.05 L544.65,954.48 L547.35,950.75 L550.04,946.87 L552.73,942.83 L555.42,938.63 L558.12,934.28 L560.81,929.77 L563.5,925.1 L566.2,920.28 L568.89,915.3 L571.58,910.17 L574.28,904.89 L576.97,899.46 L579.66,893.89 L582.35,888.18 L585.05,882.33 L587.74,876.36 L590.43,870.26 L593.13,864.05 L595.82,857.74 L598.51,851.32 L601.21,844.81 L603.9,838.22 L606.59,831.56 L609.28,824.84 L611.98,818.07 L614.67,811.26 L617.36,804.42 L620.06,797.57 L622.75,790.73 L625.44,783.89 L628.13,777.08 L630.83,770.32 L633.52,763.61 L636.21,756.97 L638.91,750.42 L641.6,743.97 L644.29,737.64 L646.99,731.43 L649.68,725.38 L652.37,719.49 L655.06,713.77 L657.76,708.25 L660.45,702.93 L663.14,697.83 L665.84,692.96 L668.53,688.35 L671.22,683.99 L673.92,679.9 L676.61,676.09 L679.3,672.58 L682,669.37 L684.69,666.48 L687.38,663.9 L690.07,661.66 L692.77,659.74 L695.46,658.17 L698.15,656.94 L700.85,656.06 L703.54,655.53 L706.23,655.36 L708.93,655.53 L711.62,656.06 L714.31,656.94 L717,658.17 L719.7,659.74 L722.39,661.66 L725.08,663.9 L727.78,666.48 L730.47,669.37 L733.16,672.58 L735.86,676.09 L738.55,679.9 L741.24,683.99 L743.93,688.35 L746.63,692.96 L749.32,697.83 L752.01,702.93 L754.71,708.25 L757.4,713.77 L760.09,719.49 L762.79,725.38 L765.48,731.43 L768.17,737.64 L770.86,743.97 L773.56,750.42 L776.25,756.97 L778.94,763.61 L781.64,770.32 L784.33,777.08 L787.02,783.89 L789.72,790.73 L792.41,797.57 L795.1,804.42 L797.79,811.26 L800.49,818.07 L803.18,824.84 L805.87,831.56 L808.57,838.22 L811.26,844.81 L813.95,851.32 L816.64,857.74 L819.34,864.05 L822.03,870.26 L824.72,876.36 L827.42,882.33 L830.11,888.18 L832.8,893.89 L835.5,899.46 L838.19,904.89 L840.88,910.17 L843.58,915.3 L846.27,920.28 L848.96,925.1 L851.65,929.77 L854.35,934.28 L857.04,938.63 L859.73,942.83 L862.43,946.87 L865.12,950.75 L867.81,954.48 L870.51,958.05 L873.2,961.48 L875.89,964.75 L878.58,967.88 L881.28,970.87 L883.97,973.72 L886.66,976.43 L889.36,979 L892.05,981.45 L894.74,983.77 L897.44,985.96 L900.13,988.04 L902.82,990.01 L905.51,991.86 L908.21,993.61 L910.9,995.26 L913.59,996.81 L916.29,998.27 L918.98,999.64 L921.67,1000.92 L924.37,1002.12 L927.06,1003.24 L929.75,1004.29 L932.44,1005.27 L935.14,1006.18 L937.83,1007.04 L940.52,1007.83 L943.22,1008.56 L945.91,1009.24 L948.6,1009.88 L951.29,1010.46 L953.99,1011 L956.68,1011.5 L959.37,1011.97 L962.07,1012.39 L964.76,1012.78 L967.45,1013.15 L970.15,1013.48 L972.84,1013.78 L975.53,1014.06 L978.23,1014.32 L980.92,1014.55 L983.61,1014.77 L986.3,1014.96 L989,1015.14 L991.69,1015.3 L994.38,1015.45 L997.08,1015.58 L999.77,1015.71 L1002.46,1015.82 L1005.16,1015.92 L1007.85,1016.01 L1010.54,1016.09 L1013.23,1016.17 L1015.93,1016.23 L1018.62,1016.29 L1021.31,1016.35 L1024.01,1016.4 L1026.7,1016.44 L1029.39,1016.48 L1032.09,1016.52 L1034.78,1016.55 L1037.47,1016.58 L1040.16,1016.6 L1042.86,1016.62 L1045.55,1016.64 L1048.24,1016.66 L1050.94,1016.68 L1053.63,1016.69 L1056.32,1016.71 L1059.01,1016.72 L1061.71,1016.73 L1064.4,1016.74 L1067.09,1016.74 L1069.79,1016.75 L1072.48,1016.76 L1075.17,1016.76 L1077.87,1016.77 L1080.56,1016.77 L1083.25,1016.77 L1085.95,1016.78 L1088.64,1016.78 L1091.33,1016.78 L1094.02,1016.79 L1096.72,1016.79 L1099.41,1016.79 L1102.1,1016.79 L1104.8,1016.79 L1107.49,1016.79 L1110.18,1016.79 L1112.88,1016.79 L1115.57,1016.8 L1118.26,1016.8 L1120.95,1016.8 L1123.65,1016.8 L1126.34,1016.8 L1129.03,1016.8 L1131.73,1016.8 L1134.42,1016.8 L1137.11,1016.8 L1139.81,1016.8 L1142.5,1016.8 L1145.19,1016.8 L1147.88,1016.8 L1150.58,1016.8 L1153.27,1016.8 L1155.96,1016.8 L1158.66,1016.8 L1161.35,1016.8 L1164.04,1016.8 L1166.74,1016.8 L1169.43,1016.8 L1172.12,1016.8 L1174.81,1016.8 L1177.51,1016.8 L1180.2,1016.8" fill="none" stroke="#1a476f" stroke-width="5" stroke-linejoin="round"/>
<path d="M103,1016.8 L105.69,1016.8 L108.39,1016.8 L111.08,1016.8 L113.77,1016.8 L116.47,1016.8 L119.16,1016.8 L121.85,1016.8 L124.54,1016.8 L127.24,1016.8 L129.93,1016.8 L132.62,1016.8 L135.32,1016.8 L138.01,1016.8 L140.7,1016.8 L143.4,1016.8 L146.09,1016.8 L148.78,1016.8 L151.47,1016.8 L154.17,1016.8 L156.86,1016.8 L159.55,1016.8 L162.25,1016.8 L164.94,1016.8 L167.63,1016.8 L170.32,1016.8 L173.02,1016.8 L175.71,1016.8 L178.4,1016.8 L181.1,1016.8 L183.79,1016.8 L186.48,1016.8 L189.18,1016.8 L191.87,1016.8 L194.56,1016.8 L197.25,1016.8 L199.95,1016.8 L202.64,1016.8 L205.33,1016.8 L208.03,1016.8 L210.72,1016.8 L213.41,1016.8 L216.11,1016.8 L218.8,1016.8 L221.49,1016.8 L224.19,1016.8 L226.88,1016.8 L229.57,1016.8 L232.26,1016.8 L234.96,1016.8 L237.65,1016.8 L240.34,1016.8 L243.04,1016.8 L245.73,1016.8 L248.42,1016.8 L251.12,1016.8 L253.81,1016.8 L256.5,1016.8 L259.19,1016.8 L261.89,1016.8 L264.58,1016.8 L267.27,1016.8 L269.97,1016.8 L272.66,1016.8 L275.35,1016.8 L278.05,1016.8 L280.74,1016.8 L283.43,1016.8 L286.12,1016.8 L288.82,1016.8 L291.51,1016.8 L294.2,1016.8 L296.9,1016.8 L299.59,1016.8 L302.28,1016.8 L304.98,1016.8 L307.67,1016.8 L310.36,1016.8 L313.05,1016.8 L315.75,1016.8 L318.44,1016.8 L321.13,1016.8 L323.83,1016.8 L326.52,1016.8 L329.21,1016.8 L331.9,1016.8 L334.6,1016.8 L337.29,1016.8 L339.98,1016.8 L342.68,1016.8 L345.37,1016.8 L348.06,1016.8 L350.76,1016.8 L353.45,1016.8 L356.14,1016.8 L358.84,1016.8 L361.53,1016.8 L364.22,1016.8 L366.91,1016.8 L369.61,1016.8 L372.3,1016.8 L374.99,1016.8 L377.69,1016.8 L380.38,1016.8 L383.07,1016.8 L385.77,1016.79 L388.46,1016.79 L391.15,1016.79 L393.84,1016.79 L396.54,1016.79 L399.23,1016.79 L401.92,1016.79 L404.62,1016.79 L407.31,1016.78 L410,1016.78 L412.69,1016.78 L415.39,1016.77 L418.08,1016.77 L420.77,1016.77 L423.47,1016.76 L426.16,1016.76 L428.85,1016.75 L431.55,1016.74 L434.24,1016.74 L436.93,1016.73 L439.62,1016.72 L442.32,1016.71 L445.01,1016.69 L447.7,1016.68 L450.4,1016.66 L453.09,1016.64 L455.78,1016.62 L458.48,1016.6 L461.17,1016.58 L463.86,1016.55 L466.56,1016.52 L469.25,1016.48 L471.94,1016.44 L474.63,1016.4 L477.33,1016.35 L480.02,1016.29 L482.71,1016.23 L485.41,1016.17 L488.1,1016.09 L490.79,1016.01 L493.49,1015.92 L496.18,1015.82 L498.87,1015.71 L501.56,1015.58 L504.26,1015.45 L506.95,1015.3 L509.64,1015.14 L512.34,1014.96 L515.03,1014.77 L517.72,1014.55 L520.41,1014.32 L523.11,1014.06 L525.8,1013.78 L528.49,1013.48 L531.19,1013.15 L533.88,1012.78 L536.57,1012.39 L539.27,1011.97 L541.96,1011.5 L544.65,1011 L547.35,1010.46 L550.04,1009.88 L552.73,1009.24 L555.42,1008.56 L558.12,1007.83 L560.81,1007.04 L563.5,1006.18 L566.2,1005.27 L568.89,1004.29 L571.58,1003.24 L574.28,1002.12 L576.97,1000.92 L579.66,999.64 L582.35,998.27 L585.05,996.81 L587.74,995.26 L590.43,993.61 L593.13,991.86 L595.82,990.01 L598.51,988.04 L601.21,985.96 L603.9,983.77 L606.59,981.45 L609.28,979 L611.98,976.43 L614.67,973.72 L617.36,970.87 L620.06,967.88 L622.75,964.75 L625.44,961.48 L628.13,958.05 L630.83,954.48 L633.52,950.75 L636.21,946.87 L638.91,942.83 L641.6,938.63 L644.29,934.28 L646.99,929.77 L649.68,925.1 L652.37,920.28 L655.06,915.3 L657.76,910.17 L660.45,904.89 L663.14,899.46 L665.84,893.89 L668.53,888.18 L671.22,882.33 L673.92,876.36 L676.61,870.26 L679.3,864.05 L682,857.74 L684.69,851.32 L687.38,844.81 L690.07,838.22 L692.77,831.56 L695.46,824.84 L698.15,818.07 L700.85,811.26 L703.54,804.42 L706.23,797.57 L708.93,790.73 L711.62,783.89 L714.31,777.08 L717,770.32 L719.7,763.61 L722.39,756.97 L725.08,750.42 L727.78,743.97 L730.47,737.64 L733.16,731.43 L735.86,725.38 L738.55,719.49 L741.24,713.77 L743.93,708.25 L746.63,702.93 L749.32,697.83 L752.01,692.96 L754.71,688.35 L757.4,683.99 L760.09,679.9 L762.79,676.09 L765.48,672.58 L768.17,669.37 L770.86,666.48 L773.56,663.9 L776.25,661.66 L778.94,659.74 L781.64,658.17 L784.33,656.94 L787.02,656.06 L789.72,655.53 L792.41,655.36 L795.1,655.53 L797.79,656.06 L800.49,656.94 L803.18,658.17 L805.87,659.74 L808.57,661.66 L811.26,663.9 L813.95,666.48 L816.64,669.37 L819.34,672.58 L822.03,676.09 L824.72,679.9 L827.42,683.99 L830.11,688.35 L832.8,692.96 L835.5,697.83 L838.19,702.93 L840.88,708.25 L843.58,713.77 L846.27,719.49 L848.96,725.38 L851.65,731.43 L854.35,737.64 L857.04,743.97 L859.73,750.42 L862.43,756.97 L865.12,763.61 L867.81,770.32 L870.51,777.08 L873.2,783.89 L875.89,790.73 L878.58,797.57 L881.28,804.42 L883.97,811.26 L886.66,818.07 L889.36,824.84 L892.05,831.56 L894.74,838.22 L897.44,844.81 L900.13,851.32 L902.82,857.74 L905.51,864.05 L908.21,870.26 L910.9,876.36 L913.59,882.33 L916.29,888.18 L918.98,893.89 L921.67,899.46 L924.37,904.89 L927.06,910.17 L929.75,915.3 L932.44,920.28 L935.14,925.1 L937.83,929.77 L940.52,934.28 L943.22,938.63 L945.91,942.83 L948.6,946.87 L951.29,950.75 L953.99,954.48 L956.68,958.05 L959.37,961.48 L962.07,964.75 L964.76,967.88 L967.45,970.87 L970.15,973.72 L972.84,976.43 L975.53,979 L978.23,981.45 L980.92,983.77 L983.61,985.96 L986.3,988.04 L989,990.01 L991.69,991.86 L994.38,993.61 L997.08,995.26 L999.77,996.81 L1002.46,998.27 L1005.16,999.64 L1007.85,1000.92 L1010.54,1002.12 L1013.23,1003.24 L1015.93,1004.29 L1018.62,1005.27 L1021.31,1006.18 L1024.01,1007.04 L1026.7,1007.83 L1029.39,1008.56 L1032.09,1009.24 L1034.78,1009.88 L1037.47,1010.46 L1040.16,1011 L1042.86,1011.5 L1045.55,1011.97 L1048.24,1012.39 L1050.94,1012.78 L1053.63,1013.15 L1056.32,1013.48 L1059.01,1013.78 L1061.71,1014.06 L1064.4,1014.32 L1067.09,1014.55 L1069.79,1014.77 L1072.48,1014.96 L1075.17,1015.14 L1077.87,1015.3 L1080.56,1015.45 L1083.25,1015.58 L1085.95,1015.71 L1088.64,1015.82 L1091.33,1015.92 L1094.02,1016.01 L1096.72,1016.09 L1099.41,1016.17 L1102.1,1016.23 L1104.8,1016.29 L1107.49,1016.35 L1110.18,1016.4 L1112.88,1016.44 L1115.57,1016.48 L1118.26,1016.52 L1120.95,1016.55 L1123.65,1016.58 L1126.34,1016.6 L1129.03,1016.62 L1131.73,1016.64 L1134.42,1016.66 L1137.11,1016.68 L1139.81,1016.69 L1142.5,1016.71 L1145.19,1016.72 L1147.88,1016.73 L1150.58,1016.74 L1153.27,1016.74 L1155.96,1016.75 L1158.66,1016.76 L1161.35,1016.76 L1164.04,1016.77 L1166.74,1016.77 L1169.43,1016.77 L1172.12,1016.78 L1174.81,1016.78 L1177.51,1016.78 L1180.2,1016.79" fill="none" stroke="#1a476f" stroke-width="5" stroke-linejoin="round"/>
<path d="M103,1015.87 L105.69,1015.8 L108.39,1015.73 L111.08,1015.65 L113.77,1015.57 L116.47,1015.49 L119.16,1015.4 L121.85,1015.3 L124.54,1015.2 L127.24,1015.09 L129.93,1014.97 L132.62,1014.85 L135.32,1014.72 L138.01,1014.59 L140.7,1014.44 L143.4,1014.29 L146.09,1014.12 L148.78,1013.95 L151.47,1013.77 L154.17,1013.58 L156.86,1013.37 L159.55,1013.16 L162.25,1012.94 L164.94,1012.7 L167.63,1012.45 L170.32,1012.18 L173.02,1011.91 L175.71,1011.61 L178.4,1011.31 L181.1,1010.98 L183.79,1010.65 L186.48,1010.29 L189.18,1009.92 L191.87,1009.53 L194.56,1009.11 L197.25,1008.68 L199.95,1008.23 L202.64,1007.76 L205.33,1007.27 L208.03,1006.75 L210.72,1006.21 L213.41,1005.65 L216.11,1005.06 L218.8,1004.45 L221.49,1003.81 L224.19,1003.14 L226.88,1002.44 L229.57,1001.72 L232.26,1000.96 L234.96,1000.18 L237.65,999.36 L240.34,998.51 L243.04,997.63 L245.73,996.71 L248.42,995.76 L251.12,994.78 L253.81,993.76 L256.5,992.7 L259.19,991.6 L261.89,990.47 L264.58,989.29 L267.27,988.08 L269.97,986.82 L272.66,985.53 L275.35,984.19 L278.05,982.81 L280.74,981.39 L283.43,979.92 L286.12,978.41 L288.82,976.85 L291.51,975.25 L294.2,973.61 L296.9,971.92 L299.59,970.18 L302.28,968.4 L304.98,966.57 L307.67,964.69 L310.36,962.77 L313.05,960.8 L315.75,958.78 L318.44,956.72 L321.13,954.61 L323.83,952.45 L326.52,950.25 L329.21,948 L331.9,945.71 L334.6,943.37 L337.29,940.99 L339.98,938.57 L342.68,936.11 L345.37,933.6 L348.06,931.05 L350.76,928.46 L353.45,925.84 L356.14,923.17 L358.84,920.47 L361.53,917.74 L364.22,914.97 L366.91,912.17 L369.61,909.34 L372.3,906.48 L374.99,903.59 L377.69,900.68 L380.38,897.75 L383.07,894.79 L385.77,891.82 L388.46,888.83 L391.15,885.82 L393.84,882.8 L396.54,879.77 L399.23,876.74 L401.92,873.69 L404.62,870.65 L407.31,867.61 L410,864.56 L412.69,861.53 L415.39,858.5 L418.08,855.48 L420.77,852.48 L423.47,849.49 L426.16,846.53 L428.85,843.58 L431.55,840.66 L434.24,837.77 L436.93,834.91 L439.62,832.09 L442.32,829.3 L445.01,826.56 L447.7,823.85 L450.4,821.2 L453.09,818.59 L455.78,816.04 L458.48,813.54 L461.17,811.1 L463.86,808.72 L466.56,806.4 L469.25,804.15 L471.94,801.97 L474.63,799.86 L477.33,797.83 L480.02,795.87 L482.71,794 L485.41,792.2 L488.1,790.49 L490.79,788.86 L493.49,787.32 L496.18,785.87 L498.87,784.52 L501.56,783.25 L504.26,782.08 L506.95,781.01 L509.64,780.04 L512.34,779.16 L515.03,778.39 L517.72,777.71 L520.41,777.14 L523.11,776.67 L525.8,776.31 L528.49,776.05 L531.19,775.89 L533.88,775.84 L536.57,775.89 L539.27,776.05 L541.96,776.31 L544.65,776.67 L547.35,777.14 L550.04,777.71 L552.73,778.39 L555.42,779.16 L558.12,780.04 L560.81,781.01 L563.5,782.08 L566.2,783.25 L568.89,784.52 L571.58,785.87 L574.28,787.32 L576.97,788.86 L579.66,790.49 L582.35,792.2 L585.05,794 L587.74,795.87 L590.43,797.83 L593.13,799.86 L595.82,801.97 L598.51,804.15 L601.21,806.4 L603.9,808.72 L606.59,811.1 L609.28,813.54 L611.98,816.04 L614.67,818.59 L617.36,821.2 L620.06,823.85 L622.75,826.56 L625.44,829.3 L628.13,832.09 L630.83,834.91 L633.52,837.77 L636.21,840.66 L638.91,843.58 L641.6,846.53 L644.29,849.49 L646.99,852.48 L649.68,855.48 L652.37,858.5 L655.06,861.53 L657.76,864.56 L660.45,867.61 L663.14,870.65 L665.84,873.69 L668.53,876.74 L671.22,879.77 L673.92,882.8 L676.61,885.82 L679.3,888.83 L682,891.82 L684.69,894.79 L687.38,897.75 L690.07,900.68 L692.77,903.59 L695.46,906.48 L698.15,909.34 L700.85,912.17 L703.54,914.97 L706.23,917.74 L708.93,920.47 L711.62,923.17 L714.31,925.84 L717,928.46 L719.7,931.05 L722.39,933.6 L725.08,936.11 L727.78,938.57 L730.47,940.99 L733.16,943.37 L735.86,945.71 L738.55,948 L741.24,950.25 L743.93,952.45 L746.63,954.61 L749.32,956.72 L752.01,958.78 L754.71,960.8 L757.4,962.77 L760.09,964.69 L762.79,966.57 L765.48,968.4 L768.17,970.18 L770.86,971.92 L773.56,973.61 L776.25,975.25 L778.94,976.85 L781.64,978.41 L784.33,979.92 L787.02,981.39 L789.72,982.81 L792.41,984.19 L795.1,985.53 L797.79,986.82 L800.49,988.08 L803.18,989.29 L805.87,990.47 L808.57,991.6 L811.26,992.7 L813.95,993.76 L816.64,994.78 L819.34,995.76 L822.03,996.71 L824.72,997.63 L827.42,998.51 L830.11,999.36 L832.8,1000.18 L835.5,1000.96 L838.19,1001.72 L840.88,1002.44 L843.58,1003.14 L846.27,1003.81 L848.96,1004.45 L851.65,1005.06 L854.35,1005.65 L857.04,1006.21 L859.73,1006.75 L862.43,1007.27 L865.12,1007.76 L867.81,1008.23 L870.51,1008.68 L873.2,1009.11 L875.89,1009.53 L878.58,1009.92 L881.28,1010.29 L883.97,1010.65 L886.66,1010.98 L889.36,1011.31 L892.05,1011.61 L894.74,1011.91 L897.44,1012.18 L900.13,1012.45 L902.82,1012.7 L905.51,1012.94 L908.21,1013.16 L910.9,1013.37 L913.59,1013.58 L916.29,1013.77 L918.98,1013.95 L921.67,1014.12 L924.37,1014.29 L927.06,1014.44 L929.75,1014.59 L932.44,1014.72 L935.14,1014.85 L937.83,1014.97 L940.52,1015.09 L943.22,1015.2 L945.91,1015.3 L948.6,1015.4 L951.29,1015.49 L953.99,1015.57 L956.68,1015.65 L959.37,1015.73 L962.07,1015.8 L964.76,1015.87 L967.45,1015.93 L970.15,1015.99 L972.84,1016.05 L975.53,1016.1 L978.23,1016.15 L980.92,1016.19 L983.61,1016.23 L986.3,1016.27 L989,1016.31 L991.69,1016.34 L994.38,1016.38 L997.08,1016.41 L999.77,1016.44 L1002.46,1016.46 L1005.16,1016.49 L1007.85,1016.51 L1010.54,1016.53 L1013.23,1016.55 L1015.93,1016.57 L1018.62,1016.59 L1021.31,1016.6 L1024.01,1016.62 L1026.7,1016.63 L1029.39,1016.64 L1032.09,1016.66 L1034.78,1016.67 L1037.47,1016.68 L1040.16,1016.69 L1042.86,1016.7 L1045.55,1016.7 L1048.24,1016.71 L1050.94,1016.72 L1053.63,1016.73 L1056.32,1016.73 L1059.01,1016.74 L1061.71,1016.74 L1064.4,1016.75 L1067.09,1016.75 L1069.79,1016.76 L1072.48,1016.76 L1075.17,1016.76 L1077.87,1016.77 L1080.56,1016.77 L1083.25,1016.77 L1085.95,1016.77 L1088.64,1016.78 L1091.33,1016.78 L1094.02,1016.78 L1096.72,1016.78 L1099.41,1016.78 L1102.1,1016.78 L1104.8,1016.79 L1107.49,1016.79 L1110.18,1016.79 L1112.88,1016.79 L1115.57,1016.79 L1118.26,1016.79 L1120.95,1016.79 L1123.65,1016.79 L1126.34,1016.79 L1129.03,1016.79 L1131.73,1016.79 L1134.42,1016.8 L1137.11,1016.8 L1139.81,1016.8 L1142.5,1016.8 L1145.19,1016.8 L1147.88,1016.8 L1150.58,1016.8 L1153.27,1016.8 L1155.96,1016.8 L1158.66,1016.8 L1161.35,1016.8 L1164.04,1016.8 L1166.74,1016.8 L1169.43,1016.8 L1172.12,1016.8 L1174.81,1016.8 L1177.51,1016.8 L1180.2,1016.8" fill="none" stroke="#55752f" stroke-width="5" stroke-linejoin="round"/>
<path d="M103,1016.72 L105.69,1016.71 L108.39,1016.7 L111.08,1016.7 L113.77,1016.69 L116.47,1016.68 L119.16,1016.67 L121.85,1016.66 L124.54,1016.64 L127.24,1016.63 L129.93,1016.62 L132.62,1016.6 L135.32,1016.59 L138.01,1016.57 L140.7,1016.55 L143.4,1016.53 L146.09,1016.51 L148.78,1016.49 L151.47,1016.46 L154.17,1016.44 L156.86,1016.41 L159.55,1016.38 L162.25,1016.34 L164.94,1016.31 L167.63,1016.27 L170.32,1016.23 L173.02,1016.19 L175.71,1016.15 L178.4,1016.1 L181.1,1016.05 L183.79,1015.99 L186.48,1015.93 L189.18,1015.87 L191.87,1015.8 L194.56,1015.73 L197.25,1015.65 L199.95,1015.57 L202.64,1015.49 L205.33,1015.4 L208.03,1015.3 L210.72,1015.2 L213.41,1015.09 L216.11,1014.97 L218.8,1014.85 L221.49,1014.72 L224.19,1014.59 L226.88,1014.44 L229.57,1014.29 L232.26,1014.12 L234.96,1013.95 L237.65,1013.77 L240.34,1013.58 L243.04,1013.37 L245.73,1013.16 L248.42,1012.94 L251.12,1012.7 L253.81,1012.45 L256.5,1012.18 L259.19,1011.91 L261.89,1011.61 L264.58,1011.31 L267.27,1010.98 L269.97,1010.65 L272.66,1010.29 L275.35,1009.92 L278.05,1009.53 L280.74,1009.11 L283.43,1008.68 L286.12,1008.23 L288.82,1007.76 L291.51,1007.27 L294.2,1006.75 L296.9,1006.21 L299.59,1005.65 L302.28,1005.06 L304.98,1004.45 L307.67,1003.81 L310.36,1003.14 L313.05,1002.44 L315.75,1001.72 L318.44,1000.96 L321.13,1000.18 L323.83,999.36 L326.52,998.51 L329.21,997.63 L331.9,996.71 L334.6,995.76 L337.29,994.78 L339.98,993.76 L342.68,992.7 L345.37,991.6 L348.06,990.47 L350.76,989.29 L353.45,988.08 L356.14,986.82 L358.84,985.53 L361.53,984.19 L364.22,982.81 L366.91,981.39 L369.61,979.92 L372.3,978.41 L374.99,976.85 L377.69,975.25 L380.38,973.61 L383.07,971.92 L385.77,970.18 L388.46,968.4 L391.15,966.57 L393.84,964.69 L396.54,962.77 L399.23,960.8 L401.92,958.78 L404.62,956.72 L407.31,954.61 L410,952.45 L412.69,950.25 L415.39,948 L418.08,945.71 L420.77,943.37 L423.47,940.99 L426.16,938.57 L428.85,936.11 L431.55,933.6 L434.24,931.05 L436.93,928.46 L439.62,925.84 L442.32,923.17 L445.01,920.47 L447.7,917.74 L450.4,914.97 L453.09,912.17 L455.78,909.34 L458.48,906.48 L461.17,903.59 L463.86,900.68 L466.56,897.75 L469.25,894.79 L471.94,891.82 L474.63,888.83 L477.33,885.82 L480.02,882.8 L482.71,879.77 L485.41,876.74 L488.1,873.69 L490.79,870.65 L493.49,867.61 L496.18,864.56 L498.87,861.53 L501.56,858.5 L504.26,855.48 L506.95,852.48 L509.64,849.49 L512.34,846.53 L515.03,843.58 L517.72,840.66 L520.41,837.77 L523.11,834.91 L525.8,832.09 L528.49,829.3 L531.19,826.56 L533.88,823.85 L536.57,821.2 L539.27,818.59 L541.96,816.04 L544.65,813.54 L547.35,811.1 L550.04,808.72 L552.73,806.4 L555.42,804.15 L558.12,801.97 L560.81,799.86 L563.5,797.83 L566.2,795.87 L568.89,794 L571.58,792.2 L574.28,790.49 L576.97,788.86 L579.66,787.32 L582.35,785.87 L585.05,784.52 L587.74,783.25 L590.43,782.08 L593.13,781.01 L595.82,780.04 L598.51,779.16 L601.21,778.39 L603.9,777.71 L606.59,777.14 L609.28,776.67 L611.98,776.31 L614.67,776.05 L617.36,775.89 L620.06,775.84 L622.75,775.89 L625.44,776.05 L628.13,776.31 L630.83,776.67 L633.52,777.14 L636.21,777.71 L638.91,778.39 L641.6,779.16 L644.29,780.04 L646.99,781.01 L649.68,782.08 L652.37,783.25 L655.06,784.52 L657.76,785.87 L660.45,787.32 L663.14,788.86 L665.84,790.49 L668.53,792.2 L671.22,794 L673.92,795.87 L676.61,797.83 L679.3,799.86 L682,801.97 L684.69,804.15 L687.38,806.4 L690.07,808.72 L692.77,811.1 L695.46,813.54 L698.15,816.04 L700.85,818.59 L703.54,821.2 L706.23,823.85 L708.93,826.56 L711.62,829.3 L714.31,832.09 L717,834.91 L719.7,837.77 L722.39,840.66 L725.08,843.58 L727.78,846.53 L730.47,849.49 L733.16,852.48 L735.86,855.48 L738.55,858.5 L741.24,861.53 L743.93,864.56 L746.63,867.61 L749.32,870.65 L752.01,873.69 L754.71,876.74 L757.4,879.77 L760.09,882.8 L762.79,885.82 L765.48,888.83 L768.17,891.82 L770.86,894.79 L773.56,897.75 L776.25,900.68 L778.94,903.59 L781.64,906.48 L784.33,909.34 L787.02,912.17 L789.72,914.97 L792.41,917.74 L795.1,920.47 L797.79,923.17 L800.49,925.84 L803.18,928.46 L805.87,931.05 L808.57,933.6 L811.26,936.11 L813.95,938.57 L816.64,940.99 L819.34,943.37 L822.03,945.71 L824.72,948 L827.42,950.25 L830.11,952.45 L832.8,954.61 L835.5,956.72 L838.19,958.78 L840.88,960.8 L843.58,962.77 L846.27,964.69 L848.96,966.57 L851.65,968.4 L854.35,970.18 L857.04,971.92 L859.73,973.61 L862.43,975.25 L865.12,976.85 L867.81,978.41 L870.51,979.92 L873.2,981.39 L875.89,982.81 L878.58,984.19 L881.28,985.53 L883.97,986.82 L886.66,988.08 L889.36,989.29 L892.05,990.47 L894.74,991.6 L897.44,992.7 L900.13,993.76 L902.82,994.78 L905.51,995.76 L908.21,996.71 L910.9,997.63 L913.59,998.51 L916.29,999.36 L918.98,1000.18 L921.67,1000.96 L924.37,1001.72 L927.06,1002.44 L929.75,1003.14 L932.44,1003.81 L935.14,1004.45 L937.83,1005.06 L940.52,1005.65 L943.22,1006.21 L945.91,1006.75 L948.6,1007.27 L951.29,1007.76 L953.99,1008.23 L956.68,1008.68 L959.37,1009.11 L962.07,1009.53 L964.76,1009.92 L967.45,1010.29 L970.15,1010.65 L972.84,1010.98 L975.53,1011.31 L978.23,1011.61 L980.92,1011.91 L983.61,1012.18 L986.3,1012.45 L989,1012.7 L991.69,1012.94 L994.38,1013.16 L997.08,1013.37 L999.77,1013.58 L1002.46,1013.77 L1005.16,1013.95 L1007.85,1014.12 L1010.54,1014.29 L1013.23,1014.44 L1015.93,1014.59 L1018.62,1014.72 L1021.31,1014.85 L1024.01,1014.97 L1026.7,1015.09 L1029.39,1015.2 L1032.09,1015.3 L1034.78,1015.4 L1037.47,1015.49 L1040.16,1015.57 L1042.86,1015.65 L1045.55,1015.73 L1048.24,1015.8 L1050.94,1015.87 L1053.63,1015.93 L1056.32,1015.99 L1059.01,1016.05 L1061.71,1016.1 L1064.4,1016.15 L1067.09,1016.19 L1069.79,1016.23 L1072.48,1016.27 L1075.17,1016.31 L1077.87,1016.34 L1080.56,1016.38 L1083.25,1016.41 L1085.95,1016.44 L1088.64,1016.46 L1091.33,1016.49 L1094.02,1016.51 L1096.72,1016.53 L1099.41,1016.55 L1102.1,1016.57 L1104.8,1016.59 L1107.49,1016.6 L1110.18,1016.62 L1112.88,1016.63 L1115.57,1016.64 L1118.26,1016.66 L1120.95,1016.67 L1123.65,1016.68 L1126.34,1016.69 L1129.03,1016.7 L1131.73,1016.7 L1134.42,1016.71 L1137.11,1016.72 L1139.81,1016.73 L1142.5,1016.73 L1145.19,1016.74 L1147.88,1016.74 L1150.58,1016.75 L1153.27,1016.75 L1155.96,1016.76 L1158.66,1016.76 L1161.35,1016.76 L1164.04,1016.77 L1166.74,1016.77 L1169.43,1016.77 L1172.12,1016.77 L1174.81,1016.78 L1177.51,1016.78 L1180.2,1016.78" fill="none" stroke="#55752f" stroke-width="5" stroke-linejoin="round"/>
<path d="M103,1016.8 L105.69,1016.8 L108.39,1016.79 L111.08,1016.79 L113.77,1016.79 L116.47,1016.79 L119.16,1016.79 L121.85,1016.79 L124.54,1016.79 L127.24,1016.79 L129.93,1016.79 L132.62,1016.79 L135.32,1016.79 L138.01,1016.78 L140.7,1016.78 L143.4,1016.78 L146.09,1016.78 L148.78,1016.78 L151.47,1016.78 L154.17,1016.77 L156.86,1016.77 L159.55,1016.77 L162.25,1016.77 L164.94,1016.76 L167.63,1016.76 L170.32,1016.76 L173.02,1016.75 L175.71,1016.75 L178.4,1016.74 L181.1,1016.74 L183.79,1016.73 L186.48,1016.73 L189.18,1016.72 L191.87,1016.71 L194.56,1016.7 L197.25,1016.7 L199.95,1016.69 L202.64,1016.68 L205.33,1016.67 L208.03,1016.66 L210.72,1016.64 L213.41,1016.63 L216.11,1016.62 L218.8,1016.6 L221.49,1016.59 L224.19,1016.57 L226.88,1016.55 L229.57,1016.53 L232.26,1016.51 L234.96,1016.49 L237.65,1016.46 L240.34,1016.44 L243.04,1016.41 L245.73,1016.38 L248.42,1016.34 L251.12,1016.31 L253.81,1016.27 L256.5,1016.23 L259.19,1016.19 L261.89,1016.15 L264.58,1016.1 L267.27,1016.05 L269.97,1015.99 L272.66,1015.93 L275.35,1015.87 L278.05,1015.8 L280.74,1015.73 L283.43,1015.65 L286.12,1015.57 L288.82,1015.49 L291.51,1015.4 L294.2,1015.3 L296.9,1015.2 L299.59,1015.09 L302.28,1014.97 L304.98,1014.85 L307.67,1014.72 L310.36,1014.59 L313.05,1014.44 L315.75,1014.29 L318.44,1014.12 L321.13,1013.95 L323.83,1013.77 L326.52,1013.58 L329.21,1013.37 L331.9,1013.16 L334.6,1012.94 L337.29,1012.7 L339.98,1012.45 L342.68,1012.18 L345.37,1011.91 L348.06,1011.61 L350.76,1011.31 L353.45,1010.98 L356.14,1010.65 L358.84,1010.29 L361.53,1009.92 L364.22,1009.53 L366.91,1009.11 L369.61,1008.68 L372.3,1008.23 L374.99,1007.76 L377.69,1007.27 L380.38,1006.75 L383.07,1006.21 L385.77,1005.65 L388.46,1005.06 L391.15,1004.45 L393.84,1003.81 L396.54,1003.14 L399.23,1002.44 L401.92,1001.72 L404.62,1000.96 L407.31,1000.18 L410,999.36 L412.69,998.51 L415.39,997.63 L418.08,996.71 L420.77,995.76 L423.47,994.78 L426.16,993.76 L428.85,992.7 L431.55,991.6 L434.24,990.47 L436.93,989.29 L439.62,988.08 L442.32,986.82 L445.01,985.53 L447.7,984.19 L450.4,982.81 L453.09,981.39 L455.78,979.92 L458.48,978.41 L461.17,976.85 L463.86,975.25 L466.56,973.61 L469.25,971.92 L471.94,970.18 L474.63,968.4 L477.33,966.57 L480.02,964.69 L482.71,962.77 L485.41,960.8 L488.1,958.78 L490.79,956.72 L493.49,954.61 L496.18,952.45 L498.87,950.25 L501.56,948 L504.26,945.71 L506.95,943.37 L509.64,940.99 L512.34,938.57 L515.03,936.11 L517.72,933.6 L520.41,931.05 L523.11,928.46 L525.8,925.84 L528.49,923.17 L531.19,920.47 L533.88,917.74 L536.57,914.97 L539.27,912.17 L541.96,909.34 L544.65,906.48 L547.35,903.59 L550.04,900.68 L552.73,897.75 L555.42,894.79 L558.12,891.82 L560.81,888.83 L563.5,885.82 L566.2,882.8 L568.89,879.77 L571.58,876.74 L574.28,873.69 L576.97,870.65 L579.66,867.61 L582.35,864.56 L585.05,861.53 L587.74,858.5 L590.43,855.48 L593.13,852.48 L595.82,849.49 L598.51,846.53 L601.21,843.58 L603.9,840.66 L606.59,837.77 L609.28,834.91 L611.98,832.09 L614.67,829.3 L617.36,826.56 L620.06,823.85 L622.75,821.2 L625.44,818.59 L628.13,816.04 L630.83,813.54 L633.52,811.1 L636.21,808.72 L638.91,806.4 L641.6,804.15 L644.29,801.97 L646.99,799.86 L649.68,797.83 L652.37,795.87 L655.06,794 L657.76,792.2 L660.45,790.49 L663.14,788.86 L665.84,787.32 L668.53,785.87 L671.22,784.52 L673.92,783.25 L676.61,782.08 L679.3,781.01 L682,780.04 L684.69,779.16 L687.38,778.39 L690.07,777.71 L692.77,777.14 L695.46,776.67 L698.15,776.31 L700.85,776.05 L703.54,775.89 L706.23,775.84 L708.93,775.89 L711.62,776.05 L714.31,776.31 L717,776.67 L719.7,777.14 L722.39,777.71 L725.08,778.39 L727.78,779.16 L730.47,780.04 L733.16,781.01 L735.86,782.08 L738.55,783.25 L741.24,784.52 L743.93,785.87 L746.63,787.32 L749.32,788.86 L752.01,790.49 L754.71,792.2 L757.4,794 L760.09,795.87 L762.79,797.83 L765.48,799.86 L768.17,801.97 L770.86,804.15 L773.56,806.4 L776.25,808.72 L778.94,811.1 L781.64,813.54 L784.33,816.04 L787.02,818.59 L789.72,821.2 L792.41,823.85 L795.1,826.56 L797.79,829.3 L800.49,832.09 L803.18,834.91 L805.87,837.77 L808.57,840.66 L811.26,843.58 L813.95,846.53 L816.64,849.49 L819.34,852.48 L822.03,855.48 L824.72,858.5 L827.42,861.53 L830.11,864.56 L832.8,867.61 L835.5,870.65 L838.19,873.69 L840.88,876.74 L843.58,879.77 L846.27,882.8 L848.96,885.82 L851.65,888.83 L854.35,891.82 L857.04,894.79 L859.73,897.75 L862.43,900.68 L865.12,903.59 L867.81,906.48 L870.51,909.34 L873.2,912.17 L875.89,914.97 L878.58,917.74 L881.28,920.47 L883.97,923.17 L886.66,925.84 L889.36,928.46 L892.05,931.05 L894.74,933.6 L897.44,936.11 L900.13,938.57 L902.82,940.99 L905.51,943.37 L908.21,945.71 L910.9,948 L913.59,950.25 L916.29,952.45 L918.98,954.61 L921.67,956.72 L924.37,958.78 L927.06,960.8 L929.75,962.77 L932.44,964.69 L935.14,966.57 L937.83,968.4 L940.52,970.18 L943.22,971.92 L945.91,973.61 L948.6,975.25 L951.29,976.85 L953.99,978.41 L956.68,979.92 L959.37,981.39 L962.07,982.81 L964.76,984.19 L967.45,985.53 L970.15,986.82 L972.84,988.08 L975.53,989.29 L978.23,990.47 L980.92,991.6 L983.61,992.7 L986.3,993.76 L989,994.78 L991.69,995.76 L994.38,996.71 L997.08,997.63 L999.77,998.51 L1002.46,999.36 L1005.16,1000.18 L1007.85,1000.96 L1010.54,1001.72 L1013.23,1002.44 L1015.93,1003.14 L1018.62,1003.81 L1021.31,1004.45 L1024.01,1005.06 L1026.7,1005.65 L1029.39,1006.21 L1032.09,1006.75 L1034.78,1007.27 L1037.47,1007.76 L1040.16,1008.23 L1042.86,1008.68 L1045.55,1009.11 L1048.24,1009.53 L1050.94,1009.92 L1053.63,1010.29 L1056.32,1010.65 L1059.01,1010.98 L1061.71,1011.31 L1064.4,1011.61 L1067.09,1011.91 L1069.79,1012.18 L1072.48,1012.45 L1075.17,1012.7 L1077.87,1012.94 L1080.56,1013.16 L1083.25,1013.37 L1085.95,1013.58 L1088.64,1013.77 L1091.33,1013.95 L1094.02,1014.12 L1096.72,1014.29 L1099.41,1014.44 L1102.1,1014.59 L1104.8,1014.72 L1107.49,1014.85 L1110.18,1014.97 L1112.88,1015.09 L1115.57,1015.2 L1118.26,1015.3 L1120.95,1015.4 L1123.65,1015.49 L1126.34,1015.57 L1129.03,1015.65 L1131.73,1015.73 L1134.42,1015.8 L1137.11,1015.87 L1139.81,1015.93 L1142.5,1015.99 L1145.19,1016.05 L1147.88,1016.1 L1150.58,1016.15 L1153.27,1016.19 L1155.96,1016.23 L1158.66,1016.27 L1161.35,1016.31 L1164.04,1016.34 L1166.74,1016.38 L1169.43,1016.41 L1172.12,1016.44 L1174.81,1016.46 L1177.51,1016.49 L1180.2,1016.51" fill="none" stroke="#55752f" stroke-width="5" stroke-linejoin="round"/>
<path d="M103,1016.8 L105.69,1016.8 L108.39,1016.8 L111.08,1016.8 L113.77,1016.8 L116.47,1016.8 L119.16,1016.8 L121.85,1016.8 L124.54,1016.8 L127.24,1016.8 L129.93,1016.8 L132.62,1016.8 L135.32,1016.8 L138.01,1016.8 L140.7,1016.8 L143.4,1016.8 L146.09,1016.8 L148.78,1016.8 L151.47,1016.8 L154.17,1016.8 L156.86,1016.8 L159.55,1016.8 L162.25,1016.8 L164.94,1016.8 L167.63,1016.8 L170.32,1016.8 L173.02,1016.8 L175.71,1016.8 L178.4,1016.8 L181.1,1016.8 L183.79,1016.8 L186.48,1016.8 L189.18,1016.8 L191.87,1016.8 L194.56,1016.79 L197.25,1016.79 L199.95,1016.79 L202.64,1016.79 L205.33,1016.79 L208.03,1016.79 L210.72,1016.79 L213.41,1016.79 L216.11,1016.79 L218.8,1016.79 L221.49,1016.79 L224.19,1016.78 L226.88,1016.78 L229.57,1016.78 L232.26,1016.78 L234.96,1016.78 L237.65,1016.78 L240.34,1016.77 L243.04,1016.77 L245.73,1016.77 L248.42,1016.77 L251.12,1016.76 L253.81,1016.76 L256.5,1016.76 L259.19,1016.75 L261.89,1016.75 L264.58,1016.74 L267.27,1016.74 L269.97,1016.73 L272.66,1016.73 L275.35,1016.72 L278.05,1016.71 L280.74,1016.7 L283.43,1016.7 L286.12,1016.69 L288.82,1016.68 L291.51,1016.67 L294.2,1016.66 L296.9,1016.64 L299.59,1016.63 L302.28,1016.62 L304.98,1016.6 L307.67,1016.59 L310.36,1016.57 L313.05,1016.55 L315.75,1016.53 L318.44,1016.51 L321.13,1016.49 L323.83,1016.46 L326.52,1016.44 L329.21,1016.41 L331.9,1016.38 L334.6,1016.34 L337.29,1016.31 L339.98,1016.27 L342.68,1016.23 L345.37,1016.19 L348.06,1016.15 L350.76,1016.1 L353.45,1016.05 L356.14,1015.99 L358.84,1015.93 L361.53,1015.87 L364.22,1015.8 L366.91,1015.73 L369.61,1015.65 L372.3,1015.57 L374.99,1015.49 L377.69,1015.4 L380.38,1015.3 L383.07,1015.2 L385.77,1015.09 L388.46,1014.97 L391.15,1014.85 L393.84,1014.72 L396.54,1014.59 L399.23,1014.44 L401.92,1014.29 L404.62,1014.12 L407.31,1013.95 L410,1013.77 L412.69,1013.58 L415.39,1013.37 L418.08,1013.16 L420.77,1012.94 L423.47,1012.7 L426.16,1012.45 L428.85,1012.18 L431.55,1011.91 L434.24,1011.61 L436.93,1011.31 L439.62,1010.98 L442.32,1010.65 L445.01,1010.29 L447.7,1009.92 L450.4,1009.53 L453.09,1009.11 L455.78,1008.68 L458.48,1008.23 L461.17,1007.76 L463.86,1007.27 L466.56,1006.75 L469.25,1006.21 L471.94,1005.65 L474.63,1005.06 L477.33,1004.45 L480.02,1003.81 L482.71,1003.14 L485.41,1002.44 L488.1,1001.72 L490.79,1000.96 L493.49,1000.18 L496.18,999.36 L498.87,998.51 L501.56,997.63 L504.26,996.71 L506.95,995.76 L509.64,994.78 L512.34,993.76 L515.03,992.7 L517.72,991.6 L520.41,990.47 L523.11,989.29 L525.8,988.08 L528.49,986.82 L531.19,985.53 L533.88,984.19 L536.57,982.81 L539.27,981.39 L541.96,979.92 L544.65,978.41 L547.35,976.85 L550.04,975.25 L552.73,973.61 L555.42,971.92 L558.12,970.18 L560.81,968.4 L563.5,966.57 L566.2,964.69 L568.89,962.77 L571.58,960.8 L574.28,958.78 L576.97,956.72 L579.66,954.61 L582.35,952.45 L585.05,950.25 L587.74,948 L590.43,945.71 L593.13,943.37 L595.82,940.99 L598.51,938.57 L601.21,936.11 L603.9,933.6 L606.59,931.05 L609.28,928.46 L611.98,925.84 L614.67,923.17 L617.36,920.47 L620.06,917.74 L622.75,914.97 L625.44,912.17 L628.13,909.34 L630.83,906.48 L633.52,903.59 L636.21,900.68 L638.91,897.75 L641.6,894.79 L644.29,891.82 L646.99,888.83 L649.68,885.82 L652.37,882.8 L655.06,879.77 L657.76,876.74 L660.45,873.69 L663.14,870.65 L665.84,867.61 L668.53,864.56 L671.22,861.53 L673.92,858.5 L676.61,855.48 L679.3,852.48 L682,849.49 L684.69,846.53 L687.38,843.58 L690.07,840.66 L692.77,837.77 L695.46,834.91 L698.15,832.09 L700.85,829.3 L703.54,826.56 L706.23,823.85 L708.93,821.2 L711.62,818.59 L714.31,816.04 L717,813.54 L719.7,811.1 L722.39,808.72 L725.08,806.4 L727.78,804.15 L730.47,801.97 L733.16,799.86 L735.86,797.83 L738.55,795.87 L741.24,794 L743.93,792.2 L746.63,790.49 L749.32,788.86 L752.01,787.32 L754.71,785.87 L757.4,784.52 L760.09,783.25 L762.79,782.08 L765.48,781.01 L768.17,780.04 L770.86,779.16 L773.56,778.39 L776.25,777.71 L778.94,777.14 L781.64,776.67 L784.33,776.31 L787.02,776.05 L789.72,775.89 L792.41,775.84 L795.1,775.89 L797.79,776.05 L800.49,776.31 L803.18,776.67 L805.87,777.14 L808.57,777.71 L811.26,778.39 L813.95,779.16 L816.64,780.04 L819.34,781.01 L822.03,782.08 L824.72,783.25 L827.42,784.52 L830.11,785.87 L832.8,787.32 L835.5,788.86 L838.19,790.49 L840.88,792.2 L843.58,794 L846.27,795.87 L848.96,797.83 L851.65,799.86 L854.35,801.97 L857.04,804.15 L859.73,806.4 L862.43,808.72 L865.12,811.1 L867.81,813.54 L870.51,816.04 L873.2,818.59 L875.89,821.2 L878.58,823.85 L881.28,826.56 L883.97,829.3 L886.66,832.09 L889.36,834.91 L892.05,837.77 L894.74,840.66 L897.44,843.58 L900.13,846.53 L902.82,849.49 L905.51,852.48 L908.21,855.48 L910.9,858.5 L913.59,861.53 L916.29,864.56 L918.98,867.61 L921.67,870.65 L924.37,873.69 L927.06,876.74 L929.75,879.77 L932.44,882.8 L935.14,885.82 L937.83,888.83 L940.52,891.82 L943.22,894.79 L945.91,897.75 L948.6,900.68 L951.29,903.59 L953.99,906.48 L956.68,909.34 L959.37,912.17 L962.07,914.97 L964.76,917.74 L967.45,920.47 L970.15,923.17 L972.84,925.84 L975.53,928.46 L978.23,931.05 L980.92,933.6 L983.61,936.11 L986.3,938.57 L989,940.99 L991.69,943.37 L994.38,945.71 L997.08,948 L999.77,950.25 L1002.46,952.45 L1005.16,954.61 L1007.85,956.72 L1010.54,958.78 L1013.23,960.8 L1015.93,962.77 L1018.62,964.69 L1021.31,966.57 L1024.01,968.4 L1026.7,970.18 L1029.39,971.92 L1032.09,973.61 L1034.78,975.25 L1037.47,976.85 L1040.16,978.41 L1042.86,979.92 L1045.55,981.39 L1048.24,982.81 L1050.94,984.19 L1053.63,985.53 L1056.32,986.82 L1059.01,988.08 L1061.71,989.29 L1064.4,990.47 L1067.09,991.6 L1069.79,992.7 L1072.48,993.76 L1075.17,994.78 L1077.87,995.76 L1080.56,996.71 L1083.25,997.63 L1085.95,998.51 L1088.64,999.36 L1091.33,1000.18 L1094.02,1000.96 L1096.72,1001.72 L1099.41,1002.44 L1102.1,1003.14 L1104.8,1003.81 L1107.49,1004.45 L1110.18,1005.06 L1112.88,1005.65 L1115.57,1006.21 L1118.26,1006.75 L1120.95,1007.27 L1123.65,1007.76 L1126.34,1008.23 L1129.03,1008.68 L1131.73,1009.11 L1134.42,1009.53 L1137.11,1009.92 L1139.81,1010.29 L1142.5,1010.65 L1145.19,1010.98 L1147.88,1011.31 L1150.58,1011.61 L1153.27,1011.91 L1155.96,1012.18 L1158.66,1012.45 L1161.35,1012.7 L1164.04,1012.94 L1166.74,1013.16 L1169.43,1013.37 L1172.12,1013.58 L1174.81,1013.77 L1177.51,1013.95 L1180.2,1014.12" fill="none" stroke="#55752f" stroke-width="5" stroke-linejoin="round"/>
<path d="M103,1008.86 L105.69,1008.54 L108.39,1008.22 L111.08,1007.88 L113.77,1007.53 L116.47,1007.18 L119.16,1006.81 L121.85,1006.42 L124.54,1006.03 L127.24,1005.63 L129.93,1005.21 L132.62,1004.78 L135.32,1004.33 L138.01,1003.88 L140.7,1003.4 L143.4,1002.92 L146.09,1002.42 L148.78,1001.91 L151.47,1001.38 L154.17,1000.84 L156.86,1000.28 L159.55,999.71 L162.25,999.12 L164.94,998.52 L167.63,997.9 L170.32,997.26 L173.02,996.61 L175.71,995.94 L178.4,995.26 L181.1,994.56 L183.79,993.84 L186.48,993.1 L189.18,992.34 L191.87,991.57 L194.56,990.78 L197.25,989.97 L199.95,989.14 L202.64,988.29 L205.33,987.43 L208.03,986.54 L210.72,985.64 L213.41,984.72 L216.11,983.78 L218.8,982.81 L221.49,981.83 L224.19,980.83 L226.88,979.81 L229.57,978.78 L232.26,977.72 L234.96,976.64 L237.65,975.54 L240.34,974.42 L243.04,973.28 L245.73,972.13 L248.42,970.95 L251.12,969.75 L253.81,968.54 L256.5,967.3 L259.19,966.05 L261.89,964.78 L264.58,963.48 L267.27,962.17 L269.97,960.84 L272.66,959.49 L275.35,958.13 L278.05,956.74 L280.74,955.34 L283.43,953.92 L286.12,952.49 L288.82,951.03 L291.51,949.57 L294.2,948.08 L296.9,946.58 L299.59,945.06 L302.28,943.53 L304.98,941.99 L307.67,940.43 L310.36,938.85 L313.05,937.27 L315.75,935.67 L318.44,934.06 L321.13,932.44 L323.83,930.81 L326.52,929.16 L329.21,927.51 L331.9,925.85 L334.6,924.18 L337.29,922.5 L339.98,920.82 L342.68,919.13 L345.37,917.43 L348.06,915.73 L350.76,914.03 L353.45,912.32 L356.14,910.61 L358.84,908.9 L361.53,907.19 L364.22,905.47 L366.91,903.76 L369.61,902.05 L372.3,900.35 L374.99,898.64 L377.69,896.94 L380.38,895.25 L383.07,893.56 L385.77,891.88 L388.46,890.2 L391.15,888.54 L393.84,886.89 L396.54,885.24 L399.23,883.61 L401.92,881.99 L404.62,880.38 L407.31,878.79 L410,877.22 L412.69,875.66 L415.39,874.12 L418.08,872.59 L420.77,871.09 L423.47,869.61 L426.16,868.14 L428.85,866.7 L431.55,865.29 L434.24,863.89 L436.93,862.52 L439.62,861.18 L442.32,859.86 L445.01,858.57 L447.7,857.31 L450.4,856.08 L453.09,854.88 L455.78,853.71 L458.48,852.57 L461.17,851.47 L463.86,850.39 L466.56,849.35 L469.25,848.35 L471.94,847.38 L474.63,846.45 L477.33,845.55 L480.02,844.69 L482.71,843.87 L485.41,843.09 L488.1,842.34 L490.79,841.64 L493.49,840.98 L496.18,840.35 L498.87,839.77 L501.56,839.23 L504.26,838.73 L506.95,838.27 L509.64,837.86 L512.34,837.49 L515.03,837.16 L517.72,836.87 L520.41,836.63 L523.11,836.43 L525.8,836.28 L528.49,836.17 L531.19,836.1 L533.88,836.08 L536.57,836.1 L539.27,836.17 L541.96,836.28 L544.65,836.43 L547.35,836.63 L550.04,836.87 L552.73,837.16 L555.42,837.49 L558.12,837.86 L560.81,838.27 L563.5,838.73 L566.2,839.23 L568.89,839.77 L571.58,840.35 L574.28,840.98 L576.97,841.64 L579.66,842.34 L582.35,843.09 L585.05,843.87 L587.74,844.69 L590.43,845.55 L593.13,846.45 L595.82,847.38 L598.51,848.35 L601.21,849.35 L603.9,850.39 L606.59,851.47 L609.28,852.57 L611.98,853.71 L614.67,854.88 L617.36,856.08 L620.06,857.31 L622.75,858.57 L625.44,859.86 L628.13,861.18 L630.83,862.52 L633.52,863.89 L636.21,865.29 L638.91,866.7 L641.6,868.14 L644.29,869.61 L646.99,871.09 L649.68,872.59 L652.37,874.12 L655.06,875.66 L657.76,877.22 L660.45,878.79 L663.14,880.38 L665.84,881.99 L668.53,883.61 L671.22,885.24 L673.92,886.89 L676.61,888.54 L679.3,890.2 L682,891.88 L684.69,893.56 L687.38,895.25 L690.07,896.94 L692.77,898.64 L695.46,900.35 L698.15,902.05 L700.85,903.76 L703.54,905.47 L706.23,907.19 L708.93,908.9 L711.62,910.61 L714.31,912.32 L717,914.03 L719.7,915.73 L722.39,917.43 L725.08,919.13 L727.78,920.82 L730.47,922.5 L733.16,924.18 L735.86,925.85 L738.55,927.51 L741.24,929.16 L743.93,930.81 L746.63,932.44 L749.32,934.06 L752.01,935.67 L754.71,937.27 L757.4,938.85 L760.09,940.43 L762.79,941.99 L765.48,943.53 L768.17,945.06 L770.86,946.58 L773.56,948.08 L776.25,949.57 L778.94,951.03 L781.64,952.49 L784.33,953.92 L787.02,955.34 L789.72,956.74 L792.41,958.13 L795.1,959.49 L797.79,960.84 L800.49,962.17 L803.18,963.48 L805.87,964.78 L808.57,966.05 L811.26,967.3 L813.95,968.54 L816.64,969.75 L819.34,970.95 L822.03,972.13 L824.72,973.28 L827.42,974.42 L830.11,975.54 L832.8,976.64 L835.5,977.72 L838.19,978.78 L840.88,979.81 L843.58,980.83 L846.27,981.83 L848.96,982.81 L851.65,983.78 L854.35,984.72 L857.04,985.64 L859.73,986.54 L862.43,987.43 L865.12,988.29 L867.81,989.14 L870.51,989.97 L873.2,990.78 L875.89,991.57 L878.58,992.34 L881.28,993.1 L883.97,993.84 L886.66,994.56 L889.36,995.26 L892.05,995.94 L894.74,996.61 L897.44,997.26 L900.13,997.9 L902.82,998.52 L905.51,999.12 L908.21,999.71 L910.9,1000.28 L913.59,1000.84 L916.29,1001.38 L918.98,1001.91 L921.67,1002.42 L924.37,1002.92 L927.06,1003.4 L929.75,1003.88 L932.44,1004.33 L935.14,1004.78 L937.83,1005.21 L940.52,1005.63 L943.22,1006.03 L945.91,1006.42 L948.6,1006.81 L951.29,1007.18 L953.99,1007.53 L956.68,1007.88 L959.37,1008.22 L962.07,1008.54 L964.76,1008.86 L967.45,1009.16 L970.15,1009.46 L972.84,1009.75 L975.53,1010.02 L978.23,1010.29 L980.92,1010.55 L983.61,1010.8 L986.3,1011.04 L989,1011.27 L991.69,1011.49 L994.38,1011.71 L997.08,1011.92 L999.77,1012.12 L1002.46,1012.31 L1005.16,1012.5 L1007.85,1012.68 L1010.54,1012.85 L1013.23,1013.02 L1015.93,1013.18 L1018.62,1013.34 L1021.31,1013.49 L1024.01,1013.63 L1026.7,1013.77 L1029.39,1013.9 L1032.09,1014.03 L1034.78,1014.15 L1037.47,1014.27 L1040.16,1014.38 L1042.86,1014.49 L1045.55,1014.6 L1048.24,1014.7 L1050.94,1014.79 L1053.63,1014.88 L1056.32,1014.97 L1059.01,1015.06 L1061.71,1015.14 L1064.4,1015.22 L1067.09,1015.29 L1069.79,1015.36 L1072.48,1015.43 L1075.17,1015.5 L1077.87,1015.56 L1080.56,1015.62 L1083.25,1015.68 L1085.95,1015.73 L1088.64,1015.78 L1091.33,1015.83 L1094.02,1015.88 L1096.72,1015.93 L1099.41,1015.97 L1102.1,1016.01 L1104.8,1016.05 L1107.49,1016.09 L1110.18,1016.13 L1112.88,1016.16 L1115.57,1016.19 L1118.26,1016.22 L1120.95,1016.25 L1123.65,1016.28 L1126.34,1016.31 L1129.03,1016.33 L1131.73,1016.36 L1134.42,1016.38 L1137.11,1016.4 L1139.81,1016.43 L1142.5,1016.45 L1145.19,1016.46 L1147.88,1016.48 L1150.58,1016.5 L1153.27,1016.52 L1155.96,1016.53 L1158.66,1016.55 L1161.35,1016.56 L1164.04,1016.57 L1166.74,1016.59 L1169.43,1016.6 L1172.12,1016.61 L1174.81,1016.62 L1177.51,1016.63 L1180.2,1016.64" fill="none" stroke="#e37e00" stroke-width="5" stroke-linejoin="round"/>
<path d="M103,1014.79 L105.69,1014.7 L108.39,1014.6 L111.08,1014.49 L113.77,1014.38 L116.47,1014.27 L119.16,1014.15 L121.85,1014.03 L124.54,1013.9 L127.24,1013.77 L129.93,1013.63 L132.62,1013.49 L135.32,1013.34 L138.01,1013.18 L140.7,1013.02 L143.4,1012.85 L146.09,1012.68 L148.78,1012.5 L151.47,1012.31 L154.17,1012.12 L156.86,1011.92 L159.55,1011.71 L162.25,1011.49 L164.94,1011.27 L167.63,1011.04 L170.32,1010.8 L173.02,1010.55 L175.71,1010.29 L178.4,1010.02 L181.1,1009.75 L183.79,1009.46 L186.48,1009.16 L189.18,1008.86 L191.87,1008.54 L194.56,1008.22 L197.25,1007.88 L199.95,1007.53 L202.64,1007.18 L205.33,1006.81 L208.03,1006.42 L210.72,1006.03 L213.41,1005.63 L216.11,1005.21 L218.8,1004.78 L221.49,1004.33 L224.19,1003.88 L226.88,1003.4 L229.57,1002.92 L232.26,1002.42 L234.96,1001.91 L237.65,1001.38 L240.34,1000.84 L243.04,1000.28 L245.73,999.71 L248.42,999.12 L251.12,998.52 L253.81,997.9 L256.5,997.26 L259.19,996.61 L261.89,995.94 L264.58,995.26 L267.27,994.56 L269.97,993.84 L272.66,993.1 L275.35,992.34 L278.05,991.57 L280.74,990.78 L283.43,989.97 L286.12,989.14 L288.82,988.29 L291.51,987.43 L294.2,986.54 L296.9,985.64 L299.59,984.72 L302.28,983.78 L304.98,982.81 L307.67,981.83 L310.36,980.83 L313.05,979.81 L315.75,978.78 L318.44,977.72 L321.13,976.64 L323.83,975.54 L326.52,974.42 L329.21,973.28 L331.9,972.13 L334.6,970.95 L337.29,969.75 L339.98,968.54 L342.68,967.3 L345.37,966.05 L348.06,964.78 L350.76,963.48 L353.45,962.17 L356.14,960.84 L358.84,959.49 L361.53,958.13 L364.22,956.74 L366.91,955.34 L369.61,953.92 L372.3,952.49 L374.99,951.03 L377.69,949.57 L380.38,948.08 L383.07,946.58 L385.77,945.06 L388.46,943.53 L391.15,941.99 L393.84,940.43 L396.54,938.85 L399.23,937.27 L401.92,935.67 L404.62,934.06 L407.31,932.44 L410,930.81 L412.69,929.16 L415.39,927.51 L418.08,925.85 L420.77,924.18 L423.47,922.5 L426.16,920.82 L428.85,919.13 L431.55,917.43 L434.24,915.73 L436.93,914.03 L439.62,912.32 L442.32,910.61 L445.01,908.9 L447.7,907.19 L450.4,905.47 L453.09,903.76 L455.78,902.05 L458.48,900.35 L461.17,898.64 L463.86,896.94 L466.56,895.25 L469.25,893.56 L471.94,891.88 L474.63,890.2 L477.33,888.54 L480.02,886.89 L482.71,885.24 L485.41,883.61 L488.1,881.99 L490.79,880.38 L493.49,878.79 L496.18,877.22 L498.87,875.66 L501.56,874.12 L504.26,872.59 L506.95,871.09 L509.64,869.61 L512.34,868.14 L515.03,866.7 L517.72,865.29 L520.41,863.89 L523.11,862.52 L525.8,861.18 L528.49,859.86 L531.19,858.57 L533.88,857.31 L536.57,856.08 L539.27,854.88 L541.96,853.71 L544.65,852.57 L547.35,851.47 L550.04,850.39 L552.73,849.35 L555.42,848.35 L558.12,847.38 L560.81,846.45 L563.5,845.55 L566.2,844.69 L568.89,843.87 L571.58,843.09 L574.28,842.34 L576.97,841.64 L579.66,840.98 L582.35,840.35 L585.05,839.77 L587.74,839.23 L590.43,838.73 L593.13,838.27 L595.82,837.86 L598.51,837.49 L601.21,837.16 L603.9,836.87 L606.59,836.63 L609.28,836.43 L611.98,836.28 L614.67,836.17 L617.36,836.1 L620.06,836.08 L622.75,836.1 L625.44,836.17 L628.13,836.28 L630.83,836.43 L633.52,836.63 L636.21,836.87 L638.91,837.16 L641.6,837.49 L644.29,837.86 L646.99,838.27 L649.68,838.73 L652.37,839.23 L655.06,839.77 L657.76,840.35 L660.45,840.98 L663.14,841.64 L665.84,842.34 L668.53,843.09 L671.22,843.87 L673.92,844.69 L676.61,845.55 L679.3,846.45 L682,847.38 L684.69,848.35 L687.38,849.35 L690.07,850.39 L692.77,851.47 L695.46,852.57 L698.15,853.71 L700.85,854.88 L703.54,856.08 L706.23,857.31 L708.93,858.57 L711.62,859.86 L714.31,861.18 L717,862.52 L719.7,863.89 L722.39,865.29 L725.08,866.7 L727.78,868.14 L730.47,869.61 L733.16,871.09 L735.86,872.59 L738.55,874.12 L741.24,875.66 L743.93,877.22 L746.63,878.79 L749.32,880.38 L752.01,881.99 L754.71,883.61 L757.4,885.24 L760.09,886.89 L762.79,888.54 L765.48,890.2 L768.17,891.88 L770.86,893.56 L773.56,895.25 L776.25,896.94 L778.94,898.64 L781.64,900.35 L784.33,902.05 L787.02,903.76 L789.72,905.47 L792.41,907.19 L795.1,908.9 L797.79,910.61 L800.49,912.32 L803.18,914.03 L805.87,915.73 L808.57,917.43 L811.26,919.13 L813.95,920.82 L816.64,922.5 L819.34,924.18 L822.03,925.85 L824.72,927.51 L827.42,929.16 L830.11,930.81 L832.8,932.44 L835.5,934.06 L838.19,935.67 L840.88,937.27 L843.58,938.85 L846.27,940.43 L848.96,941.99 L851.65,943.53 L854.35,945.06 L857.04,946.58 L859.73,948.08 L862.43,949.57 L865.12,951.03 L867.81,952.49 L870.51,953.92 L873.2,955.34 L875.89,956.74 L878.58,958.13 L881.28,959.49 L883.97,960.84 L886.66,962.17 L889.36,963.48 L892.05,964.78 L894.74,966.05 L897.44,967.3 L900.13,968.54 L902.82,969.75 L905.51,970.95 L908.21,972.13 L910.9,973.28 L913.59,974.42 L916.29,975.54 L918.98,976.64 L921.67,977.72 L924.37,978.78 L927.06,979.81 L929.75,980.83 L932.44,981.83 L935.14,982.81 L937.83,983.78 L940.52,984.72 L943.22,985.64 L945.91,986.54 L948.6,987.43 L951.29,988.29 L953.99,989.14 L956.68,989.97 L959.37,990.78 L962.07,991.57 L964.76,992.34 L967.45,993.1 L970.15,993.84 L972.84,994.56 L975.53,995.26 L978.23,995.94 L980.92,996.61 L983.61,997.26 L986.3,997.9 L989,998.52 L991.69,999.12 L994.38,999.71 L997.08,1000.28 L999.77,1000.84 L1002.46,1001.38 L1005.16,1001.91 L1007.85,1002.42 L1010.54,1002.92 L1013.23,1003.4 L1015.93,1003.88 L1018.62,1004.33 L1021.31,1004.78 L1024.01,1005.21 L1026.7,1005.63 L1029.39,1006.03 L1032.09,1006.42 L1034.78,1006.81 L1037.47,1007.18 L1040.16,1007.53 L1042.86,1007.88 L1045.55,1008.22 L1048.24,1008.54 L1050.94,1008.86 L1053.63,1009.16 L1056.32,1009.46 L1059.01,1009.75 L1061.71,1010.02 L1064.4,1010.29 L1067.09,1010.55 L1069.79,1010.8 L1072.48,1011.04 L1075.17,1011.27 L1077.87,1011.49 L1080.56,1011.71 L1083.25,1011.92 L1085.95,1012.12 L1088.64,1012.31 L1091.33,1012.5 L1094.02,1012.68 L1096.72,1012.85 L1099.41,1013.02 L1102.1,1013.18 L1104.8,1013.34 L1107.49,1013.49 L1110.18,1013.63 L1112.88,1013.77 L1115.57,1013.9 L1118.26,1014.03 L1120.95,1014.15 L1123.65,1014.27 L1126.34,1014.38 L1129.03,1014.49 L1131.73,1014.6 L1134.42,1014.7 L1137.11,1014.79 L1139.81,1014.88 L1142.5,1014.97 L1145.19,1015.06 L1147.88,1015.14 L1150.58,1015.22 L1153.27,1015.29 L1155.96,1015.36 L1158.66,1015.43 L1161.35,1015.5 L1164.04,1015.56 L1166.74,1015.62 L1169.43,1015.68 L1172.12,1015.73 L1174.81,1015.78 L1177.51,1015.83 L1180.2,1015.88" fill="none" stroke="#e37e00" stroke-width="5" stroke-linejoin="round"/>
<path d="M103,1016.4 L105.69,1016.38 L108.39,1016.36 L111.08,1016.33 L113.77,1016.31 L116.47,1016.28 L119.16,1016.25 L121.85,1016.22 L124.54,1016.19 L127.24,1016.16 L129.93,1016.13 L132.62,1016.09 L135.32,1016.05 L138.01,1016.01 L140.7,1015.97 L143.4,1015.93 L146.09,1015.88 L148.78,1015.83 L151.47,1015.78 L154.17,1015.73 L156.86,1015.68 L159.55,1015.62 L162.25,1015.56 L164.94,1015.5 L167.63,1015.43 L170.32,1015.36 L173.02,1015.29 L175.71,1015.22 L178.4,1015.14 L181.1,1015.06 L183.79,1014.97 L186.48,1014.88 L189.18,1014.79 L191.87,1014.7 L194.56,1014.6 L197.25,1014.49 L199.95,1014.38 L202.64,1014.27 L205.33,1014.15 L208.03,1014.03 L210.72,1013.9 L213.41,1013.77 L216.11,1013.63 L218.8,1013.49 L221.49,1013.34 L224.19,1013.18 L226.88,1013.02 L229.57,1012.85 L232.26,1012.68 L234.96,1012.5 L237.65,1012.31 L240.34,1012.12 L243.04,1011.92 L245.73,1011.71 L248.42,1011.49 L251.12,1011.27 L253.81,1011.04 L256.5,1010.8 L259.19,1010.55 L261.89,1010.29 L264.58,1010.02 L267.27,1009.75 L269.97,1009.46 L272.66,1009.16 L275.35,1008.86 L278.05,1008.54 L280.74,1008.22 L283.43,1007.88 L286.12,1007.53 L288.82,1007.18 L291.51,1006.81 L294.2,1006.42 L296.9,1006.03 L299.59,1005.63 L302.28,1005.21 L304.98,1004.78 L307.67,1004.33 L310.36,1003.88 L313.05,1003.4 L315.75,1002.92 L318.44,1002.42 L321.13,1001.91 L323.83,1001.38 L326.52,1000.84 L329.21,1000.28 L331.9,999.71 L334.6,999.12 L337.29,998.52 L339.98,997.9 L342.68,997.26 L345.37,996.61 L348.06,995.94 L350.76,995.26 L353.45,994.56 L356.14,993.84 L358.84,993.1 L361.53,992.34 L364.22,991.57 L366.91,990.78 L369.61,989.97 L372.3,989.14 L374.99,988.29 L377.69,987.43 L380.38,986.54 L383.07,985.64 L385.77,984.72 L388.46,983.78 L391.15,982.81 L393.84,981.83 L396.54,980.83 L399.23,979.81 L401.92,978.78 L404.62,977.72 L407.31,976.64 L410,975.54 L412.69,974.42 L415.39,973.28 L418.08,972.13 L420.77,970.95 L423.47,969.75 L426.16,968.54 L428.85,967.3 L431.55,966.05 L434.24,964.78 L436.93,963.48 L439.62,962.17 L442.32,960.84 L445.01,959.49 L447.7,958.13 L450.4,956.74 L453.09,955.34 L455.78,953.92 L458.48,952.49 L461.17,951.03 L463.86,949.57 L466.56,948.08 L469.25,946.58 L471.94,945.06 L474.63,943.53 L477.33,941.99 L480.02,940.43 L482.71,938.85 L485.41,937.27 L488.1,935.67 L490.79,934.06 L493.49,932.44 L496.18,930.81 L498.87,929.16 L501.56,927.51 L504.26,925.85 L506.95,924.18 L509.64,922.5 L512.34,920.82 L515.03,919.13 L517.72,917.43 L520.41,915.73 L523.11,914.03 L525.8,912.32 L528.49,910.61 L531.19,908.9 L533.88,907.19 L536.57,905.47 L539.27,903.76 L541.96,902.05 L544.65,900.35 L547.35,898.64 L550.04,896.94 L552.73,895.25 L555.42,893.56 L558.12,891.88 L560.81,890.2 L563.5,888.54 L566.2,886.89 L568.89,885.24 L571.58,883.61 L574.28,881.99 L576.97,880.38 L579.66,878.79 L582.35,877.22 L585.05,875.66 L587.74,874.12 L590.43,872.59 L593.13,871.09 L595.82,869.61 L598.51,868.14 L601.21,866.7 L603.9,865.29 L606.59,863.89 L609.28,862.52 L611.98,861.18 L614.67,859.86 L617.36,858.57 L620.06,857.31 L622.75,856.08 L625.44,854.88 L628.13,853.71 L630.83,852.57 L633.52,851.47 L636.21,850.39 L638.91,849.35 L641.6,848.35 L644.29,847.38 L646.99,846.45 L649.68,845.55 L652.37,844.69 L655.06,843.87 L657.76,843.09 L660.45,842.34 L663.14,841.64 L665.84,840.98 L668.53,840.35 L671.22,839.77 L673.92,839.23 L676.61,838.73 L679.3,838.27 L682,837.86 L684.69,837.49 L687.38,837.16 L690.07,836.87 L692.77,836.63 L695.46,836.43 L698.15,836.28 L700.85,836.17 L703.54,836.1 L706.23,836.08 L708.93,836.1 L711.62,836.17 L714.31,836.28 L717,836.43 L719.7,836.63 L722.39,836.87 L725.08,837.16 L727.78,837.49 L730.47,837.86 L733.16,838.27 L735.86,838.73 L738.55,839.23 L741.24,839.77 L743.93,840.35 L746.63,840.98 L749.32,841.64 L752.01,842.34 L754.71,843.09 L757.4,843.87 L760.09,844.69 L762.79,845.55 L765.48,846.45 L768.17,847.38 L770.86,848.35 L773.56,849.35 L776.25,850.39 L778.94,851.47 L781.64,852.57 L784.33,853.71 L787.02,854.88 L789.72,856.08 L792.41,857.31 L795.1,858.57 L797.79,859.86 L800.49,861.18 L803.18,862.52 L805.87,863.89 L808.57,865.29 L811.26,866.7 L813.95,868.14 L816.64,869.61 L819.34,871.09 L822.03,872.59 L824.72,874.12 L827.42,875.66 L830.11,877.22 L832.8,878.79 L835.5,880.38 L838.19,881.99 L840.88,883.61 L843.58,885.24 L846.27,886.89 L848.96,888.54 L851.65,890.2 L854.35,891.88 L857.04,893.56 L859.73,895.25 L862.43,896.94 L865.12,898.64 L867.81,900.35 L870.51,902.05 L873.2,903.76 L875.89,905.47 L878.58,907.19 L881.28,908.9 L883.97,910.61 L886.66,912.32 L889.36,914.03 L892.05,915.73 L894.74,917.43 L897.44,919.13 L900.13,920.82 L902.82,922.5 L905.51,924.18 L908.21,925.85 L910.9,927.51 L913.59,929.16 L916.29,930.81 L918.98,932.44 L921.67,934.06 L924.37,935.67 L927.06,937.27 L929.75,938.85 L932.44,940.43 L935.14,941.99 L937.83,943.53 L940.52,945.06 L943.22,946.58 L945.91,948.08 L948.6,949.57 L951.29,951.03 L953.99,952.49 L956.68,953.92 L959.37,955.34 L962.07,956.74 L964.76,958.13 L967.45,959.49 L970.15,960.84 L972.84,962.17 L975.53,963.48 L978.23,964.78 L980.92,966.05 L983.61,967.3 L986.3,968.54 L989,969.75 L991.69,970.95 L994.38,972.13 L997.08,973.28 L999.77,974.42 L1002.46,975.54 L1005.16,976.64 L1007.85,977.72 L1010.54,978.78 L1013.23,979.81 L1015.93,980.83 L1018.62,981.83 L1021.31,982.81 L1024.01,983.78 L1026.7,984.72 L1029.39,985.64 L1032.09,986.54 L1034.78,987.43 L1037.47,988.29 L1040.16,989.14 L1042.86,989.97 L1045.55,990.78 L1048.24,991.57 L1050.94,992.34 L1053.63,993.1 L1056.32,993.84 L1059.01,994.56 L1061.71,995.26 L1064.4,995.94 L1067.09,996.61 L1069.79,997.26 L1072.48,997.9 L1075.17,998.52 L1077.87,999.12 L1080.56,999.71 L1083.25,1000.28 L1085.95,1000.84 L1088.64,1001.38 L1091.33,1001.91 L1094.02,1002.42 L1096.72,1002.92 L1099.41,1003.4 L1102.1,1003.88 L1104.8,1004.33 L1107.49,1004.78 L1110.18,1005.21 L1112.88,1005.63 L1115.57,1006.03 L1118.26,1006.42 L1120.95,1006.81 L1123.65,1007.18 L1126.34,1007.53 L1129.03,1007.88 L1131.73,1008.22 L1134.42,1008.54 L1137.11,1008.86 L1139.81,1009.16 L1142.5,1009.46 L1145.19,1009.75 L1147.88,1010.02 L1150.58,1010.29 L1153.27,1010.55 L1155.96,1010.8 L1158.66,1011.04 L1161.35,1011.27 L1164.04,1011.49 L1166.74,1011.71 L1169.43,1011.92 L1172.12,1012.12 L1174.81,1012.31 L1177.51,1012.5 L1180.2,1012.68" fill="none" stroke="#e37e00" stroke-width="5" stroke-linejoin="round"/>
<path d="M103,1016.74 L105.69,1016.74 L108.39,1016.73 L111.08,1016.73 L113.77,1016.72 L116.47,1016.72 L119.16,1016.71 L121.85,1016.71 L124.54,1016.7 L127.24,1016.69 L129.93,1016.69 L132.62,1016.68 L135.32,1016.67 L138.01,1016.67 L140.7,1016.66 L143.4,1016.65 L146.09,1016.64 L148.78,1016.63 L151.47,1016.62 L154.17,1016.61 L156.86,1016.6 L159.55,1016.59 L162.25,1016.57 L164.94,1016.56 L167.63,1016.55 L170.32,1016.53 L173.02,1016.52 L175.71,1016.5 L178.4,1016.48 L181.1,1016.46 L183.79,1016.45 L186.48,1016.43 L189.18,1016.4 L191.87,1016.38 L194.56,1016.36 L197.25,1016.33 L199.95,1016.31 L202.64,1016.28 L205.33,1016.25 L208.03,1016.22 L210.72,1016.19 L213.41,1016.16 L216.11,1016.13 L218.8,1016.09 L221.49,1016.05 L224.19,1016.01 L226.88,1015.97 L229.57,1015.93 L232.26,1015.88 L234.96,1015.83 L237.65,1015.78 L240.34,1015.73 L243.04,1015.68 L245.73,1015.62 L248.42,1015.56 L251.12,1015.5 L253.81,1015.43 L256.5,1015.36 L259.19,1015.29 L261.89,1015.22 L264.58,1015.14 L267.27,1015.06 L269.97,1014.97 L272.66,1014.88 L275.35,1014.79 L278.05,1014.7 L280.74,1014.6 L283.43,1014.49 L286.12,1014.38 L288.82,1014.27 L291.51,1014.15 L294.2,1014.03 L296.9,1013.9 L299.59,1013.77 L302.28,1013.63 L304.98,1013.49 L307.67,1013.34 L310.36,1013.18 L313.05,1013.02 L315.75,1012.85 L318.44,1012.68 L321.13,1012.5 L323.83,1012.31 L326.52,1012.12 L329.21,1011.92 L331.9,1011.71 L334.6,1011.49 L337.29,1011.27 L339.98,1011.04 L342.68,1010.8 L345.37,1010.55 L348.06,1010.29 L350.76,1010.02 L353.45,1009.75 L356.14,1009.46 L358.84,1009.16 L361.53,1008.86 L364.22,1008.54 L366.91,1008.22 L369.61,1007.88 L372.3,1007.53 L374.99,1007.18 L377.69,1006.81 L380.38,1006.42 L383.07,1006.03 L385.77,1005.63 L388.46,1005.21 L391.15,1004.78 L393.84,1004.33 L396.54,1003.88 L399.23,1003.4 L401.92,1002.92 L404.62,1002.42 L407.31,1001.91 L410,1001.38 L412.69,1000.84 L415.39,1000.28 L418.08,999.71 L420.77,999.12 L423.47,998.52 L426.16,997.9 L428.85,997.26 L431.55,996.61 L434.24,995.94 L436.93,995.26 L439.62,994.56 L442.32,993.84 L445.01,993.1 L447.7,992.34 L450.4,991.57 L453.09,990.78 L455.78,989.97 L458.48,989.14 L461.17,988.29 L463.86,987.43 L466.56,986.54 L469.25,985.64 L471.94,984.72 L474.63,983.78 L477.33,982.81 L480.02,981.83 L482.71,980.83 L485.41,979.81 L488.1,978.78 L490.79,977.72 L493.49,976.64 L496.18,975.54 L498.87,974.42 L501.56,973.28 L504.26,972.13 L506.95,970.95 L509.64,969.75 L512.34,968.54 L515.03,967.3 L517.72,966.05 L520.41,964.78 L523.11,963.48 L525.8,962.17 L528.49,960.84 L531.19,959.49 L533.88,958.13 L536.57,956.74 L539.27,955.34 L541.96,953.92 L544.65,952.49 L547.35,951.03 L550.04,949.57 L552.73,948.08 L555.42,946.58 L558.12,945.06 L560.81,943.53 L563.5,941.99 L566.2,940.43 L568.89,938.85 L571.58,937.27 L574.28,935.67 L576.97,934.06 L579.66,932.44 L582.35,930.81 L585.05,929.16 L587.74,927.51 L590.43,925.85 L593.13,924.18 L595.82,922.5 L598.51,920.82 L601.21,919.13 L603.9,917.43 L606.59,915.73 L609.28,914.03 L611.98,912.32 L614.67,910.61 L617.36,908.9 L620.06,907.19 L622.75,905.47 L625.44,903.76 L628.13,902.05 L630.83,900.35 L633.52,898.64 L636.21,896.94 L638.91,895.25 L641.6,893.56 L644.29,891.88 L646.99,890.2 L649.68,888.54 L652.37,886.89 L655.06,885.24 L657.76,883.61 L660.45,881.99 L663.14,880.38 L665.84,878.79 L668.53,877.22 L671.22,875.66 L673.92,874.12 L676.61,872.59 L679.3,871.09 L682,869.61 L684.69,868.14 L687.38,866.7 L690.07,865.29 L692.77,863.89 L695.46,862.52 L698.15,861.18 L700.85,859.86 L703.54,858.57 L706.23,857.31 L708.93,856.08 L711.62,854.88 L714.31,853.71 L717,852.57 L719.7,851.47 L722.39,850.39 L725.08,849.35 L727.78,848.35 L730.47,847.38 L733.16,846.45 L735.86,845.55 L738.55,844.69 L741.24,843.87 L743.93,843.09 L746.63,842.34 L749.32,841.64 L752.01,840.98 L754.71,840.35 L757.4,839.77 L760.09,839.23 L762.79,838.73 L765.48,838.27 L768.17,837.86 L770.86,837.49 L773.56,837.16 L776.25,836.87 L778.94,836.63 L781.64,836.43 L784.33,836.28 L787.02,836.17 L789.72,836.1 L792.41,836.08 L795.1,836.1 L797.79,836.17 L800.49,836.28 L803.18,836.43 L805.87,836.63 L808.57,836.87 L811.26,837.16 L813.95,837.49 L816.64,837.86 L819.34,838.27 L822.03,838.73 L824.72,839.23 L827.42,839.77 L830.11,840.35 L832.8,840.98 L835.5,841.64 L838.19,842.34 L840.88,843.09 L843.58,843.87 L846.27,844.69 L848.96,845.55 L851.65,846.45 L854.35,847.38 L857.04,848.35 L859.73,849.35 L862.43,850.39 L865.12,851.47 L867.81,852.57 L870.51,853.71 L873.2,854.88 L875.89,856.08 L878.58,857.31 L881.28,858.57 L883.97,859.86 L886.66,861.18 L889.36,862.52 L892.05,863.89 L894.74,865.29 L897.44,866.7 L900.13,868.14 L902.82,869.61 L905.51,871.09 L908.21,872.59 L910.9,874.12 L913.59,875.66 L916.29,877.22 L918.98,878.79 L921.67,880.38 L924.37,881.99 L927.06,883.61 L929.75,885.24 L932.44,886.89 L935.14,888.54 L937.83,890.2 L940.52,891.88 L943.22,893.56 L945.91,895.25 L948.6,896.94 L951.29,898.64 L953.99,900.35 L956.68,902.05 L959.37,903.76 L962.07,905.47 L964.76,907.19 L967.45,908.9 L970.15,910.61 L972.84,912.32 L975.53,914.03 L978.23,915.73 L980.92,917.43 L983.61,919.13 L986.3,920.82 L989,922.5 L991.69,924.18 L994.38,925.85 L997.08,927.51 L999.77,929.16 L1002.46,930.81 L1005.16,932.44 L1007.85,934.06 L1010.54,935.67 L1013.23,937.27 L1015.93,938.85 L1018.62,940.43 L1021.31,941.99 L1024.01,943.53 L1026.7,945.06 L1029.39,946.58 L1032.09,948.08 L1034.78,949.57 L1037.47,951.03 L1040.16,952.49 L1042.86,953.92 L1045.55,955.34 L1048.24,956.74 L1050.94,958.13 L1053.63,959.49 L1056.32,960.84 L1059.01,962.17 L1061.71,963.48 L1064.4,964.78 L1067.09,966.05 L1069.79,967.3 L1072.48,968.54 L1075.17,969.75 L1077.87,970.95 L1080.56,972.13 L1083.25,973.28 L1085.95,974.42 L1088.64,975.54 L1091.33,976.64 L1094.02,977.72 L1096.72,978.78 L1099.41,979.81 L1102.1,980.83 L1104.8,981.83 L1107.49,982.81 L1110.18,983.78 L1112.88,984.72 L1115.57,985.64 L1118.26,986.54 L1120.95,987.43 L1123.65,988.29 L1126.34,989.14 L1129.03,989.97 L1131.73,990.78 L1134.42,991.57 L1137.11,992.34 L1139.81,993.1 L1142.5,993.84 L1145.19,994.56 L1147.88,995.26 L1150.58,995.94 L1153.27,996.61 L1155.96,997.26 L1158.66,997.9 L1161.35,998.52 L1164.04,999.12 L1166.74,999.71 L1169.43,1000.28 L1172.12,1000.84 L1174.81,1001.38 L1177.51,1001.91 L1180.2,1002.42" fill="none" stroke="#e37e00" stroke-width="5" stroke-linejoin="round"/>
<path d="M103,997.23 L105.69,996.74 L108.39,996.24 L111.08,995.72 L113.77,995.2 L116.47,994.67 L119.16,994.13 L121.85,993.58 L124.54,993.02 L127.24,992.45 L129.93,991.87 L132.62,991.28 L135.32,990.68 L138.01,990.07 L140.7,989.46 L143.4,988.83 L146.09,988.19 L148.78,987.54 L151.47,986.88 L154.17,986.21 L156.86,985.53 L159.55,984.84 L162.25,984.15 L164.94,983.44 L167.63,982.72 L170.32,981.99 L173.02,981.25 L175.71,980.5 L178.4,979.74 L181.1,978.97 L183.79,978.19 L186.48,977.4 L189.18,976.6 L191.87,975.79 L194.56,974.97 L197.25,974.15 L199.95,973.31 L202.64,972.46 L205.33,971.6 L208.03,970.74 L210.72,969.86 L213.41,968.98 L216.11,968.08 L218.8,967.18 L221.49,966.27 L224.19,965.35 L226.88,964.42 L229.57,963.48 L232.26,962.54 L234.96,961.59 L237.65,960.62 L240.34,959.65 L243.04,958.68 L245.73,957.69 L248.42,956.7 L251.12,955.7 L253.81,954.7 L256.5,953.68 L259.19,952.66 L261.89,951.64 L264.58,950.61 L267.27,949.57 L269.97,948.53 L272.66,947.48 L275.35,946.43 L278.05,945.37 L280.74,944.31 L283.43,943.24 L286.12,942.17 L288.82,941.09 L291.51,940.02 L294.2,938.93 L296.9,937.85 L299.59,936.76 L302.28,935.67 L304.98,934.58 L307.67,933.49 L310.36,932.4 L313.05,931.3 L315.75,930.21 L318.44,929.11 L321.13,928.01 L323.83,926.92 L326.52,925.82 L329.21,924.73 L331.9,923.64 L334.6,922.55 L337.29,921.46 L339.98,920.37 L342.68,919.29 L345.37,918.21 L348.06,917.13 L350.76,916.06 L353.45,914.99 L356.14,913.93 L358.84,912.87 L361.53,911.82 L364.22,910.77 L366.91,909.73 L369.61,908.69 L372.3,907.67 L374.99,906.65 L377.69,905.64 L380.38,904.63 L383.07,903.64 L385.77,902.65 L388.46,901.68 L391.15,900.71 L393.84,899.75 L396.54,898.81 L399.23,897.87 L401.92,896.95 L404.62,896.04 L407.31,895.14 L410,894.25 L412.69,893.38 L415.39,892.52 L418.08,891.67 L420.77,890.84 L423.47,890.02 L426.16,889.21 L428.85,888.42 L431.55,887.65 L434.24,886.89 L436.93,886.15 L439.62,885.42 L442.32,884.71 L445.01,884.01 L447.7,883.34 L450.4,882.68 L453.09,882.04 L455.78,881.42 L458.48,880.81 L461.17,880.23 L463.86,879.66 L466.56,879.11 L469.25,878.59 L471.94,878.08 L474.63,877.59 L477.33,877.12 L480.02,876.67 L482.71,876.24 L485.41,875.84 L488.1,875.45 L490.79,875.09 L493.49,874.74 L496.18,874.42 L498.87,874.12 L501.56,873.84 L504.26,873.58 L506.95,873.35 L509.64,873.14 L512.34,872.94 L515.03,872.78 L517.72,872.63 L520.41,872.51 L523.11,872.4 L525.8,872.32 L528.49,872.27 L531.19,872.23 L533.88,872.22 L536.57,872.23 L539.27,872.27 L541.96,872.32 L544.65,872.4 L547.35,872.51 L550.04,872.63 L552.73,872.78 L555.42,872.94 L558.12,873.14 L560.81,873.35 L563.5,873.58 L566.2,873.84 L568.89,874.12 L571.58,874.42 L574.28,874.74 L576.97,875.09 L579.66,875.45 L582.35,875.84 L585.05,876.24 L587.74,876.67 L590.43,877.12 L593.13,877.59 L595.82,878.08 L598.51,878.59 L601.21,879.11 L603.9,879.66 L606.59,880.23 L609.28,880.81 L611.98,881.42 L614.67,882.04 L617.36,882.68 L620.06,883.34 L622.75,884.01 L625.44,884.71 L628.13,885.42 L630.83,886.15 L633.52,886.89 L636.21,887.65 L638.91,888.42 L641.6,889.21 L644.29,890.02 L646.99,890.84 L649.68,891.67 L652.37,892.52 L655.06,893.38 L657.76,894.25 L660.45,895.14 L663.14,896.04 L665.84,896.95 L668.53,897.87 L671.22,898.81 L673.92,899.75 L676.61,900.71 L679.3,901.68 L682,902.65 L684.69,903.64 L687.38,904.63 L690.07,905.64 L692.77,906.65 L695.46,907.67 L698.15,908.69 L700.85,909.73 L703.54,910.77 L706.23,911.82 L708.93,912.87 L711.62,913.93 L714.31,914.99 L717,916.06 L719.7,917.13 L722.39,918.21 L725.08,919.29 L727.78,920.37 L730.47,921.46 L733.16,922.55 L735.86,923.64 L738.55,924.73 L741.24,925.82 L743.93,926.92 L746.63,928.01 L749.32,929.11 L752.01,930.21 L754.71,931.3 L757.4,932.4 L760.09,933.49 L762.79,934.58 L765.48,935.67 L768.17,936.76 L770.86,937.85 L773.56,938.93 L776.25,940.02 L778.94,941.09 L781.64,942.17 L784.33,943.24 L787.02,944.31 L789.72,945.37 L792.41,946.43 L795.1,947.48 L797.79,948.53 L800.49,949.57 L803.18,950.61 L805.87,951.64 L808.57,952.66 L811.26,953.68 L813.95,954.7 L816.64,955.7 L819.34,956.7 L822.03,957.69 L824.72,958.68 L827.42,959.65 L830.11,960.62 L832.8,961.59 L835.5,962.54 L838.19,963.48 L840.88,964.42 L843.58,965.35 L846.27,966.27 L848.96,967.18 L851.65,968.08 L854.35,968.98 L857.04,969.86 L859.73,970.74 L862.43,971.6 L865.12,972.46 L867.81,973.31 L870.51,974.15 L873.2,974.97 L875.89,975.79 L878.58,976.6 L881.28,977.4 L883.97,978.19 L886.66,978.97 L889.36,979.74 L892.05,980.5 L894.74,981.25 L897.44,981.99 L900.13,982.72 L902.82,983.44 L905.51,984.15 L908.21,984.84 L910.9,985.53 L913.59,986.21 L916.29,986.88 L918.98,987.54 L921.67,988.19 L924.37,988.83 L927.06,989.46 L929.75,990.07 L932.44,990.68 L935.14,991.28 L937.83,991.87 L940.52,992.45 L943.22,993.02 L945.91,993.58 L948.6,994.13 L951.29,994.67 L953.99,995.2 L956.68,995.72 L959.37,996.24 L962.07,996.74 L964.76,997.23 L967.45,997.72 L970.15,998.19 L972.84,998.66 L975.53,999.12 L978.23,999.57 L980.92,1000.01 L983.61,1000.44 L986.3,1000.86 L989,1001.27 L991.69,1001.68 L994.38,1002.08 L997.08,1002.47 L999.77,1002.85 L1002.46,1003.22 L1005.16,1003.59 L1007.85,1003.94 L1010.54,1004.29 L1013.23,1004.64 L1015.93,1004.97 L1018.62,1005.3 L1021.31,1005.62 L1024.01,1005.93 L1026.7,1006.24 L1029.39,1006.53 L1032.09,1006.83 L1034.78,1007.11 L1037.47,1007.39 L1040.16,1007.66 L1042.86,1007.93 L1045.55,1008.19 L1048.24,1008.44 L1050.94,1008.68 L1053.63,1008.92 L1056.32,1009.16 L1059.01,1009.39 L1061.71,1009.61 L1064.4,1009.83 L1067.09,1010.04 L1069.79,1010.25 L1072.48,1010.45 L1075.17,1010.64 L1077.87,1010.83 L1080.56,1011.02 L1083.25,1011.2 L1085.95,1011.38 L1088.64,1011.55 L1091.33,1011.72 L1094.02,1011.88 L1096.72,1012.04 L1099.41,1012.19 L1102.1,1012.34 L1104.8,1012.48 L1107.49,1012.62 L1110.18,1012.76 L1112.88,1012.89 L1115.57,1013.02 L1118.26,1013.15 L1120.95,1013.27 L1123.65,1013.39 L1126.34,1013.5 L1129.03,1013.62 L1131.73,1013.72 L1134.42,1013.83 L1137.11,1013.93 L1139.81,1014.03 L1142.5,1014.13 L1145.19,1014.22 L1147.88,1014.31 L1150.58,1014.4 L1153.27,1014.48 L1155.96,1014.56 L1158.66,1014.64 L1161.35,1014.72 L1164.04,1014.79 L1166.74,1014.87 L1169.43,1014.94 L1172.12,1015 L1174.81,1015.07 L1177.51,1015.13 L1180.2,1015.19" fill="none" stroke="#c10534" stroke-width="5" stroke-linejoin="round"/>
<path d="M103,1008.68 L105.69,1008.44 L108.39,1008.19 L111.08,1007.93 L113.77,1007.66 L116.47,1007.39 L119.16,1007.11 L121.85,1006.83 L124.54,1006.53 L127.24,1006.24 L129.93,1005.93 L132.62,1005.62 L135.32,1005.3 L138.01,1004.97 L140.7,1004.64 L143.4,1004.29 L146.09,1003.94 L148.78,1003.59 L151.47,1003.22 L154.17,1002.85 L156.86,1002.47 L159.55,1002.08 L162.25,1001.68 L164.94,1001.27 L167.63,1000.86 L170.32,1000.44 L173.02,1000.01 L175.71,999.57 L178.4,999.12 L181.1,998.66 L183.79,998.19 L186.48,997.72 L189.18,997.23 L191.87,996.74 L194.56,996.24 L197.25,995.72 L199.95,995.2 L202.64,994.67 L205.33,994.13 L208.03,993.58 L210.72,993.02 L213.41,992.45 L216.11,991.87 L218.8,991.28 L221.49,990.68 L224.19,990.07 L226.88,989.46 L229.57,988.83 L232.26,988.19 L234.96,987.54 L237.65,986.88 L240.34,986.21 L243.04,985.53 L245.73,984.84 L248.42,984.15 L251.12,983.44 L253.81,982.72 L256.5,981.99 L259.19,981.25 L261.89,980.5 L264.58,979.74 L267.27,978.97 L269.97,978.19 L272.66,977.4 L275.35,976.6 L278.05,975.79 L280.74,974.97 L283.43,974.15 L286.12,973.31 L288.82,972.46 L291.51,971.6 L294.2,970.74 L296.9,969.86 L299.59,968.98 L302.28,968.08 L304.98,967.18 L307.67,966.27 L310.36,965.35 L313.05,964.42 L315.75,963.48 L318.44,962.54 L321.13,961.59 L323.83,960.62 L326.52,959.65 L329.21,958.68 L331.9,957.69 L334.6,956.7 L337.29,955.7 L339.98,954.7 L342.68,953.68 L345.37,952.66 L348.06,951.64 L350.76,950.61 L353.45,949.57 L356.14,948.53 L358.84,947.48 L361.53,946.43 L364.22,945.37 L366.91,944.31 L369.61,943.24 L372.3,942.17 L374.99,941.09 L377.69,940.02 L380.38,938.93 L383.07,937.85 L385.77,936.76 L388.46,935.67 L391.15,934.58 L393.84,933.49 L396.54,932.4 L399.23,931.3 L401.92,930.21 L404.62,929.11 L407.31,928.01 L410,926.92 L412.69,925.82 L415.39,924.73 L418.08,923.64 L420.77,922.55 L423.47,921.46 L426.16,920.37 L428.85,919.29 L431.55,918.21 L434.24,917.13 L436.93,916.06 L439.62,914.99 L442.32,913.93 L445.01,912.87 L447.7,911.82 L450.4,910.77 L453.09,909.73 L455.78,908.69 L458.48,907.67 L461.17,906.65 L463.86,905.64 L466.56,904.63 L469.25,903.64 L471.94,902.65 L474.63,901.68 L477.33,900.71 L480.02,899.75 L482.71,898.81 L485.41,897.87 L488.1,896.95 L490.79,896.04 L493.49,895.14 L496.18,894.25 L498.87,893.38 L501.56,892.52 L504.26,891.67 L506.95,890.84 L509.64,890.02 L512.34,889.21 L515.03,888.42 L517.72,887.65 L520.41,886.89 L523.11,886.15 L525.8,885.42 L528.49,884.71 L531.19,884.01 L533.88,883.34 L536.57,882.68 L539.27,882.04 L541.96,881.42 L544.65,880.81 L547.35,880.23 L550.04,879.66 L552.73,879.11 L555.42,878.59 L558.12,878.08 L560.81,877.59 L563.5,877.12 L566.2,876.67 L568.89,876.24 L571.58,875.84 L574.28,875.45 L576.97,875.09 L579.66,874.74 L582.35,874.42 L585.05,874.12 L587.74,873.84 L590.43,873.58 L593.13,873.35 L595.82,873.14 L598.51,872.94 L601.21,872.78 L603.9,872.63 L606.59,872.51 L609.28,872.4 L611.98,872.32 L614.67,872.27 L617.36,872.23 L620.06,872.22 L622.75,872.23 L625.44,872.27 L628.13,872.32 L630.83,872.4 L633.52,872.51 L636.21,872.63 L638.91,872.78 L641.6,872.94 L644.29,873.14 L646.99,873.35 L649.68,873.58 L652.37,873.84 L655.06,874.12 L657.76,874.42 L660.45,874.74 L663.14,875.09 L665.84,875.45 L668.53,875.84 L671.22,876.24 L673.92,876.67 L676.61,877.12 L679.3,877.59 L682,878.08 L684.69,878.59 L687.38,879.11 L690.07,879.66 L692.77,880.23 L695.46,880.81 L698.15,881.42 L700.85,882.04 L703.54,882.68 L706.23,883.34 L708.93,884.01 L711.62,884.71 L714.31,885.42 L717,886.15 L719.7,886.89 L722.39,887.65 L725.08,888.42 L727.78,889.21 L730.47,890.02 L733.16,890.84 L735.86,891.67 L738.55,892.52 L741.24,893.38 L743.93,894.25 L746.63,895.14 L749.32,896.04 L752.01,896.95 L754.71,897.87 L757.4,898.81 L760.09,899.75 L762.79,900.71 L765.48,901.68 L768.17,902.65 L770.86,903.64 L773.56,904.63 L776.25,905.64 L778.94,906.65 L781.64,907.67 L784.33,908.69 L787.02,909.73 L789.72,910.77 L792.41,911.82 L795.1,912.87 L797.79,913.93 L800.49,914.99 L803.18,916.06 L805.87,917.13 L808.57,918.21 L811.26,919.29 L813.95,920.37 L816.64,921.46 L819.34,922.55 L822.03,923.64 L824.72,924.73 L827.42,925.82 L830.11,926.92 L832.8,928.01 L835.5,929.11 L838.19,930.21 L840.88,931.3 L843.58,932.4 L846.27,933.49 L848.96,934.58 L851.65,935.67 L854.35,936.76 L857.04,937.85 L859.73,938.93 L862.43,940.02 L865.12,941.09 L867.81,942.17 L870.51,943.24 L873.2,944.31 L875.89,945.37 L878.58,946.43 L881.28,947.48 L883.97,948.53 L886.66,949.57 L889.36,950.61 L892.05,951.64 L894.74,952.66 L897.44,953.68 L900.13,954.7 L902.82,955.7 L905.51,956.7 L908.21,957.69 L910.9,958.68 L913.59,959.65 L916.29,960.62 L918.98,961.59 L921.67,962.54 L924.37,963.48 L927.06,964.42 L929.75,965.35 L932.44,966.27 L935.14,967.18 L937.83,968.08 L940.52,968.98 L943.22,969.86 L945.91,970.74 L948.6,971.6 L951.29,972.46 L953.99,973.31 L956.68,974.15 L959.37,974.97 L962.07,975.79 L964.76,976.6 L967.45,977.4 L970.15,978.19 L972.84,978.97 L975.53,979.74 L978.23,980.5 L980.92,981.25 L983.61,981.99 L986.3,982.72 L989,983.44 L991.69,984.15 L994.38,984.84 L997.08,985.53 L999.77,986.21 L1002.46,986.88 L1005.16,987.54 L1007.85,988.19 L1010.54,988.83 L1013.23,989.46 L1015.93,990.07 L1018.62,990.68 L1021.31,991.28 L1024.01,991.87 L1026.7,992.45 L1029.39,993.02 L1032.09,993.58 L1034.78,994.13 L1037.47,994.67 L1040.16,995.2 L1042.86,995.72 L1045.55,996.24 L1048.24,996.74 L1050.94,997.23 L1053.63,997.72 L1056.32,998.19 L1059.01,998.66 L1061.71,999.12 L1064.4,999.57 L1067.09,1000.01 L1069.79,1000.44 L1072.48,1000.86 L1075.17,1001.27 L1077.87,1001.68 L1080.56,1002.08 L1083.25,1002.47 L1085.95,1002.85 L1088.64,1003.22 L1091.33,1003.59 L1094.02,1003.94 L1096.72,1004.29 L1099.41,1004.64 L1102.1,1004.97 L1104.8,1005.3 L1107.49,1005.62 L1110.18,1005.93 L1112.88,1006.24 L1115.57,1006.53 L1118.26,1006.83 L1120.95,1007.11 L1123.65,1007.39 L1126.34,1007.66 L1129.03,1007.93 L1131.73,1008.19 L1134.42,1008.44 L1137.11,1008.68 L1139.81,1008.92 L1142.5,1009.16 L1145.19,1009.39 L1147.88,1009.61 L1150.58,1009.83 L1153.27,1010.04 L1155.96,1010.25 L1158.66,1010.45 L1161.35,1010.64 L1164.04,1010.83 L1166.74,1011.02 L1169.43,1011.2 L1172.12,1011.38 L1174.81,1011.55 L1177.51,1011.72 L1180.2,1011.88" fill="none" stroke="#c10534" stroke-width="5" stroke-linejoin="round"/>
<path d="M103,1013.93 L105.69,1013.83 L108.39,1013.72 L111.08,1013.62 L113.77,1013.5 L116.47,1013.39 L119.16,1013.27 L121.85,1013.15 L124.54,1013.02 L127.24,1012.89 L129.93,1012.76 L132.62,1012.62 L135.32,1012.48 L138.01,1012.34 L140.7,1012.19 L143.4,1012.04 L146.09,1011.88 L148.78,1011.72 L151.47,1011.55 L154.17,1011.38 L156.86,1011.2 L159.55,1011.02 L162.25,1010.83 L164.94,1010.64 L167.63,1010.45 L170.32,1010.25 L173.02,1010.04 L175.71,1009.83 L178.4,1009.61 L181.1,1009.39 L183.79,1009.16 L186.48,1008.92 L189.18,1008.68 L191.87,1008.44 L194.56,1008.19 L197.25,1007.93 L199.95,1007.66 L202.64,1007.39 L205.33,1007.11 L208.03,1006.83 L210.72,1006.53 L213.41,1006.24 L216.11,1005.93 L218.8,1005.62 L221.49,1005.3 L224.19,1004.97 L226.88,1004.64 L229.57,1004.29 L232.26,1003.94 L234.96,1003.59 L237.65,1003.22 L240.34,1002.85 L243.04,1002.47 L245.73,1002.08 L248.42,1001.68 L251.12,1001.27 L253.81,1000.86 L256.5,1000.44 L259.19,1000.01 L261.89,999.57 L264.58,999.12 L267.27,998.66 L269.97,998.19 L272.66,997.72 L275.35,997.23 L278.05,996.74 L280.74,996.24 L283.43,995.72 L286.12,995.2 L288.82,994.67 L291.51,994.13 L294.2,993.58 L296.9,993.02 L299.59,992.45 L302.28,991.87 L304.98,991.28 L307.67,990.68 L310.36,990.07 L313.05,989.46 L315.75,988.83 L318.44,988.19 L321.13,987.54 L323.83,986.88 L326.52,986.21 L329.21,985.53 L331.9,984.84 L334.6,984.15 L337.29,983.44 L339.98,982.72 L342.68,981.99 L345.37,981.25 L348.06,980.5 L350.76,979.74 L353.45,978.97 L356.14,978.19 L358.84,977.4 L361.53,976.6 L364.22,975.79 L366.91,974.97 L369.61,974.15 L372.3,973.31 L374.99,972.46 L377.69,971.6 L380.38,970.74 L383.07,969.86 L385.77,968.98 L388.46,968.08 L391.15,967.18 L393.84,966.27 L396.54,965.35 L399.23,964.42 L401.92,963.48 L404.62,962.54 L407.31,961.59 L410,960.62 L412.69,959.65 L415.39,958.68 L418.08,957.69 L420.77,956.7 L423.47,955.7 L426.16,954.7 L428.85,953.68 L431.55,952.66 L434.24,951.64 L436.93,950.61 L439.62,949.57 L442.32,948.53 L445.01,947.48 L447.7,946.43 L450.4,945.37 L453.09,944.31 L455.78,943.24 L458.48,942.17 L461.17,941.09 L463.86,940.02 L466.56,938.93 L469.25,937.85 L471.94,936.76 L474.63,935.67 L477.33,934.58 L480.02,933.49 L482.71,932.4 L485.41,931.3 L488.1,930.21 L490.79,929.11 L493.49,928.01 L496.18,926.92 L498.87,925.82 L501.56,924.73 L504.26,923.64 L506.95,922.55 L509.64,921.46 L512.34,920.37 L515.03,919.29 L517.72,918.21 L520.41,917.13 L523.11,916.06 L525.8,914.99 L528.49,913.93 L531.19,912.87 L533.88,911.82 L536.57,910.77 L539.27,909.73 L541.96,908.69 L544.65,907.67 L547.35,906.65 L550.04,905.64 L552.73,904.63 L555.42,903.64 L558.12,902.65 L560.81,901.68 L563.5,900.71 L566.2,899.75 L568.89,898.81 L571.58,897.87 L574.28,896.95 L576.97,896.04 L579.66,895.14 L582.35,894.25 L585.05,893.38 L587.74,892.52 L590.43,891.67 L593.13,890.84 L595.82,890.02 L598.51,889.21 L601.21,888.42 L603.9,887.65 L606.59,886.89 L609.28,886.15 L611.98,885.42 L614.67,884.71 L617.36,884.01 L620.06,883.34 L622.75,882.68 L625.44,882.04 L628.13,881.42 L630.83,880.81 L633.52,880.23 L636.21,879.66 L638.91,879.11 L641.6,878.59 L644.29,878.08 L646.99,877.59 L649.68,877.12 L652.37,876.67 L655.06,876.24 L657.76,875.84 L660.45,875.45 L663.14,875.09 L665.84,874.74 L668.53,874.42 L671.22,874.12 L673.92,873.84 L676.61,873.58 L679.3,873.35 L682,873.14 L684.69,872.94 L687.38,872.78 L690.07,872.63 L692.77,872.51 L695.46,872.4 L698.15,872.32 L700.85,872.27 L703.54,872.23 L706.23,872.22 L708.93,872.23 L711.62,872.27 L714.31,872.32 L717,872.4 L719.7,872.51 L722.39,872.63 L725.08,872.78 L727.78,872.94 L730.47,873.14 L733.16,873.35 L735.86,873.58 L738.55,873.84 L741.24,874.12 L743.93,874.42 L746.63,874.74 L749.32,875.09 L752.01,875.45 L754.71,875.84 L757.4,876.24 L760.09,876.67 L762.79,877.12 L765.48,877.59 L768.17,878.08 L770.86,878.59 L773.56,879.11 L776.25,879.66 L778.94,880.23 L781.64,880.81 L784.33,881.42 L787.02,882.04 L789.72,882.68 L792.41,883.34 L795.1,884.01 L797.79,884.71 L800.49,885.42 L803.18,886.15 L805.87,886.89 L808.57,887.65 L811.26,888.42 L813.95,889.21 L816.64,890.02 L819.34,890.84 L822.03,891.67 L824.72,892.52 L827.42,893.38 L830.11,894.25 L832.8,895.14 L835.5,896.04 L838.19,896.95 L840.88,897.87 L843.58,898.81 L846.27,899.75 L848.96,900.71 L851.65,901.68 L854.35,902.65 L857.04,903.64 L859.73,904.63 L862.43,905.64 L865.12,906.65 L867.81,907.67 L870.51,908.69 L873.2,909.73 L875.89,910.77 L878.58,911.82 L881.28,912.87 L883.97,913.93 L886.66,914.99 L889.36,916.06 L892.05,917.13 L894.74,918.21 L897.44,919.29 L900.13,920.37 L902.82,921.46 L905.51,922.55 L908.21,923.64 L910.9,924.73 L913.59,925.82 L916.29,926.92 L918.98,928.01 L921.67,929.11 L924.37,930.21 L927.06,931.3 L929.75,932.4 L932.44,933.49 L935.14,934.58 L937.83,935.67 L940.52,936.76 L943.22,937.85 L945.91,938.93 L948.6,940.02 L951.29,941.09 L953.99,942.17 L956.68,943.24 L959.37,944.31 L962.07,945.37 L964.76,946.43 L967.45,947.48 L970.15,948.53 L972.84,949.57 L975.53,950.61 L978.23,951.64 L980.92,952.66 L983.61,953.68 L986.3,954.7 L989,955.7 L991.69,956.7 L994.38,957.69 L997.08,958.68 L999.77,959.65 L1002.46,960.62 L1005.16,961.59 L1007.85,962.54 L1010.54,963.48 L1013.23,964.42 L1015.93,965.35 L1018.62,966.27 L1021.31,967.18 L1024.01,968.08 L1026.7,968.98 L1029.39,969.86 L1032.09,970.74 L1034.78,971.6 L1037.47,972.46 L1040.16,973.31 L1042.86,974.15 L1045.55,974.97 L1048.24,975.79 L1050.94,976.6 L1053.63,977.4 L1056.32,978.19 L1059.01,978.97 L1061.71,979.74 L1064.4,980.5 L1067.09,981.25 L1069.79,981.99 L1072.48,982.72 L1075.17,983.44 L1077.87,984.15 L1080.56,984.84 L1083.25,985.53 L1085.95,986.21 L1088.64,986.88 L1091.33,987.54 L1094.02,988.19 L1096.72,988.83 L1099.41,989.46 L1102.1,990.07 L1104.8,990.68 L1107.49,991.28 L1110.18,991.87 L1112.88,992.45 L1115.57,993.02 L1118.26,993.58 L1120.95,994.13 L1123.65,994.67 L1126.34,995.2 L1129.03,995.72 L1131.73,996.24 L1134.42,996.74 L1137.11,997.23 L1139.81,997.72 L1142.5,998.19 L1145.19,998.66 L1147.88,999.12 L1150.58,999.57 L1153.27,1000.01 L1155.96,1000.44 L1158.66,1000.86 L1161.35,1001.27 L1164.04,1001.68 L1166.74,1002.08 L1169.43,1002.47 L1172.12,1002.85 L1174.81,1003.22 L1177.51,1003.59 L1180.2,1003.94" fill="none" stroke="#c10534" stroke-width="5" stroke-linejoin="round"/>
<path d="M103,1015.94 L105.69,1015.9 L108.39,1015.86 L111.08,1015.83 L113.77,1015.79 L116.47,1015.75 L119.16,1015.7 L121.85,1015.66 L124.54,1015.62 L127.24,1015.57 L129.93,1015.52 L132.62,1015.47 L135.32,1015.42 L138.01,1015.37 L140.7,1015.31 L143.4,1015.25 L146.09,1015.19 L148.78,1015.13 L151.47,1015.07 L154.17,1015 L156.86,1014.94 L159.55,1014.87 L162.25,1014.79 L164.94,1014.72 L167.63,1014.64 L170.32,1014.56 L173.02,1014.48 L175.71,1014.4 L178.4,1014.31 L181.1,1014.22 L183.79,1014.13 L186.48,1014.03 L189.18,1013.93 L191.87,1013.83 L194.56,1013.72 L197.25,1013.62 L199.95,1013.5 L202.64,1013.39 L205.33,1013.27 L208.03,1013.15 L210.72,1013.02 L213.41,1012.89 L216.11,1012.76 L218.8,1012.62 L221.49,1012.48 L224.19,1012.34 L226.88,1012.19 L229.57,1012.04 L232.26,1011.88 L234.96,1011.72 L237.65,1011.55 L240.34,1011.38 L243.04,1011.2 L245.73,1011.02 L248.42,1010.83 L251.12,1010.64 L253.81,1010.45 L256.5,1010.25 L259.19,1010.04 L261.89,1009.83 L264.58,1009.61 L267.27,1009.39 L269.97,1009.16 L272.66,1008.92 L275.35,1008.68 L278.05,1008.44 L280.74,1008.19 L283.43,1007.93 L286.12,1007.66 L288.82,1007.39 L291.51,1007.11 L294.2,1006.83 L296.9,1006.53 L299.59,1006.24 L302.28,1005.93 L304.98,1005.62 L307.67,1005.3 L310.36,1004.97 L313.05,1004.64 L315.75,1004.29 L318.44,1003.94 L321.13,1003.59 L323.83,1003.22 L326.52,1002.85 L329.21,1002.47 L331.9,1002.08 L334.6,1001.68 L337.29,1001.27 L339.98,1000.86 L342.68,1000.44 L345.37,1000.01 L348.06,999.57 L350.76,999.12 L353.45,998.66 L356.14,998.19 L358.84,997.72 L361.53,997.23 L364.22,996.74 L366.91,996.24 L369.61,995.72 L372.3,995.2 L374.99,994.67 L377.69,994.13 L380.38,993.58 L383.07,993.02 L385.77,992.45 L388.46,991.87 L391.15,991.28 L393.84,990.68 L396.54,990.07 L399.23,989.46 L401.92,988.83 L404.62,988.19 L407.31,987.54 L410,986.88 L412.69,986.21 L415.39,985.53 L418.08,984.84 L420.77,984.15 L423.47,983.44 L426.16,982.72 L428.85,981.99 L431.55,981.25 L434.24,980.5 L436.93,979.74 L439.62,978.97 L442.32,978.19 L445.01,977.4 L447.7,976.6 L450.4,975.79 L453.09,974.97 L455.78,974.15 L458.48,973.31 L461.17,972.46 L463.86,971.6 L466.56,970.74 L469.25,969.86 L471.94,968.98 L474.63,968.08 L477.33,967.18 L480.02,966.27 L482.71,965.35 L485.41,964.42 L488.1,963.48 L490.79,962.54 L493.49,961.59 L496.18,960.62 L498.87,959.65 L501.56,958.68 L504.26,957.69 L506.95,956.7 L509.64,955.7 L512.34,954.7 L515.03,953.68 L517.72,952.66 L520.41,951.64 L523.11,950.61 L525.8,949.57 L528.49,948.53 L531.19,947.48 L533.88,946.43 L536.57,945.37 L539.27,944.31 L541.96,943.24 L544.65,942.17 L547.35,941.09 L550.04,940.02 L552.73,938.93 L555.42,937.85 L558.12,936.76 L560.81,935.67 L563.5,934.58 L566.2,933.49 L568.89,932.4 L571.58,931.3 L574.28,930.21 L576.97,929.11 L579.66,928.01 L582.35,926.92 L585.05,925.82 L587.74,924.73 L590.43,923.64 L593.13,922.55 L595.82,921.46 L598.51,920.37 L601.21,919.29 L603.9,918.21 L606.59,917.13 L609.28,916.06 L611.98,914.99 L614.67,913.93 L617.36,912.87 L620.06,911.82 L622.75,910.77 L625.44,909.73 L628.13,908.69 L630.83,907.67 L633.52,906.65 L636.21,905.64 L638.91,904.63 L641.6,903.64 L644.29,902.65 L646.99,901.68 L649.68,900.71 L652.37,899.75 L655.06,898.81 L657.76,897.87 L660.45,896.95 L663.14,896.04 L665.84,895.14 L668.53,894.25 L671.22,893.38 L673.92,892.52 L676.61,891.67 L679.3,890.84 L682,890.02 L684.69,889.21 L687.38,888.42 L690.07,887.65 L692.77,886.89 L695.46,886.15 L698.15,885.42 L700.85,884.71 L703.54,884.01 L706.23,883.34 L708.93,882.68 L711.62,882.04 L714.31,881.42 L717,880.81 L719.7,880.23 L722.39,879.66 L725.08,879.11 L727.78,878.59 L730.47,878.08 L733.16,877.59 L735.86,877.12 L738.55,876.67 L741.24,876.24 L743.93,875.84 L746.63,875.45 L749.32,875.09 L752.01,874.74 L754.71,874.42 L757.4,874.12 L760.09,873.84 L762.79,873.58 L765.48,873.35 L768.17,873.14 L770.86,872.94 L773.56,872.78 L776.25,872.63 L778.94,872.51 L781.64,872.4 L784.33,872.32 L787.02,872.27 L789.72,872.23 L792.41,872.22 L795.1,872.23 L797.79,872.27 L800.49,872.32 L803.18,872.4 L805.87,872.51 L808.57,872.63 L811.26,872.78 L813.95,872.94 L816.64,873.14 L819.34,873.35 L822.03,873.58 L824.72,873.84 L827.42,874.12 L830.11,874.42 L832.8,874.74 L835.5,875.09 L838.19,875.45 L840.88,875.84 L843.58,876.24 L846.27,876.67 L848.96,877.12 L851.65,877.59 L854.35,878.08 L857.04,878.59 L859.73,879.11 L862.43,879.66 L865.12,880.23 L867.81,880.81 L870.51,881.42 L873.2,882.04 L875.89,882.68 L878.58,883.34 L881.28,884.01 L883.97,884.71 L886.66,885.42 L889.36,886.15 L892.05,886.89 L894.74,887.65 L897.44,888.42 L900.13,889.21 L902.82,890.02 L905.51,890.84 L908.21,891.67 L910.9,892.52 L913.59,893.38 L916.29,894.25 L918.98,895.14 L921.67,896.04 L924.37,896.95 L927.06,897.87 L929.75,898.81 L932.44,899.75 L935.14,900.71 L937.83,901.68 L940.52,902.65 L943.22,903.64 L945.91,904.63 L948.6,905.64 L951.29,906.65 L953.99,907.67 L956.68,908.69 L959.37,909.73 L962.07,910.77 L964.76,911.82 L967.45,912.87 L970.15,913.93 L972.84,914.99 L975.53,916.06 L978.23,917.13 L980.92,918.21 L983.61,919.29 L986.3,920.37 L989,921.46 L991.69,922.55 L994.38,923.64 L997.08,924.73 L999.77,925.82 L1002.46,926.92 L1005.16,928.01 L1007.85,929.11 L1010.54,930.21 L1013.23,931.3 L1015.93,932.4 L1018.62,933.49 L1021.31,934.58 L1024.01,935.67 L1026.7,936.76 L1029.39,937.85 L1032.09,938.93 L1034.78,940.02 L1037.47,941.09 L1040.16,942.17 L1042.86,943.24 L1045.55,944.31 L1048.24,945.37 L1050.94,946.43 L1053.63,947.48 L1056.32,948.53 L1059.01,949.57 L1061.71,950.61 L1064.4,951.64 L1067.09,952.66 L1069.79,953.68 L1072.48,954.7 L1075.17,955.7 L1077.87,956.7 L1080.56,957.69 L1083.25,958.68 L1085.95,959.65 L1088.64,960.62 L1091.33,961.59 L1094.02,962.54 L1096.72,963.48 L1099.41,964.42 L1102.1,965.35 L1104.8,966.27 L1107.49,967.18 L1110.18,968.08 L1112.88,968.98 L1115.57,969.86 L1118.26,970.74 L1120.95,971.6 L1123.65,972.46 L1126.34,973.31 L1129.03,974.15 L1131.73,974.97 L1134.42,975.79 L1137.11,976.6 L1139.81,977.4 L1142.5,978.19 L1145.19,978.97 L1147.88,979.74 L1150.58,980.5 L1153.27,981.25 L1155.96,981.99 L1158.66,982.72 L1161.35,983.44 L1164.04,984.15 L1166.74,984.84 L1169.43,985.53 L1172.12,986.21 L1174.81,986.88 L1177.51,987.54 L1180.2,988.19" fill="none" stroke="#c10534" stroke-width="5" stroke-linejoin="round"/>
<path d="M83.3,635.3 L83.3,1037 L1200,1037" fill="none" stroke="#000" stroke-width="2" stroke-linejoin="round" stroke-linecap="round"/>
<line x1="71.5" y1="1016.8" x2="83.3" y2="1016.8" stroke="#000" stroke-width="2" stroke-linecap="round"/>
<g transform="translate(58,1016.8) rotate(-90)"><text x="-8.62" y="0" font-size="31.0">0</text></g>
<line x1="71.5" y1="926.2" x2="83.3" y2="926.2" stroke="#000" stroke-width="2" stroke-linecap="round"/>
<g transform="translate(58,926.2) rotate(-90)"><text x="-21.55" y="0" font-size="31.0">.05</text></g>
<line x1="71.5" y1="835.6" x2="83.3" y2="835.6" stroke="#000" stroke-width="2" stroke-linecap="round"/>
<g transform="translate(58,835.6) rotate(-90)"><text x="-12.93" y="0" font-size="31.0">.</text><path d="M3.81,0 L6.82,0 L6.82,-21.79 L4.37,-21.79 C3.81,-19.53 2.76,-18.29 -1.18,-18.07 L-1.18,-15.96 L3.81,-15.96 Z" fill="#000"/></g>
<line x1="71.5" y1="745" x2="83.3" y2="745" stroke="#000" stroke-width="2" stroke-linecap="round"/>
<g transform="translate(58,745) rotate(-90)"><text x="-21.55" y="0" font-size="31.0">.</text><path d="M-4.81,0 L-1.8,0 L-1.8,-21.79 L-4.25,-21.79 C-4.81,-19.53 -5.86,-18.29 -9.8,-18.07 L-9.8,-15.96 L-4.81,-15.96 Z" fill="#000"/><text x="4.31" y="0" font-size="31.0">5</text></g>
<line x1="71.5" y1="654.4" x2="83.3" y2="654.4" stroke="#000" stroke-width="2" stroke-linecap="round"/>
<g transform="translate(58,654.4) rotate(-90)"><text x="-12.93" y="0" font-size="31.0">.2</text></g>
<text transform="translate(24.2,836.4) rotate(-90)" text-anchor="middle" font-size="31.0">density</text>
<line x1="103" y1="1037" x2="103" y2="1048" stroke="#000" stroke-width="2" stroke-linecap="round"/>
<text x="80.6" y="1079.5" font-size="31.0">-</text><path d="M99.05,1079.5 L102.05,1079.5 L102.05,1057.71 L99.61,1057.71 C99.05,1059.97 97.99,1061.21 94.06,1061.43 L94.06,1063.54 L99.05,1063.54 Z" fill="#000"/><text x="108.16" y="1079.5" font-size="31.0">0</text>
<line x1="146.09" y1="1037" x2="146.09" y2="1042" stroke="#000" stroke-width="2" stroke-linecap="round"/>
<line x1="189.18" y1="1037" x2="189.18" y2="1042" stroke="#000" stroke-width="2" stroke-linecap="round"/>
<line x1="232.26" y1="1037" x2="232.26" y2="1042" stroke="#000" stroke-width="2" stroke-linecap="round"/>
<line x1="275.35" y1="1037" x2="275.35" y2="1042" stroke="#000" stroke-width="2" stroke-linecap="round"/>
<line x1="318.44" y1="1037" x2="318.44" y2="1048" stroke="#000" stroke-width="2" stroke-linecap="round"/>
<text x="304.66" y="1079.5" font-size="31.0">-5</text>
<line x1="361.53" y1="1037" x2="361.53" y2="1042" stroke="#000" stroke-width="2" stroke-linecap="round"/>
<line x1="404.62" y1="1037" x2="404.62" y2="1042" stroke="#000" stroke-width="2" stroke-linecap="round"/>
<line x1="447.7" y1="1037" x2="447.7" y2="1042" stroke="#000" stroke-width="2" stroke-linecap="round"/>
<line x1="490.79" y1="1037" x2="490.79" y2="1042" stroke="#000" stroke-width="2" stroke-linecap="round"/>
<line x1="533.88" y1="1037" x2="533.88" y2="1048" stroke="#000" stroke-width="2" stroke-linecap="round"/>
<text x="525.26" y="1079.5" font-size="31.0">0</text>
<line x1="576.97" y1="1037" x2="576.97" y2="1042" stroke="#000" stroke-width="2" stroke-linecap="round"/>
<line x1="620.06" y1="1037" x2="620.06" y2="1042" stroke="#000" stroke-width="2" stroke-linecap="round"/>
<line x1="663.14" y1="1037" x2="663.14" y2="1042" stroke="#000" stroke-width="2" stroke-linecap="round"/>
<line x1="706.23" y1="1037" x2="706.23" y2="1042" stroke="#000" stroke-width="2" stroke-linecap="round"/>
<line x1="749.32" y1="1037" x2="749.32" y2="1048" stroke="#000" stroke-width="2" stroke-linecap="round"/>
<text x="740.7" y="1079.5" font-size="31.0">5</text>
<line x1="792.41" y1="1037" x2="792.41" y2="1042" stroke="#000" stroke-width="2" stroke-linecap="round"/>
<line x1="835.5" y1="1037" x2="835.5" y2="1042" stroke="#000" stroke-width="2" stroke-linecap="round"/>
<line x1="878.58" y1="1037" x2="878.58" y2="1042" stroke="#000" stroke-width="2" stroke-linecap="round"/>
<line x1="921.67" y1="1037" x2="921.67" y2="1042" stroke="#000" stroke-width="2" stroke-linecap="round"/>
<line x1="964.76" y1="1037" x2="964.76" y2="1048" stroke="#000" stroke-width="2" stroke-linecap="round"/>
<path d="M955.65,1079.5 L958.65,1079.5 L958.65,1057.71 L956.2,1057.71 C955.65,1059.97 954.59,1061.21 950.66,1061.43 L950.66,1063.54 L955.65,1063.54 Z" fill="#000"/><text x="964.76" y="1079.5" font-size="31.0">0</text>
<line x1="1007.85" y1="1037" x2="1007.85" y2="1042" stroke="#000" stroke-width="2" stroke-linecap="round"/>
<line x1="1050.94" y1="1037" x2="1050.94" y2="1042" stroke="#000" stroke-width="2" stroke-linecap="round"/>
<line x1="1094.02" y1="1037" x2="1094.02" y2="1042" stroke="#000" stroke-width="2" stroke-linecap="round"/>
<line x1="1137.11" y1="1037" x2="1137.11" y2="1042" stroke="#000" stroke-width="2" stroke-linecap="round"/>
<line x1="1180.2" y1="1037" x2="1180.2" y2="1048" stroke="#000" stroke-width="2" stroke-linecap="round"/>
<path d="M1171.09,1079.5 L1174.09,1079.5 L1174.09,1057.71 L1171.64,1057.71 C1171.09,1059.97 1170.03,1061.21 1166.1,1061.43 L1166.1,1063.54 L1171.09,1063.54 Z" fill="#000"/><text x="1180.2" y="1079.5" font-size="31.0">5</text>
<text x="641.6" y="1114.1" text-anchor="middle" font-size="31.0">change score c</text>
<rect x="95" y="1138.5" width="1093.5" height="56.5" fill="#fff" stroke="#000" stroke-width="2.4"/>
<line x1="107.5" y1="1167.1" x2="223.9" y2="1167.1" stroke="#1a476f" stroke-width="5"/>
<text x="251.66" y="1178.8" font-size="31.0">σ = 2</text>
<line x1="390.6" y1="1167.1" x2="507" y2="1167.1" stroke="#55752f" stroke-width="5"/>
<text x="534.76" y="1178.8" font-size="31.0">σ = 3</text>
<line x1="673.7" y1="1167.1" x2="790.1" y2="1167.1" stroke="#e37e00" stroke-width="5"/>
<text x="817.86" y="1178.8" font-size="31.0">σ = 4</text>
<line x1="956.8" y1="1167.1" x2="1073.2" y2="1167.1" stroke="#c10534" stroke-width="5"/>
<text x="1100.96" y="1178.8" font-size="31.0">σ = 5</text>
</svg></body></html>
